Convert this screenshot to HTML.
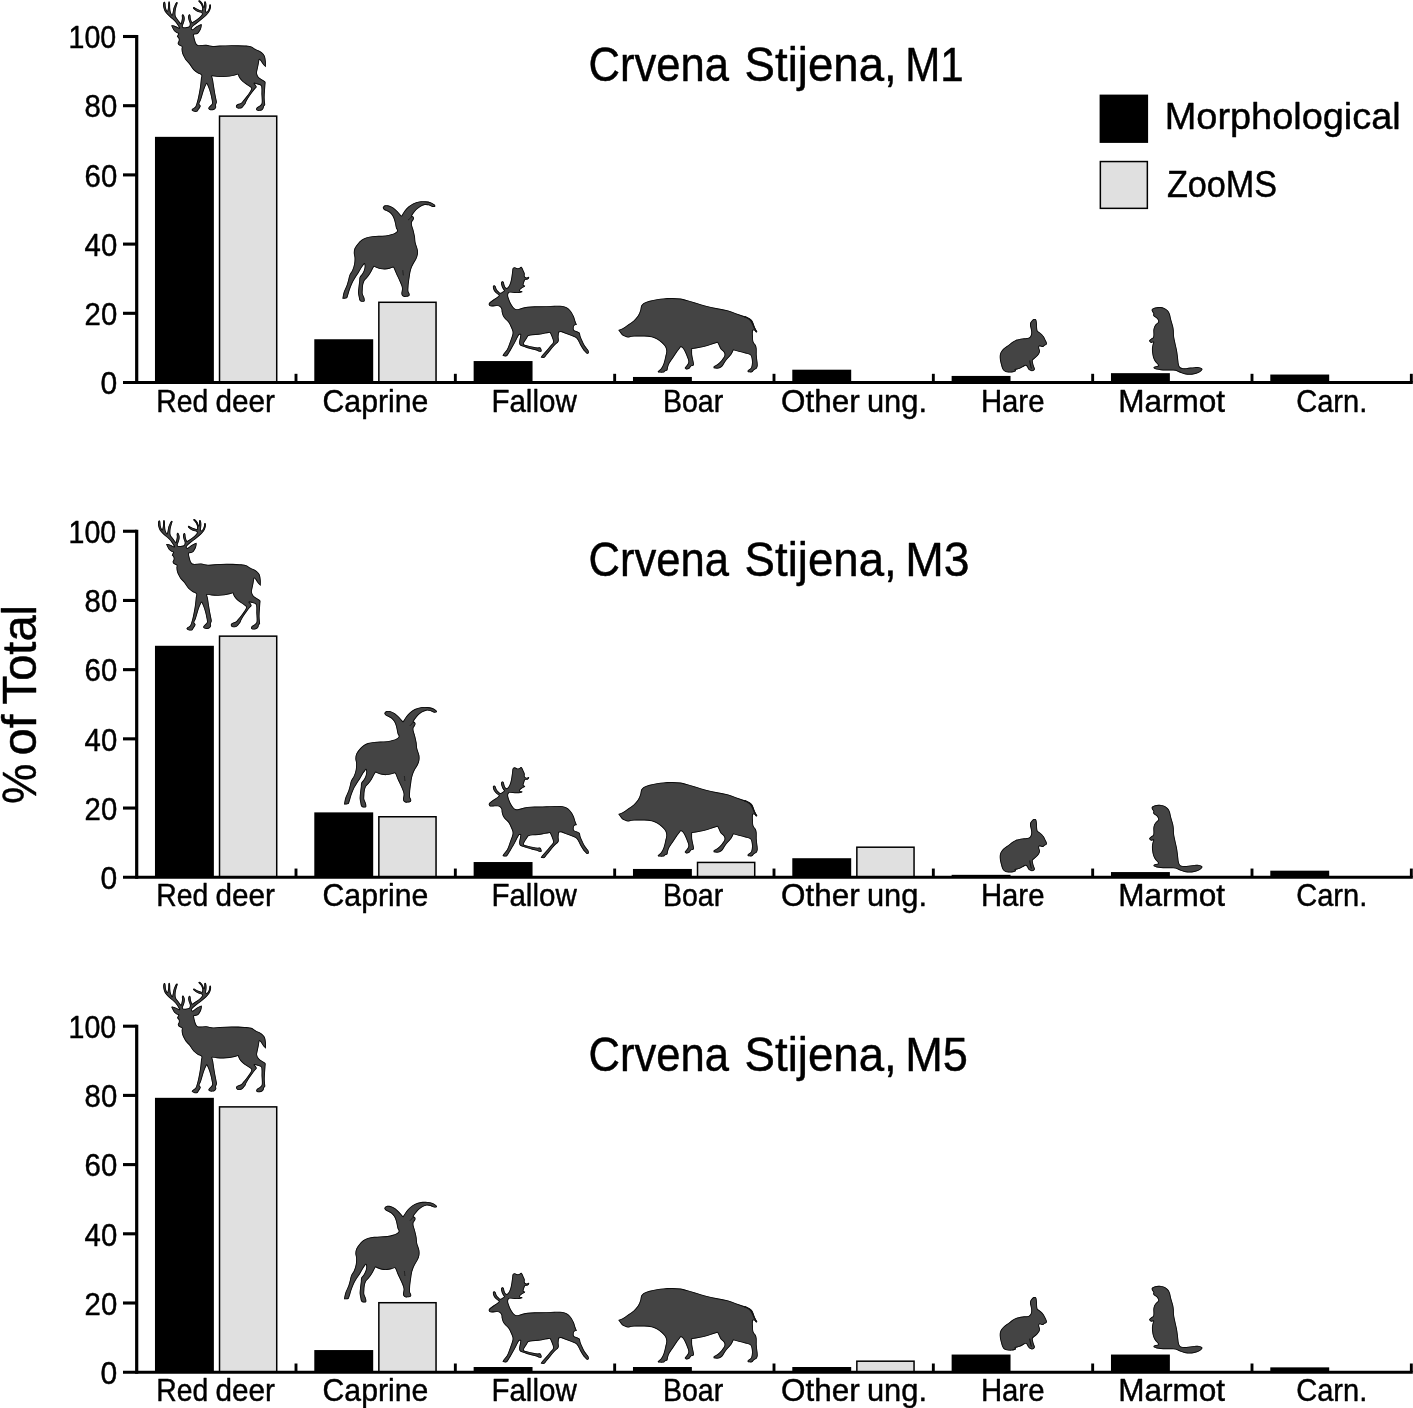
<!DOCTYPE html>
<html lang="en"><head><meta charset="utf-8"><title>Crvena Stijena fauna</title>
<style>html,body{margin:0;padding:0;background:#fff}svg{display:block}text{font-family:"Liberation Sans",sans-serif;fill:#000;stroke:#000;stroke-width:.45px;stroke-linejoin:round}</style></head><body>
<svg width="1413" height="1408" viewBox="0 0 1413 1408">
<rect width="1413" height="1408" fill="#fff"/>
<g id="panel1">
<rect x="154.97" y="136.84" width="58.9" height="245.66" fill="#000"/>
<rect x="219.52" y="116.14" width="57.20" height="266.36" fill="#e0e0e0" stroke="#000" stroke-width="1.5"/>
<rect x="314.30" y="339.25" width="58.9" height="43.25" fill="#000"/>
<rect x="378.85" y="302.29" width="57.20" height="80.21" fill="#e0e0e0" stroke="#000" stroke-width="1.5"/>
<rect x="473.64" y="361.05" width="58.9" height="21.45" fill="#000"/>
<rect x="632.97" y="376.96" width="58.9" height="5.54" fill="#000"/>
<rect x="792.30" y="369.70" width="58.9" height="12.80" fill="#000"/>
<rect x="951.63" y="375.93" width="58.9" height="6.57" fill="#000"/>
<rect x="1110.97" y="373.16" width="58.9" height="9.34" fill="#000"/>
<rect x="1270.30" y="374.54" width="58.9" height="7.96" fill="#000"/>
<path d="M136.7 35.00V384.00" stroke="#000" stroke-width="3.2" fill="none"/>
<path d="M123 382.50H1412.8" stroke="#000" stroke-width="3" fill="none"/>
<path d="M123 313.30H136.7" stroke="#000" stroke-width="3.1" fill="none"/>
<path d="M123 244.10H136.7" stroke="#000" stroke-width="3.1" fill="none"/>
<path d="M123 174.90H136.7" stroke="#000" stroke-width="3.1" fill="none"/>
<path d="M123 105.70H136.7" stroke="#000" stroke-width="3.1" fill="none"/>
<path d="M123 36.50H136.7" stroke="#000" stroke-width="3.1" fill="none"/>
<path d="M296.00 373.80V382.50" stroke="#000" stroke-width="2.9" fill="none"/>
<path d="M455.34 373.80V382.50" stroke="#000" stroke-width="2.9" fill="none"/>
<path d="M614.67 373.80V382.50" stroke="#000" stroke-width="2.9" fill="none"/>
<path d="M774.00 373.80V382.50" stroke="#000" stroke-width="2.9" fill="none"/>
<path d="M933.33 373.80V382.50" stroke="#000" stroke-width="2.9" fill="none"/>
<path d="M1092.67 373.80V382.50" stroke="#000" stroke-width="2.9" fill="none"/>
<path d="M1252.00 373.80V382.50" stroke="#000" stroke-width="2.9" fill="none"/>
<path d="M1411.33 373.80V382.50" stroke="#000" stroke-width="2.9" fill="none"/>
<text x="100.60" y="394.20" font-size="30.6" textLength="16.71" lengthAdjust="spacingAndGlyphs">0</text>
<text x="84.60" y="325.00" font-size="30.6" textLength="32.60" lengthAdjust="spacingAndGlyphs">20</text>
<text x="84.60" y="255.80" font-size="30.6" textLength="32.60" lengthAdjust="spacingAndGlyphs">40</text>
<text x="84.60" y="186.60" font-size="30.6" textLength="32.60" lengthAdjust="spacingAndGlyphs">60</text>
<text x="84.60" y="117.40" font-size="30.6" textLength="32.60" lengthAdjust="spacingAndGlyphs">80</text>
<text x="68.57" y="48.20" font-size="30.6" textLength="47.64" lengthAdjust="spacingAndGlyphs">100</text>
<text y="411.70" font-size="31.5"><tspan x="156.33" textLength="51.99" lengthAdjust="spacingAndGlyphs">Red</tspan> <tspan x="215.40" textLength="59.40" lengthAdjust="spacingAndGlyphs">deer</tspan></text>
<text y="411.70" font-size="31.5"><tspan x="322.59" textLength="105.63" lengthAdjust="spacingAndGlyphs">Caprine</tspan></text>
<text y="411.70" font-size="31.5"><tspan x="491.38" textLength="85.42" lengthAdjust="spacingAndGlyphs">Fallow</tspan></text>
<text y="411.70" font-size="31.5"><tspan x="662.94" textLength="60.24" lengthAdjust="spacingAndGlyphs">Boar</tspan></text>
<text y="411.70" font-size="31.5"><tspan x="781.08" textLength="78.62" lengthAdjust="spacingAndGlyphs">Other</tspan> <tspan x="866.94" textLength="60.07" lengthAdjust="spacingAndGlyphs">ung.</tspan></text>
<text y="411.70" font-size="31.5"><tspan x="980.91" textLength="63.53" lengthAdjust="spacingAndGlyphs">Hare</tspan></text>
<text y="411.70" font-size="31.5"><tspan x="1118.18" textLength="106.82" lengthAdjust="spacingAndGlyphs">Marmot</tspan></text>
<text y="411.70" font-size="31.5"><tspan x="1296.16" textLength="71.11" lengthAdjust="spacingAndGlyphs">Carn.</tspan></text>
<text y="80.80" font-size="47.2"><tspan x="588.60" textLength="140.50" lengthAdjust="spacingAndGlyphs">Crvena</tspan> <tspan x="744.56" textLength="152.14" lengthAdjust="spacingAndGlyphs">Stijena,</tspan> <tspan x="905.26" textLength="58.46" lengthAdjust="spacingAndGlyphs">M1</tspan></text>
</g>
<g id="panel2">
<rect x="154.97" y="645.78" width="58.9" height="231.47" fill="#000"/>
<rect x="219.52" y="636.15" width="57.20" height="241.10" fill="#e0e0e0" stroke="#000" stroke-width="1.5"/>
<rect x="314.30" y="812.38" width="58.9" height="64.88" fill="#000"/>
<rect x="378.85" y="816.76" width="57.20" height="60.49" fill="#e0e0e0" stroke="#000" stroke-width="1.5"/>
<rect x="473.64" y="862.03" width="58.9" height="15.22" fill="#000"/>
<rect x="632.97" y="868.95" width="58.9" height="8.30" fill="#000"/>
<rect x="697.52" y="862.43" width="57.20" height="14.82" fill="#e0e0e0" stroke="#000" stroke-width="1.5"/>
<rect x="792.30" y="858.22" width="58.9" height="19.03" fill="#000"/>
<rect x="856.85" y="847.21" width="57.20" height="30.04" fill="#e0e0e0" stroke="#000" stroke-width="1.5"/>
<rect x="951.63" y="874.83" width="58.9" height="2.42" fill="#000"/>
<rect x="1110.97" y="872.06" width="58.9" height="5.19" fill="#000"/>
<rect x="1270.30" y="870.68" width="58.9" height="6.57" fill="#000"/>
<path d="M136.7 529.75V878.75" stroke="#000" stroke-width="3.2" fill="none"/>
<path d="M123 877.25H1412.8" stroke="#000" stroke-width="3" fill="none"/>
<path d="M123 808.05H136.7" stroke="#000" stroke-width="3.1" fill="none"/>
<path d="M123 738.85H136.7" stroke="#000" stroke-width="3.1" fill="none"/>
<path d="M123 669.65H136.7" stroke="#000" stroke-width="3.1" fill="none"/>
<path d="M123 600.45H136.7" stroke="#000" stroke-width="3.1" fill="none"/>
<path d="M123 531.25H136.7" stroke="#000" stroke-width="3.1" fill="none"/>
<path d="M296.00 868.55V877.25" stroke="#000" stroke-width="2.9" fill="none"/>
<path d="M455.34 868.55V877.25" stroke="#000" stroke-width="2.9" fill="none"/>
<path d="M614.67 868.55V877.25" stroke="#000" stroke-width="2.9" fill="none"/>
<path d="M774.00 868.55V877.25" stroke="#000" stroke-width="2.9" fill="none"/>
<path d="M933.33 868.55V877.25" stroke="#000" stroke-width="2.9" fill="none"/>
<path d="M1092.67 868.55V877.25" stroke="#000" stroke-width="2.9" fill="none"/>
<path d="M1252.00 868.55V877.25" stroke="#000" stroke-width="2.9" fill="none"/>
<path d="M1411.33 868.55V877.25" stroke="#000" stroke-width="2.9" fill="none"/>
<text x="100.60" y="888.95" font-size="30.6" textLength="16.71" lengthAdjust="spacingAndGlyphs">0</text>
<text x="84.60" y="819.75" font-size="30.6" textLength="32.60" lengthAdjust="spacingAndGlyphs">20</text>
<text x="84.60" y="750.55" font-size="30.6" textLength="32.60" lengthAdjust="spacingAndGlyphs">40</text>
<text x="84.60" y="681.35" font-size="30.6" textLength="32.60" lengthAdjust="spacingAndGlyphs">60</text>
<text x="84.60" y="612.15" font-size="30.6" textLength="32.60" lengthAdjust="spacingAndGlyphs">80</text>
<text x="68.57" y="542.95" font-size="30.6" textLength="47.64" lengthAdjust="spacingAndGlyphs">100</text>
<text y="906.45" font-size="31.5"><tspan x="156.33" textLength="51.99" lengthAdjust="spacingAndGlyphs">Red</tspan> <tspan x="215.40" textLength="59.40" lengthAdjust="spacingAndGlyphs">deer</tspan></text>
<text y="906.45" font-size="31.5"><tspan x="322.59" textLength="105.63" lengthAdjust="spacingAndGlyphs">Caprine</tspan></text>
<text y="906.45" font-size="31.5"><tspan x="491.38" textLength="85.42" lengthAdjust="spacingAndGlyphs">Fallow</tspan></text>
<text y="906.45" font-size="31.5"><tspan x="662.94" textLength="60.24" lengthAdjust="spacingAndGlyphs">Boar</tspan></text>
<text y="906.45" font-size="31.5"><tspan x="781.08" textLength="78.62" lengthAdjust="spacingAndGlyphs">Other</tspan> <tspan x="866.94" textLength="60.07" lengthAdjust="spacingAndGlyphs">ung.</tspan></text>
<text y="906.45" font-size="31.5"><tspan x="980.91" textLength="63.53" lengthAdjust="spacingAndGlyphs">Hare</tspan></text>
<text y="906.45" font-size="31.5"><tspan x="1118.18" textLength="106.82" lengthAdjust="spacingAndGlyphs">Marmot</tspan></text>
<text y="906.45" font-size="31.5"><tspan x="1296.16" textLength="71.11" lengthAdjust="spacingAndGlyphs">Carn.</tspan></text>
<text y="575.55" font-size="47.2"><tspan x="588.60" textLength="140.50" lengthAdjust="spacingAndGlyphs">Crvena</tspan> <tspan x="744.56" textLength="152.14" lengthAdjust="spacingAndGlyphs">Stijena,</tspan> <tspan x="905.22" textLength="64.27" lengthAdjust="spacingAndGlyphs">M3</tspan></text>
</g>
<g id="panel3">
<rect x="154.97" y="1097.82" width="58.9" height="274.38" fill="#000"/>
<rect x="219.52" y="1106.88" width="57.20" height="265.32" fill="#e0e0e0" stroke="#000" stroke-width="1.5"/>
<rect x="314.30" y="1350.06" width="58.9" height="22.14" fill="#000"/>
<rect x="378.85" y="1302.71" width="57.20" height="69.49" fill="#e0e0e0" stroke="#000" stroke-width="1.5"/>
<rect x="473.64" y="1367.01" width="58.9" height="5.19" fill="#000"/>
<rect x="632.97" y="1367.01" width="58.9" height="5.19" fill="#000"/>
<rect x="792.30" y="1367.01" width="58.9" height="5.19" fill="#000"/>
<rect x="856.85" y="1361.19" width="57.20" height="11.01" fill="#e0e0e0" stroke="#000" stroke-width="1.5"/>
<rect x="951.63" y="1354.55" width="58.9" height="17.65" fill="#000"/>
<rect x="1110.97" y="1354.55" width="58.9" height="17.65" fill="#000"/>
<rect x="1270.30" y="1367.36" width="58.9" height="4.84" fill="#000"/>
<path d="M136.7 1024.70V1373.70" stroke="#000" stroke-width="3.2" fill="none"/>
<path d="M123 1372.20H1412.8" stroke="#000" stroke-width="3" fill="none"/>
<path d="M123 1303.00H136.7" stroke="#000" stroke-width="3.1" fill="none"/>
<path d="M123 1233.80H136.7" stroke="#000" stroke-width="3.1" fill="none"/>
<path d="M123 1164.60H136.7" stroke="#000" stroke-width="3.1" fill="none"/>
<path d="M123 1095.40H136.7" stroke="#000" stroke-width="3.1" fill="none"/>
<path d="M123 1026.20H136.7" stroke="#000" stroke-width="3.1" fill="none"/>
<path d="M296.00 1363.50V1372.20" stroke="#000" stroke-width="2.9" fill="none"/>
<path d="M455.34 1363.50V1372.20" stroke="#000" stroke-width="2.9" fill="none"/>
<path d="M614.67 1363.50V1372.20" stroke="#000" stroke-width="2.9" fill="none"/>
<path d="M774.00 1363.50V1372.20" stroke="#000" stroke-width="2.9" fill="none"/>
<path d="M933.33 1363.50V1372.20" stroke="#000" stroke-width="2.9" fill="none"/>
<path d="M1092.67 1363.50V1372.20" stroke="#000" stroke-width="2.9" fill="none"/>
<path d="M1252.00 1363.50V1372.20" stroke="#000" stroke-width="2.9" fill="none"/>
<path d="M1411.33 1363.50V1372.20" stroke="#000" stroke-width="2.9" fill="none"/>
<text x="100.60" y="1383.90" font-size="30.6" textLength="16.71" lengthAdjust="spacingAndGlyphs">0</text>
<text x="84.60" y="1314.70" font-size="30.6" textLength="32.60" lengthAdjust="spacingAndGlyphs">20</text>
<text x="84.60" y="1245.50" font-size="30.6" textLength="32.60" lengthAdjust="spacingAndGlyphs">40</text>
<text x="84.60" y="1176.30" font-size="30.6" textLength="32.60" lengthAdjust="spacingAndGlyphs">60</text>
<text x="84.60" y="1107.10" font-size="30.6" textLength="32.60" lengthAdjust="spacingAndGlyphs">80</text>
<text x="68.57" y="1037.90" font-size="30.6" textLength="47.64" lengthAdjust="spacingAndGlyphs">100</text>
<text y="1401.40" font-size="31.5"><tspan x="156.33" textLength="51.99" lengthAdjust="spacingAndGlyphs">Red</tspan> <tspan x="215.40" textLength="59.40" lengthAdjust="spacingAndGlyphs">deer</tspan></text>
<text y="1401.40" font-size="31.5"><tspan x="322.59" textLength="105.63" lengthAdjust="spacingAndGlyphs">Caprine</tspan></text>
<text y="1401.40" font-size="31.5"><tspan x="491.38" textLength="85.42" lengthAdjust="spacingAndGlyphs">Fallow</tspan></text>
<text y="1401.40" font-size="31.5"><tspan x="662.94" textLength="60.24" lengthAdjust="spacingAndGlyphs">Boar</tspan></text>
<text y="1401.40" font-size="31.5"><tspan x="781.08" textLength="78.62" lengthAdjust="spacingAndGlyphs">Other</tspan> <tspan x="866.94" textLength="60.07" lengthAdjust="spacingAndGlyphs">ung.</tspan></text>
<text y="1401.40" font-size="31.5"><tspan x="980.91" textLength="63.53" lengthAdjust="spacingAndGlyphs">Hare</tspan></text>
<text y="1401.40" font-size="31.5"><tspan x="1118.18" textLength="106.82" lengthAdjust="spacingAndGlyphs">Marmot</tspan></text>
<text y="1401.40" font-size="31.5"><tspan x="1296.16" textLength="71.11" lengthAdjust="spacingAndGlyphs">Carn.</tspan></text>
<text y="1070.50" font-size="47.2"><tspan x="588.60" textLength="140.50" lengthAdjust="spacingAndGlyphs">Crvena</tspan> <tspan x="744.56" textLength="152.14" lengthAdjust="spacingAndGlyphs">Stijena,</tspan> <tspan x="905.22" textLength="62.65" lengthAdjust="spacingAndGlyphs">M5</tspan></text>
</g>
<rect x="1099.6" y="94.6" width="48.5" height="48.3" fill="#000"/>
<rect x="1100.35" y="161.55" width="47.0" height="46.8" fill="#e0e0e0" stroke="#000" stroke-width="1.5"/>
<text y="128.7" font-size="36"><tspan x="1164.76" textLength="235.89" lengthAdjust="spacingAndGlyphs">Morphological</tspan></text>
<text y="197.2" font-size="36"><tspan x="1166.90" textLength="110.30" lengthAdjust="spacingAndGlyphs">ZooMS</tspan></text>
<text transform="translate(35.6 0) rotate(-90)" y="0" font-size="47.6"><tspan x="-804.06" textLength="40.32" lengthAdjust="spacingAndGlyphs">%</tspan> <tspan x="-755.46" textLength="40.93" lengthAdjust="spacingAndGlyphs">of</tspan> <tspan x="-704.42" textLength="99.51" lengthAdjust="spacingAndGlyphs">Total</tspan></text>
<g fill="#444" stroke="#0c0c0c" stroke-width="1.8" stroke-linejoin="round">
<defs>
<clipPath id="clip-deer"><path d="M171.16 25.48C171.70 25.40 172.24 25.15 172.78 25.23C173.67 25.35 174.51 25.75 175.34 26.08C176.21 26.43 177.05 26.87 177.90 27.27C178.35 27.48 178.81 27.70 179.26 27.91C178.88 27.27 178.51 26.62 178.11 25.99C177.56 25.13 177.03 24.25 176.41 23.44C175.67 22.47 174.92 21.52 174.06 20.67C173.07 19.67 171.91 18.84 170.87 17.90C169.64 16.78 168.39 15.69 167.24 14.49C166.35 13.55 165.43 12.62 164.77 11.51C164.16 10.46 163.79 9.27 163.49 8.10C163.22 6.99 163.07 5.83 163.07 4.69C163.07 3.89 163.20 3.08 163.49 2.34C163.62 2.03 163.93 1.75 164.26 1.70C164.58 1.66 164.97 1.85 165.11 2.13C165.44 2.78 165.44 3.54 165.54 4.26C165.67 5.25 165.60 6.27 165.80 7.24C165.97 8.15 166.29 9.03 166.65 9.89C166.81 10.26 167.10 10.57 167.33 10.91C167.56 9.83 167.87 8.76 168.01 7.67C168.16 6.54 168.10 5.40 168.18 4.26C168.23 3.55 168.19 2.82 168.39 2.13C168.49 1.81 168.70 1.36 169.03 1.36C169.40 1.36 169.69 1.79 169.80 2.13C170.06 2.95 170.04 3.83 170.10 4.69C170.17 5.82 170.08 6.96 170.18 8.10C170.30 9.38 170.40 10.69 170.74 11.93C171.03 12.98 171.62 13.92 172.06 14.91C172.29 13.92 172.54 12.93 172.74 11.93C173.00 10.66 173.11 9.35 173.47 8.10C173.80 6.92 174.31 5.80 174.83 4.69C175.19 3.92 175.57 3.14 176.11 2.47C176.31 2.22 176.65 1.96 176.96 2.05C177.32 2.14 177.70 2.53 177.68 2.90C177.65 3.82 177.08 4.65 176.83 5.54C176.47 6.81 176.09 8.08 175.85 9.37C175.62 10.64 175.43 11.92 175.43 13.21C175.43 14.36 175.43 15.56 175.85 16.62C176.28 17.68 177.22 18.46 177.90 19.39C178.62 20.38 179.30 21.39 180.03 22.37C180.32 22.77 180.65 23.14 180.97 23.52C181.11 22.78 181.25 22.05 181.39 21.31C181.58 20.31 181.87 19.33 181.95 18.32C182.02 17.33 181.62 16.32 181.82 15.34C181.92 14.84 182.28 14.17 182.80 14.15C183.33 14.13 183.71 14.78 183.95 15.26C184.37 16.07 184.65 16.98 184.72 17.90C184.80 19.04 184.61 20.19 184.37 21.31C184.16 22.33 183.70 23.30 183.35 24.29C183.13 24.93 182.70 25.53 182.67 26.21C182.65 26.61 183.04 26.92 183.22 27.27C184.01 27.30 184.79 27.43 185.57 27.36C186.43 27.28 187.31 27.14 188.12 26.85C188.61 26.67 188.98 26.28 189.40 25.99C189.55 25.28 189.90 24.58 189.83 23.86C189.73 22.89 189.17 22.03 188.89 21.09C188.60 20.11 188.23 19.13 188.12 18.11C188.04 17.26 188.06 16.36 188.34 15.55C188.51 15.05 188.87 14.41 189.40 14.36C189.87 14.31 190.27 14.90 190.43 15.34C190.72 16.15 190.53 17.05 190.68 17.90C190.83 18.76 191.04 19.62 191.32 20.45C191.54 21.12 191.89 21.73 192.17 22.37C193.52 21.48 194.90 20.62 196.22 19.69C197.31 18.92 198.42 18.15 199.42 17.26C200.24 16.52 201.04 15.73 201.68 14.83C201.91 14.49 202.04 14.04 201.97 13.64C201.92 13.29 201.55 13.07 201.33 12.78C200.55 12.64 199.74 12.62 198.99 12.36C197.95 12.00 196.94 11.53 196.01 10.95C195.10 10.39 194.25 9.71 193.49 8.95C193.22 8.68 192.90 8.30 192.98 7.93C193.08 7.49 193.48 6.94 193.92 6.99C194.77 7.08 195.38 7.88 196.14 8.27C197.11 8.77 198.09 9.28 199.12 9.67C200.04 10.02 201.02 10.21 201.97 10.48C202.04 9.62 202.33 8.74 202.19 7.88C201.99 6.70 201.59 5.52 200.99 4.47C200.41 3.45 199.39 2.74 198.69 1.79C198.50 1.52 198.26 1.17 198.35 0.85C198.44 0.56 198.82 0.29 199.12 0.34C199.78 0.45 200.42 0.81 200.91 1.28C201.73 2.08 202.43 3.03 202.95 4.05C203.43 4.97 203.58 6.04 203.89 7.03C203.98 6.25 204.09 5.47 204.15 4.69C204.21 3.84 204.04 2.96 204.23 2.13C204.32 1.77 204.58 1.30 204.96 1.28C205.37 1.26 205.79 1.66 205.94 2.05C206.32 3.08 206.39 4.22 206.45 5.33C206.50 6.39 206.38 7.46 206.28 8.52C206.21 9.31 205.88 10.08 205.94 10.87C205.97 11.27 206.33 11.58 206.53 11.93C206.96 11.43 207.48 11.01 207.81 10.44C208.32 9.57 208.74 8.64 209.00 7.67C209.25 6.77 209.03 5.79 209.30 4.90C209.41 4.56 209.72 4.15 210.07 4.18C210.47 4.21 210.86 4.63 210.92 5.03C211.09 6.18 210.99 7.39 210.71 8.52C210.37 9.87 209.83 11.19 209.09 12.36C208.28 13.63 207.18 14.71 206.11 15.77C205.02 16.84 203.79 17.78 202.61 18.75C201.21 19.91 199.77 21.02 198.35 22.16C196.93 23.30 195.45 24.36 194.09 25.57C193.29 26.28 192.51 27.04 191.87 27.91C191.70 28.14 191.62 28.51 191.75 28.76C191.90 29.08 192.31 29.19 192.60 29.40C193.81 28.44 194.92 27.34 196.22 26.51C197.42 25.73 198.76 25.18 200.06 24.59C200.53 24.37 201.05 24.25 201.55 24.08C201.62 24.57 201.82 25.07 201.76 25.57C201.63 26.73 201.39 27.88 200.99 28.98C200.67 29.89 200.16 30.73 199.63 31.53C199.13 32.29 198.66 33.12 197.93 33.66C197.35 34.09 196.57 34.14 195.88 34.30C195.26 34.45 194.63 34.50 194.01 34.60C194.01 34.93 193.96 35.26 194.01 35.58C194.16 36.58 194.35 37.58 194.60 38.56C194.91 39.79 195.22 41.01 195.67 42.19C195.93 42.87 196.23 43.57 196.73 44.10C197.19 44.60 197.77 45.12 198.44 45.17C201.00 45.34 203.57 44.59 206.14 44.75C208.45 44.88 210.65 45.88 212.96 46.02C215.23 46.17 217.50 45.70 219.77 45.60C223.75 45.42 227.73 45.17 231.71 45.17C235.97 45.17 240.24 45.32 244.49 45.60C246.78 45.75 249.12 45.78 251.31 46.45C252.89 46.94 254.12 48.21 255.57 49.01C257.24 49.92 259.13 50.46 260.68 51.56C262.16 52.61 263.68 53.80 264.52 55.40C265.46 57.20 265.58 59.34 265.80 61.37C266.01 63.34 265.80 65.34 265.80 67.33C264.95 66.48 263.99 65.72 263.24 64.77C262.28 63.57 261.61 62.17 260.68 60.94C260.32 60.46 259.83 60.09 259.41 59.66C259.12 61.37 258.88 63.08 258.55 64.77C258.17 66.77 257.65 68.74 257.28 70.74C257.12 71.58 256.83 72.44 256.97 73.27C257.17 74.40 257.64 75.49 258.25 76.46C258.73 77.22 259.44 77.83 260.16 78.37C261.15 79.11 262.32 79.59 263.34 80.28C264.06 80.76 265.02 81.09 265.38 81.87C265.78 82.74 265.43 83.78 265.38 84.74C265.28 86.86 265.06 88.98 264.94 91.11C264.81 93.23 264.62 95.35 264.62 97.48C264.62 99.18 264.82 100.88 264.94 102.57C264.99 103.42 265.33 104.29 265.13 105.12C264.99 105.68 264.24 105.89 263.98 106.39C263.73 106.88 263.89 107.49 263.66 107.99C263.35 108.68 263.02 109.46 262.39 109.90C261.56 110.47 260.52 110.74 259.52 110.85C258.67 110.95 257.75 110.89 256.97 110.54C256.49 110.32 256.02 109.79 256.02 109.26C256.02 108.55 256.47 107.85 256.97 107.35C257.68 106.64 258.73 106.38 259.52 105.76C260.23 105.20 261.11 104.69 261.43 103.85C261.90 102.66 261.75 101.30 261.75 100.03C261.75 98.11 261.49 96.21 261.43 94.29C261.38 92.38 261.57 90.47 261.43 88.56C261.36 87.58 261.46 86.41 260.80 85.69C260.02 84.85 258.69 84.80 257.61 84.42C256.57 84.05 255.49 83.78 254.43 83.46C254.75 83.78 255.14 84.04 255.38 84.42C255.89 85.22 256.72 86.02 256.66 86.97C256.60 87.80 255.58 88.23 255.06 88.88C253.98 90.25 252.92 91.62 251.88 93.02C250.79 94.49 249.68 95.94 248.69 97.48C247.77 98.92 246.91 100.41 246.15 101.94C245.85 102.54 245.85 103.27 245.51 103.85C245.09 104.56 244.45 105.12 243.92 105.76C243.39 106.39 243.01 107.20 242.32 107.67C241.58 108.19 240.68 108.51 239.78 108.62C238.93 108.73 237.99 108.69 237.23 108.31C236.62 108.00 236.15 107.36 235.96 106.71C235.80 106.19 235.91 105.53 236.27 105.12C236.84 104.48 237.73 104.21 238.50 103.85C239.33 103.46 240.31 103.42 241.05 102.89C241.85 102.32 242.33 101.41 242.96 100.66C244.03 99.39 245.14 98.16 246.15 96.84C247.26 95.39 248.37 93.94 249.33 92.38C250.08 91.17 251.08 89.98 251.24 88.56C251.32 87.89 250.50 87.40 249.97 86.97C248.78 86.00 247.40 85.31 246.15 84.42C244.85 83.50 243.48 82.65 242.32 81.55C241.13 80.41 240.03 79.13 239.14 77.73C238.53 76.77 238.29 75.61 237.87 74.55C236.80 74.87 235.76 75.24 234.68 75.50C233.00 75.92 231.31 76.35 229.59 76.59C227.48 76.88 225.35 77.06 223.22 77.10C221.09 77.13 218.97 76.96 216.85 76.78C215.25 76.64 213.66 76.35 212.07 76.14C212.39 77.31 212.80 78.45 213.03 79.64C213.43 81.75 213.64 83.89 213.98 86.01C214.39 88.56 214.79 91.11 215.25 93.66C215.64 95.79 216.15 97.89 216.53 100.03C216.68 100.87 216.95 101.72 216.85 102.57C216.73 103.47 216.01 104.22 215.89 105.12C215.79 105.87 216.38 106.62 216.21 107.35C216.04 108.10 215.55 108.80 214.94 109.26C214.21 109.81 213.29 110.11 212.39 110.22C211.43 110.33 210.42 110.24 209.52 109.90C208.96 109.68 208.38 109.21 208.25 108.62C208.12 108.07 208.55 107.49 208.89 107.03C209.42 106.30 210.22 105.81 210.80 105.12C211.29 104.53 211.99 103.97 212.07 103.21C212.22 101.72 211.71 100.23 211.43 98.75C211.07 96.83 210.68 94.91 210.16 93.02C209.62 91.08 208.96 89.17 208.25 87.29C207.79 86.09 207.19 84.95 206.66 83.78C206.02 85.16 205.29 86.51 204.75 87.92C204.02 89.80 203.44 91.74 202.83 93.66C202.17 95.77 201.64 97.93 200.92 100.03C200.47 101.33 199.50 102.48 199.33 103.85C199.27 104.37 200.05 104.65 200.29 105.12C200.48 105.51 200.75 105.98 200.61 106.39C200.19 107.56 199.35 108.53 198.69 109.58C198.29 110.23 198.09 111.13 197.42 111.49C196.57 111.95 195.49 112.02 194.55 111.81C193.49 111.57 192.25 111.15 191.69 110.22C191.37 109.69 192.21 109.06 192.64 108.62C193.39 107.87 194.59 107.59 195.19 106.71C196.03 105.49 196.35 103.99 196.78 102.57C197.30 100.90 197.68 99.19 198.06 97.48C198.53 95.36 198.96 93.24 199.33 91.11C199.70 88.99 200.02 86.87 200.29 84.74C200.55 82.62 200.71 80.49 200.92 78.37C201.03 77.31 201.82 76.08 201.24 75.18C200.50 74.04 198.75 74.06 197.61 73.30C196.10 72.28 194.58 71.23 193.35 69.89C191.71 68.08 190.60 65.84 189.09 63.92C188.00 62.54 186.64 61.39 185.57 60.00C184.89 59.11 184.37 58.10 183.86 57.10C183.23 55.85 182.55 54.61 182.16 53.27C181.76 51.89 181.62 50.44 181.52 49.00C181.47 48.29 181.97 47.55 181.73 46.87C181.56 46.39 180.89 46.29 180.45 46.02C179.75 45.58 178.89 45.35 178.32 44.74C177.91 44.30 177.65 43.64 177.68 43.04C177.72 42.41 178.37 41.95 178.54 41.33C178.73 40.65 178.87 39.91 178.75 39.20C178.65 38.58 178.28 38.01 177.90 37.50C177.62 37.14 177.19 36.93 176.83 36.65C177.05 36.22 177.26 35.79 177.47 35.37C177.76 34.80 178.04 34.23 178.32 33.66C177.76 33.45 177.14 33.34 176.62 33.03C175.71 32.48 174.76 31.91 174.06 31.11C173.31 30.24 172.88 29.14 172.36 28.12C171.92 27.27 171.56 26.36 171.16 25.48Z"/></clipPath>
<clipPath id="clip-caprine"><path d="M383.05 206.72C383.57 206.07 384.19 205.35 385.00 205.16C386.27 204.85 387.65 204.97 388.91 205.31C390.57 205.77 392.16 206.55 393.59 207.50C395.05 208.47 396.27 209.76 397.50 211.02C398.88 212.43 400.10 213.98 401.41 215.47C402.45 213.85 403.36 212.15 404.53 210.62C405.71 209.09 406.97 207.59 408.44 206.33C409.86 205.10 411.42 203.99 413.12 203.20C415.10 202.28 417.22 201.61 419.38 201.25C421.43 200.90 423.55 200.93 425.62 201.09C427.48 201.24 429.35 201.55 431.09 202.19C432.39 202.66 433.57 203.47 434.61 204.38C435.05 204.76 435.49 205.36 435.39 205.94C435.31 206.40 434.68 206.64 434.22 206.72C433.45 206.86 432.63 206.78 431.88 206.56C430.78 206.25 429.86 205.44 428.75 205.16C427.48 204.83 426.13 204.53 424.84 204.77C423.18 205.07 421.61 205.86 420.16 206.72C418.72 207.57 417.43 208.66 416.25 209.84C415.07 211.02 414.11 212.41 413.12 213.75C412.68 214.36 412.34 215.05 411.95 215.70C412.47 215.96 413.18 216.01 413.52 216.48C413.90 217.02 414.03 217.78 413.91 218.44C413.75 219.30 413.16 220.02 412.73 220.78C412.51 221.19 412.05 221.49 411.95 221.95C411.77 222.85 411.79 223.79 411.95 224.69C412.19 226.03 412.77 227.28 413.12 228.59C413.55 230.15 413.94 231.71 414.30 233.28C414.59 234.58 414.90 235.87 415.08 237.19C415.29 238.74 415.19 240.33 415.47 241.88C415.71 243.21 416.25 244.48 416.64 245.78C417.03 247.08 417.63 248.34 417.81 249.69C418.02 251.24 418.07 252.83 417.81 254.38C417.54 256.00 416.93 257.56 416.25 259.06C415.62 260.44 414.64 261.64 413.91 262.97C413.20 264.24 412.48 265.52 411.95 266.88C411.31 268.52 410.79 270.23 410.39 271.95C410.01 273.62 409.86 275.34 409.61 277.03C409.34 278.85 409.04 280.67 408.83 282.50C408.65 284.06 408.51 285.62 408.44 287.19C408.38 288.49 408.21 289.81 408.44 291.09C408.61 292.07 409.45 292.85 409.61 293.83C409.72 294.48 409.69 295.31 409.22 295.78C408.64 296.36 407.69 296.45 406.88 296.56C405.84 296.71 404.75 296.87 403.75 296.56C402.95 296.32 402.23 295.71 401.80 295.00C401.39 294.32 401.38 293.45 401.41 292.66C401.46 291.34 402.03 290.07 402.03 288.75C402.03 287.69 401.72 286.64 401.41 285.62C400.99 284.29 400.40 283.00 399.84 281.72C399.10 280.01 398.28 278.34 397.50 276.64C396.84 275.21 396.17 273.79 395.55 272.34C394.99 271.05 394.57 269.71 393.98 268.44C393.79 268.01 393.46 267.66 393.20 267.27C392.03 267.66 390.89 268.15 389.69 268.44C388.15 268.80 386.58 269.15 385.00 269.22C383.43 269.28 381.86 269.11 380.31 268.83C378.98 268.58 377.68 268.13 376.41 267.66C375.59 267.35 374.84 266.88 374.06 266.48C373.54 267.40 373.01 268.30 372.50 269.22C371.71 270.64 371.03 272.14 370.16 273.52C369.21 275.01 368.13 276.42 367.03 277.81C366.17 278.90 364.97 279.73 364.30 280.94C363.64 282.13 363.37 283.51 363.12 284.84C362.84 286.39 362.81 287.96 362.73 289.53C362.68 290.83 362.48 292.16 362.73 293.44C363.01 294.81 363.94 295.99 364.30 297.34C364.60 298.48 364.90 299.70 364.69 300.86C364.60 301.32 363.99 301.64 363.52 301.64C362.32 301.64 360.88 301.67 360.00 300.86C359.09 300.02 359.11 298.55 358.83 297.34C358.46 295.80 358.11 294.24 358.05 292.66C357.98 290.83 358.26 289.01 358.44 287.19C358.65 285.10 358.98 283.02 359.22 280.94C359.37 279.64 359.14 278.25 359.61 277.03C360.08 275.82 361.27 275.02 361.95 273.91C362.71 272.66 363.43 271.37 363.91 270.00C364.34 268.75 364.60 267.42 364.69 266.09C364.74 265.30 364.43 264.53 364.30 263.75C363.39 265.05 362.40 266.31 361.56 267.66C360.45 269.44 359.54 271.34 358.44 273.12C357.45 274.72 356.32 276.23 355.31 277.81C354.50 279.09 353.65 280.36 352.97 281.72C352.08 283.49 351.34 285.34 350.62 287.19C350.03 288.72 349.56 290.31 349.06 291.88C348.65 293.17 348.37 294.51 347.89 295.78C347.58 296.60 347.50 297.73 346.72 298.12C345.43 298.77 343.85 298.39 342.42 298.52C342.55 297.60 342.62 296.68 342.81 295.78C343.14 294.21 343.44 292.61 343.98 291.09C344.75 288.95 345.94 286.98 346.72 284.84C347.37 283.06 347.79 281.21 348.28 279.38C348.70 277.82 348.83 276.17 349.45 274.69C350.15 273.02 351.47 271.66 352.19 270.00C353.05 267.99 353.74 265.90 354.14 263.75C354.53 261.70 354.61 259.59 354.53 257.50C354.47 255.92 353.75 254.40 353.75 252.81C353.75 251.23 353.92 249.59 354.53 248.12C355.25 246.39 356.47 244.89 357.66 243.44C358.82 242.01 360.07 240.61 361.56 239.53C362.98 238.50 364.59 237.72 366.25 237.19C368.27 236.54 370.40 236.28 372.50 236.02C374.57 235.76 376.67 235.75 378.75 235.62C381.09 235.49 383.45 235.53 385.78 235.23C387.63 235.00 389.46 234.58 391.25 234.06C392.60 233.67 393.95 233.22 395.16 232.50C395.95 232.03 396.96 231.46 397.11 230.55C397.27 229.57 396.22 228.76 395.94 227.81C395.56 226.54 395.45 225.20 395.16 223.91C394.80 222.34 394.49 220.75 393.98 219.22C393.58 218.00 393.12 216.78 392.42 215.70C391.67 214.54 390.76 213.45 389.69 212.58C388.65 211.73 387.35 211.26 386.17 210.62C385.40 210.21 384.51 210.00 383.83 209.45C383.35 209.06 382.98 208.49 382.81 207.89C382.70 207.51 382.80 207.03 383.05 206.72Z"/></clipPath>
<clipPath id="clip-fallow"><path d="M488.73 303.74C489.10 302.72 490.12 302.05 490.95 301.35C492.20 300.32 493.62 299.52 494.93 298.57C496.01 297.79 497.08 297.01 498.11 296.18C498.41 295.95 498.64 295.65 498.91 295.39C498.01 294.70 497.01 294.12 496.20 293.32C495.24 292.36 494.27 291.35 493.66 290.14C493.12 289.07 492.78 287.83 492.86 286.64C492.90 286.07 493.42 285.43 493.98 285.36C494.59 285.29 495.21 285.81 495.57 286.32C496.16 287.15 496.16 288.30 496.68 289.18C497.21 290.07 497.94 290.84 498.67 291.57C499.17 292.06 499.64 292.80 500.34 292.84C501.13 292.89 501.82 292.24 502.49 291.81C503.08 291.43 503.55 290.91 504.08 290.46C503.55 289.71 502.91 289.04 502.49 288.23C501.97 287.22 501.55 286.15 501.30 285.05C501.09 284.14 500.86 283.15 501.14 282.26C501.31 281.72 501.92 281.23 502.49 281.23C503.06 281.23 503.58 281.76 503.84 282.26C504.28 283.11 504.12 284.16 504.48 285.05C504.87 286.04 505.21 287.19 506.07 287.83C506.51 288.16 507.27 287.82 507.66 287.43C508.54 286.55 509.14 285.39 509.65 284.25C510.21 282.99 510.54 281.62 510.84 280.27C511.20 278.70 511.40 277.10 511.64 275.50C511.88 273.91 512.02 272.31 512.27 270.73C512.42 269.79 512.28 268.71 512.83 267.94C513.24 267.36 514.11 267.11 514.82 267.15C515.68 267.20 516.35 268.03 517.21 268.18C517.86 268.30 518.57 268.18 519.19 267.94C519.88 267.69 520.30 266.75 521.02 266.75C521.63 266.75 522.05 267.44 522.38 267.94C522.92 268.79 523.17 269.80 523.57 270.73C523.97 271.66 524.55 272.52 524.76 273.51C524.96 274.42 524.42 275.43 524.76 276.30C525.01 276.91 525.69 277.42 526.35 277.49C527.19 277.57 527.91 276.58 528.74 276.69C529.16 276.75 529.30 277.50 529.14 277.89C528.84 278.58 528.22 279.14 527.55 279.48C526.83 279.84 525.81 279.39 525.16 279.88C524.59 280.30 524.58 281.18 524.37 281.86C524.04 282.91 523.36 283.97 523.57 285.05C523.69 285.63 524.94 285.29 525.16 285.84C525.34 286.29 524.75 286.75 524.37 287.04C523.65 287.57 522.67 287.67 521.98 288.23C521.18 288.88 519.86 289.59 519.99 290.61C520.09 291.45 521.75 290.86 522.38 291.41C522.64 291.64 522.29 292.22 521.98 292.36C520.99 292.80 519.87 292.91 518.80 293.00C517.48 293.12 516.14 293.07 514.82 293.00C513.49 292.93 512.17 292.60 510.84 292.60C510.17 292.60 509.33 292.52 508.85 293.00C508.26 293.59 508.06 294.55 508.06 295.39C508.06 296.48 508.51 297.53 508.85 298.57C509.30 299.92 509.81 301.27 510.44 302.55C511.14 303.93 511.86 305.32 512.83 306.52C513.60 307.47 514.48 308.46 515.61 308.91C516.60 309.30 517.75 309.10 518.80 308.91C520.70 308.57 522.47 307.70 524.37 307.32C526.46 306.90 528.60 306.67 530.73 306.52C533.38 306.35 536.03 306.43 538.68 306.37C541.34 306.30 543.99 306.23 546.64 306.13C549.29 306.02 551.94 305.76 554.59 305.73C557.25 305.70 559.92 305.62 562.55 305.97C563.94 306.15 565.28 306.67 566.53 307.32C567.70 307.93 568.77 308.77 569.71 309.71C570.64 310.64 571.40 311.76 572.09 312.89C572.87 314.15 573.53 315.49 574.08 316.87C574.60 318.15 574.82 319.54 575.28 320.84C575.75 322.19 576.34 323.49 576.87 324.82C576.07 325.09 575.07 325.02 574.48 325.62C573.89 326.21 573.76 327.17 573.68 328.00C573.62 328.68 573.60 329.51 574.08 329.99C574.80 330.71 575.96 330.73 576.87 331.18C577.82 331.66 579.01 331.92 579.65 332.78C580.31 333.65 580.09 334.93 580.45 335.96C581.02 337.58 581.72 339.16 582.44 340.73C583.18 342.35 583.91 343.98 584.82 345.50C585.50 346.64 586.41 347.62 587.21 348.68C587.61 349.22 588.17 349.65 588.40 350.28C588.72 351.16 589.10 352.17 588.80 353.06C588.61 353.62 587.78 354.03 587.21 353.86C586.22 353.56 585.52 352.63 584.82 351.87C583.92 350.89 583.17 349.79 582.44 348.68C581.58 347.40 580.79 346.06 580.05 344.71C579.20 343.15 578.65 341.41 577.66 339.93C577.04 339.00 576.24 338.13 575.28 337.55C573.81 336.65 572.11 336.18 570.50 335.56C568.66 334.85 566.78 334.26 564.93 333.57C563.60 333.07 562.36 332.26 560.96 331.98C560.29 331.85 559.63 332.24 558.97 332.38C558.84 333.84 558.63 335.29 558.57 336.75C558.50 338.34 559.23 340.08 558.57 341.53C557.79 343.23 555.85 344.12 554.59 345.50C553.20 347.04 551.94 348.68 550.62 350.28C549.29 351.87 547.97 353.46 546.64 355.05C545.85 355.98 545.39 357.38 544.25 357.83C543.14 358.28 541.87 357.57 540.67 357.44C541.07 356.77 541.38 356.05 541.87 355.45C543.11 353.92 544.55 352.56 545.84 351.07C547.20 349.51 548.51 347.90 549.82 346.30C550.90 344.98 552.51 343.95 553.00 342.32C553.39 341.03 552.60 339.64 552.21 338.34C551.80 336.98 551.18 335.68 550.62 334.37C550.38 333.82 550.09 333.31 549.82 332.78C548.23 333.04 546.64 333.29 545.05 333.57C542.92 333.95 540.83 334.50 538.68 334.76C536.57 335.03 534.43 334.92 532.32 335.16C530.98 335.32 529.67 335.69 528.34 335.96C527.68 337.02 527.02 338.08 526.35 339.14C525.69 340.20 524.89 341.19 524.37 342.32C524.08 342.93 523.49 343.83 523.97 344.31C524.86 345.20 526.33 345.19 527.55 345.50C529.38 345.98 531.25 346.34 533.12 346.70C534.70 347.00 536.29 347.31 537.89 347.49C538.68 347.58 539.58 347.11 540.27 347.49C540.95 347.87 541.25 348.74 541.47 349.48C541.66 350.12 541.84 350.92 541.47 351.47C541.16 351.92 540.41 351.96 539.88 351.87C538.88 351.69 538.06 350.98 537.09 350.67C535.53 350.18 533.90 349.91 532.32 349.48C530.46 348.98 528.60 348.46 526.75 347.89C525.15 347.40 523.51 346.98 521.98 346.30C521.10 345.91 520.07 345.53 519.59 344.71C519.05 343.78 519.14 342.59 519.19 341.53C519.27 340.18 519.75 338.88 519.99 337.55C520.15 336.62 520.26 335.69 520.39 334.76C519.99 334.76 519.59 334.76 519.19 334.76C518.53 335.96 517.84 337.13 517.21 338.34C516.38 339.92 515.67 341.55 514.82 343.12C513.94 344.74 512.96 346.30 512.04 347.89C511.11 349.48 510.27 351.13 509.25 352.66C508.41 353.92 507.85 355.63 506.47 356.24C505.24 356.79 503.82 355.87 502.49 355.69C502.89 354.94 503.20 354.15 503.68 353.46C504.66 352.07 506.00 350.94 506.86 349.48C507.74 348.00 508.23 346.32 508.85 344.71C509.56 342.87 510.20 341.00 510.84 339.14C511.39 337.55 512.10 336.01 512.43 334.37C512.64 333.33 512.66 332.22 512.43 331.18C512.12 329.79 511.43 328.51 510.84 327.21C510.11 325.59 509.48 323.89 508.46 322.43C507.60 321.21 506.26 320.38 505.27 319.25C504.40 318.25 503.48 317.26 502.89 316.07C502.27 314.83 501.99 313.44 501.69 312.09C501.46 311.05 501.72 309.89 501.30 308.91C500.89 307.96 500.26 306.94 499.31 306.52C497.97 305.94 496.40 306.15 494.93 306.13C493.60 306.10 492.28 306.46 490.95 306.37C490.39 306.32 489.73 306.16 489.36 305.73C488.91 305.20 488.49 304.39 488.73 303.74Z"/></clipPath>
<clipPath id="clip-boar"><path d="M618.24 330.02C619.75 329.41 621.34 328.99 622.76 328.19C624.66 327.11 626.34 325.68 628.14 324.42C629.93 323.17 631.88 322.11 633.51 320.66C635.13 319.22 636.64 317.63 637.82 315.82C638.89 314.18 639.56 312.30 640.18 310.44C640.71 308.87 640.56 307.09 641.26 305.60C641.78 304.50 642.68 303.52 643.73 302.91C645.55 301.86 647.63 301.32 649.65 300.76C652.12 300.07 654.65 299.57 657.18 299.14C659.32 298.78 661.47 298.55 663.64 298.39C666.50 298.19 669.37 298.03 672.24 298.07C675.11 298.10 678.00 298.20 680.85 298.61C683.04 298.92 685.16 299.64 687.30 300.22C690.18 301.00 693.04 301.85 695.91 302.69C699.50 303.75 703.04 304.98 706.66 305.92C710.22 306.84 713.83 307.53 717.42 308.29C721.00 309.04 724.64 309.50 728.18 310.44C730.76 311.12 733.20 312.23 735.71 313.13C738.22 314.02 740.73 314.92 743.24 315.82C745.03 316.46 746.91 316.90 748.62 317.75C749.81 318.35 750.97 319.11 751.85 320.12C752.63 321.03 752.98 322.24 753.46 323.35C754.06 324.76 754.46 326.25 755.07 327.65C755.64 328.94 756.36 330.16 757.01 331.42C756.72 331.77 756.58 332.65 756.15 332.49C755.19 332.15 754.90 330.79 754.00 330.34C753.64 330.16 752.99 330.48 752.92 330.88C752.60 332.64 752.83 334.47 752.92 336.26C753.01 338.06 752.92 339.92 753.46 341.64C753.84 342.87 755.07 343.69 755.61 344.86C756.16 346.05 756.54 347.33 756.69 348.63C756.90 350.59 756.59 352.57 756.69 354.54C756.77 356.34 757.04 358.13 757.22 359.92C757.40 361.72 757.87 363.50 757.76 365.30C757.69 366.43 757.38 367.63 756.69 368.53C756.04 369.35 754.82 369.50 754.00 370.14C753.20 370.76 752.80 371.95 751.85 372.29C750.67 372.72 749.34 372.29 748.08 372.29C747.90 371.76 747.24 371.16 747.54 370.68C748.28 369.49 749.99 369.16 750.77 367.99C751.49 366.90 751.67 365.52 751.85 364.23C752.03 362.80 752.09 361.34 751.85 359.92C751.55 358.25 751.43 356.28 750.23 355.08C749.03 353.88 747.03 353.94 745.39 353.47C743.26 352.86 741.08 352.44 738.94 351.85C737.13 351.36 735.35 350.78 733.56 350.24C732.84 351.68 732.31 353.22 731.41 354.54C730.33 356.11 728.84 357.37 727.64 358.85C726.51 360.24 725.46 361.69 724.41 363.15C723.66 364.20 723.22 365.51 722.26 366.38C721.19 367.35 719.91 368.21 718.50 368.53C716.92 368.88 715.27 368.38 713.66 368.31C713.66 367.74 713.27 367.01 713.66 366.59C714.84 365.33 716.63 364.79 717.96 363.69C719.33 362.56 720.62 361.31 721.72 359.92C722.78 358.60 723.95 357.25 724.41 355.62C724.71 354.57 724.43 353.33 723.88 352.39C723.11 351.08 721.56 350.38 720.65 349.17C719.93 348.20 719.57 347.01 719.04 345.94C718.50 344.86 717.96 343.79 717.42 342.71C715.27 343.43 713.13 344.20 710.97 344.86C708.47 345.63 705.98 346.41 703.44 347.01C700.95 347.60 698.42 347.98 695.91 348.41C694.66 348.63 693.40 348.77 692.14 348.95C692.14 350.81 691.96 352.69 692.14 354.54C692.32 356.36 692.88 358.13 693.22 359.92C693.49 361.35 693.97 362.77 693.97 364.23C693.97 364.82 693.69 365.49 693.22 365.84C692.62 366.28 691.67 365.95 691.07 366.38C690.34 366.90 690.21 368.05 689.45 368.53C688.51 369.12 687.33 369.51 686.23 369.39C685.52 369.31 685.15 368.46 684.61 367.99C685.33 367.09 686.15 366.27 686.76 365.30C687.41 364.29 688.29 363.27 688.38 362.07C688.48 360.60 687.77 359.17 687.30 357.77C686.69 355.94 686.01 354.12 685.15 352.39C684.39 350.88 683.52 349.41 682.46 348.09C682.06 347.58 681.38 347.37 680.85 347.01C679.77 348.45 678.65 349.85 677.62 351.32C676.14 353.44 674.77 355.63 673.32 357.77C672.08 359.58 670.61 361.24 669.55 363.15C668.81 364.49 668.39 365.99 667.94 367.45C667.67 368.33 667.93 369.40 667.40 370.14C666.93 370.79 665.92 370.78 665.25 371.22C664.65 371.61 664.33 372.48 663.64 372.62C661.88 372.97 660.05 372.62 658.26 372.62C658.08 372.26 657.50 371.88 657.72 371.54C658.53 370.31 660.10 369.73 660.95 368.53C662.10 366.89 662.95 365.03 663.64 363.15C664.39 361.07 664.76 358.86 665.25 356.70C665.65 354.91 666.32 353.15 666.32 351.32C666.32 349.84 665.97 348.30 665.25 347.01C664.31 345.35 662.88 344.01 661.48 342.71C660.17 341.49 658.75 340.35 657.18 339.48C655.49 338.55 653.68 337.77 651.80 337.33C649.34 336.76 646.79 336.62 644.27 336.47C641.77 336.33 639.25 336.41 636.74 336.47C634.95 336.52 633.15 336.57 631.36 336.79C630.27 336.93 629.24 337.60 628.14 337.55C627.00 337.49 625.96 336.89 624.91 336.47C623.99 336.10 622.99 335.81 622.22 335.18C621.33 334.45 620.77 333.40 620.07 332.49C619.44 331.68 618.85 330.84 618.24 330.02Z"/></clipPath>
<clipPath id="clip-hare"><path d="M1034.42 318.94C1035.00 318.99 1035.73 319.03 1036.06 319.50C1036.61 320.29 1036.63 321.36 1036.77 322.31C1036.94 323.55 1036.92 324.81 1037.00 326.06C1037.07 327.16 1037.08 328.26 1037.24 329.34C1037.32 329.91 1037.34 330.55 1037.70 330.98C1038.25 331.63 1039.15 331.87 1039.81 332.39C1040.64 333.04 1041.43 333.74 1042.16 334.50C1042.85 335.23 1043.49 336.01 1044.03 336.84C1044.51 337.58 1044.81 338.41 1045.20 339.19C1045.59 339.97 1046.04 340.72 1046.38 341.53C1046.62 342.14 1046.94 342.75 1046.94 343.41C1046.94 343.91 1046.74 344.46 1046.38 344.81C1045.87 345.30 1045.08 345.36 1044.50 345.75C1044.13 346.00 1043.96 346.49 1043.56 346.69C1043.14 346.90 1042.63 346.96 1042.16 346.92C1041.59 346.88 1041.07 346.60 1040.52 346.45C1040.21 346.37 1039.83 346.01 1039.58 346.22C1039.20 346.54 1039.08 347.13 1039.11 347.63C1039.16 348.44 1039.69 349.16 1039.81 349.97C1039.93 350.74 1039.98 351.55 1039.81 352.31C1039.66 353.00 1039.26 353.61 1038.88 354.19C1038.32 355.02 1037.71 355.82 1037.00 356.53C1036.14 357.39 1035.10 358.06 1034.19 358.88C1033.69 359.32 1032.98 359.65 1032.78 360.28C1032.55 361.03 1032.88 361.85 1033.02 362.63C1033.19 363.58 1033.44 364.51 1033.72 365.44C1033.99 366.31 1034.38 367.14 1034.66 368.02C1034.78 368.40 1035.00 368.80 1034.89 369.19C1034.74 369.73 1034.42 370.27 1033.95 370.59C1033.34 371.02 1032.58 371.34 1031.84 371.30C1031.00 371.25 1030.21 370.81 1029.50 370.36C1028.94 370.01 1028.48 369.49 1028.09 368.95C1027.69 368.39 1027.52 367.67 1027.16 367.08C1026.89 366.65 1026.67 366.13 1026.22 365.91C1025.80 365.70 1025.25 365.74 1024.81 365.91C1023.96 366.23 1023.27 366.88 1022.47 367.31C1021.55 367.82 1020.63 368.33 1019.66 368.72C1018.90 369.02 1018.10 369.19 1017.31 369.38C1016.66 369.53 1016.00 369.63 1015.34 369.75C1015.59 370.09 1016.24 370.38 1016.09 370.78C1015.89 371.35 1015.16 371.60 1014.59 371.81C1013.67 372.17 1012.68 372.36 1011.69 372.47C1010.60 372.59 1009.50 372.55 1008.41 372.47C1007.46 372.40 1006.48 372.34 1005.59 372.00C1004.80 371.70 1004.06 371.21 1003.48 370.59C1002.86 369.93 1002.43 369.09 1002.08 368.25C1001.64 367.20 1001.43 366.07 1001.14 364.97C1000.81 363.72 1000.44 362.49 1000.20 361.22C999.97 359.98 999.78 358.73 999.73 357.47C999.70 356.37 999.72 355.26 999.97 354.19C1000.20 353.20 1000.61 352.24 1001.14 351.38C1001.72 350.43 1002.45 349.56 1003.25 348.80C1004.26 347.84 1005.42 347.05 1006.53 346.22C1007.61 345.41 1008.73 344.67 1009.81 343.88C1010.76 343.18 1011.65 342.42 1012.63 341.77C1013.53 341.16 1014.44 340.55 1015.44 340.13C1016.49 339.68 1017.61 339.45 1018.72 339.19C1019.96 338.90 1021.21 338.65 1022.47 338.48C1023.56 338.34 1024.66 338.38 1025.75 338.25C1026.69 338.14 1027.69 338.15 1028.56 337.78C1029.23 337.50 1029.80 336.97 1030.20 336.38C1030.68 335.68 1031.00 334.86 1031.14 334.03C1031.32 332.95 1031.26 331.84 1031.14 330.75C1031.02 329.64 1030.65 328.57 1030.44 327.47C1030.26 326.54 1029.97 325.61 1029.97 324.66C1029.97 323.86 1030.11 323.04 1030.44 322.31C1030.76 321.60 1031.31 321.01 1031.84 320.44C1032.26 319.99 1032.72 319.57 1033.25 319.27C1033.60 319.06 1034.02 318.90 1034.42 318.94Z"/></clipPath>
<clipPath id="clip-marmot"><path d="M1151.64 309.66C1151.79 308.94 1152.67 308.55 1153.34 308.24C1154.41 307.74 1155.58 307.45 1156.75 307.27C1158.06 307.07 1159.41 306.98 1160.73 307.10C1161.89 307.21 1163.05 307.51 1164.14 307.95C1165.16 308.37 1166.12 308.96 1166.98 309.66C1167.75 310.30 1168.44 311.07 1168.97 311.93C1169.50 312.80 1169.82 313.79 1170.10 314.77C1170.48 316.07 1170.63 317.43 1170.95 318.75C1171.29 320.09 1171.71 321.40 1172.09 322.73C1172.47 324.05 1172.94 325.36 1173.23 326.70C1173.51 328.01 1173.69 329.35 1173.80 330.68C1173.92 332.19 1173.77 333.72 1173.91 335.23C1174.05 336.76 1174.36 338.27 1174.65 339.77C1174.98 341.49 1175.41 343.18 1175.78 344.89C1176.16 346.59 1176.60 348.28 1176.92 350.00C1177.27 351.88 1177.52 353.78 1177.77 355.68C1178.00 357.38 1178.13 359.09 1178.34 360.80C1178.51 362.12 1178.52 363.49 1178.91 364.77C1179.19 365.71 1179.59 366.70 1180.33 367.33C1181.01 367.91 1182.00 368.05 1182.89 368.18C1184.01 368.34 1185.16 368.27 1186.30 368.18C1187.63 368.08 1188.94 367.77 1190.27 367.61C1191.78 367.43 1193.30 367.24 1194.82 367.16C1196.14 367.09 1197.48 367.01 1198.80 367.16C1199.68 367.26 1200.59 367.45 1201.35 367.90C1201.88 368.20 1202.54 368.71 1202.49 369.32C1202.42 370.13 1201.68 370.77 1201.07 371.31C1200.23 372.03 1199.25 372.59 1198.23 373.01C1196.95 373.54 1195.60 373.88 1194.25 374.15C1192.75 374.45 1191.23 374.67 1189.70 374.72C1188.38 374.76 1187.04 374.67 1185.73 374.43C1184.37 374.19 1183.05 373.75 1181.75 373.30C1180.59 372.89 1179.48 372.34 1178.34 371.88C1177.40 371.49 1176.50 370.93 1175.50 370.74C1174.01 370.45 1172.47 370.50 1170.95 370.45C1169.06 370.40 1167.17 370.51 1165.27 370.45C1163.76 370.41 1162.24 370.32 1160.73 370.17C1159.39 370.04 1158.06 369.90 1156.75 369.60C1155.96 369.42 1155.17 369.17 1154.48 368.75C1154.04 368.49 1153.39 368.12 1153.45 367.61C1153.53 367.04 1154.23 366.71 1154.76 366.48C1155.56 366.12 1156.49 366.19 1157.32 365.91C1157.64 365.80 1158.30 365.66 1158.17 365.34C1157.80 364.41 1156.80 363.86 1156.18 363.07C1155.47 362.16 1154.73 361.25 1154.19 360.23C1153.63 359.15 1153.20 357.99 1152.89 356.82C1152.54 355.52 1152.37 354.18 1152.20 352.84C1152.04 351.52 1151.87 350.19 1151.92 348.86C1151.97 347.53 1152.20 346.20 1152.49 344.89C1152.68 344.01 1153.06 343.18 1153.34 342.33C1152.68 342.52 1152.03 343.04 1151.35 342.90C1150.56 342.73 1149.88 342.11 1149.36 341.48C1149.12 341.18 1149.05 340.67 1149.25 340.34C1149.68 339.63 1150.43 339.16 1151.07 338.64C1151.70 338.12 1152.68 337.94 1153.06 337.22C1153.54 336.29 1153.41 335.14 1153.45 334.09C1153.51 332.77 1153.21 331.43 1153.34 330.11C1153.46 328.95 1153.71 327.77 1154.19 326.70C1154.67 325.65 1155.45 324.76 1156.18 323.86C1156.78 323.14 1157.87 322.76 1158.17 321.88C1158.42 321.13 1157.95 320.30 1157.60 319.60C1157.27 318.94 1156.75 318.38 1156.18 317.90C1155.50 317.32 1154.57 317.08 1153.91 316.48C1153.50 316.11 1153.14 315.60 1153.06 315.06C1152.98 314.57 1153.55 314.12 1153.45 313.64C1153.34 313.07 1152.73 312.74 1152.49 312.22C1152.12 311.40 1151.45 310.54 1151.64 309.66Z"/></clipPath>
</defs>
<path id="deer1" clip-path="url(#clip-deer)" d="M171.16 25.48C171.70 25.40 172.24 25.15 172.78 25.23C173.67 25.35 174.51 25.75 175.34 26.08C176.21 26.43 177.05 26.87 177.90 27.27C178.35 27.48 178.81 27.70 179.26 27.91C178.88 27.27 178.51 26.62 178.11 25.99C177.56 25.13 177.03 24.25 176.41 23.44C175.67 22.47 174.92 21.52 174.06 20.67C173.07 19.67 171.91 18.84 170.87 17.90C169.64 16.78 168.39 15.69 167.24 14.49C166.35 13.55 165.43 12.62 164.77 11.51C164.16 10.46 163.79 9.27 163.49 8.10C163.22 6.99 163.07 5.83 163.07 4.69C163.07 3.89 163.20 3.08 163.49 2.34C163.62 2.03 163.93 1.75 164.26 1.70C164.58 1.66 164.97 1.85 165.11 2.13C165.44 2.78 165.44 3.54 165.54 4.26C165.67 5.25 165.60 6.27 165.80 7.24C165.97 8.15 166.29 9.03 166.65 9.89C166.81 10.26 167.10 10.57 167.33 10.91C167.56 9.83 167.87 8.76 168.01 7.67C168.16 6.54 168.10 5.40 168.18 4.26C168.23 3.55 168.19 2.82 168.39 2.13C168.49 1.81 168.70 1.36 169.03 1.36C169.40 1.36 169.69 1.79 169.80 2.13C170.06 2.95 170.04 3.83 170.10 4.69C170.17 5.82 170.08 6.96 170.18 8.10C170.30 9.38 170.40 10.69 170.74 11.93C171.03 12.98 171.62 13.92 172.06 14.91C172.29 13.92 172.54 12.93 172.74 11.93C173.00 10.66 173.11 9.35 173.47 8.10C173.80 6.92 174.31 5.80 174.83 4.69C175.19 3.92 175.57 3.14 176.11 2.47C176.31 2.22 176.65 1.96 176.96 2.05C177.32 2.14 177.70 2.53 177.68 2.90C177.65 3.82 177.08 4.65 176.83 5.54C176.47 6.81 176.09 8.08 175.85 9.37C175.62 10.64 175.43 11.92 175.43 13.21C175.43 14.36 175.43 15.56 175.85 16.62C176.28 17.68 177.22 18.46 177.90 19.39C178.62 20.38 179.30 21.39 180.03 22.37C180.32 22.77 180.65 23.14 180.97 23.52C181.11 22.78 181.25 22.05 181.39 21.31C181.58 20.31 181.87 19.33 181.95 18.32C182.02 17.33 181.62 16.32 181.82 15.34C181.92 14.84 182.28 14.17 182.80 14.15C183.33 14.13 183.71 14.78 183.95 15.26C184.37 16.07 184.65 16.98 184.72 17.90C184.80 19.04 184.61 20.19 184.37 21.31C184.16 22.33 183.70 23.30 183.35 24.29C183.13 24.93 182.70 25.53 182.67 26.21C182.65 26.61 183.04 26.92 183.22 27.27C184.01 27.30 184.79 27.43 185.57 27.36C186.43 27.28 187.31 27.14 188.12 26.85C188.61 26.67 188.98 26.28 189.40 25.99C189.55 25.28 189.90 24.58 189.83 23.86C189.73 22.89 189.17 22.03 188.89 21.09C188.60 20.11 188.23 19.13 188.12 18.11C188.04 17.26 188.06 16.36 188.34 15.55C188.51 15.05 188.87 14.41 189.40 14.36C189.87 14.31 190.27 14.90 190.43 15.34C190.72 16.15 190.53 17.05 190.68 17.90C190.83 18.76 191.04 19.62 191.32 20.45C191.54 21.12 191.89 21.73 192.17 22.37C193.52 21.48 194.90 20.62 196.22 19.69C197.31 18.92 198.42 18.15 199.42 17.26C200.24 16.52 201.04 15.73 201.68 14.83C201.91 14.49 202.04 14.04 201.97 13.64C201.92 13.29 201.55 13.07 201.33 12.78C200.55 12.64 199.74 12.62 198.99 12.36C197.95 12.00 196.94 11.53 196.01 10.95C195.10 10.39 194.25 9.71 193.49 8.95C193.22 8.68 192.90 8.30 192.98 7.93C193.08 7.49 193.48 6.94 193.92 6.99C194.77 7.08 195.38 7.88 196.14 8.27C197.11 8.77 198.09 9.28 199.12 9.67C200.04 10.02 201.02 10.21 201.97 10.48C202.04 9.62 202.33 8.74 202.19 7.88C201.99 6.70 201.59 5.52 200.99 4.47C200.41 3.45 199.39 2.74 198.69 1.79C198.50 1.52 198.26 1.17 198.35 0.85C198.44 0.56 198.82 0.29 199.12 0.34C199.78 0.45 200.42 0.81 200.91 1.28C201.73 2.08 202.43 3.03 202.95 4.05C203.43 4.97 203.58 6.04 203.89 7.03C203.98 6.25 204.09 5.47 204.15 4.69C204.21 3.84 204.04 2.96 204.23 2.13C204.32 1.77 204.58 1.30 204.96 1.28C205.37 1.26 205.79 1.66 205.94 2.05C206.32 3.08 206.39 4.22 206.45 5.33C206.50 6.39 206.38 7.46 206.28 8.52C206.21 9.31 205.88 10.08 205.94 10.87C205.97 11.27 206.33 11.58 206.53 11.93C206.96 11.43 207.48 11.01 207.81 10.44C208.32 9.57 208.74 8.64 209.00 7.67C209.25 6.77 209.03 5.79 209.30 4.90C209.41 4.56 209.72 4.15 210.07 4.18C210.47 4.21 210.86 4.63 210.92 5.03C211.09 6.18 210.99 7.39 210.71 8.52C210.37 9.87 209.83 11.19 209.09 12.36C208.28 13.63 207.18 14.71 206.11 15.77C205.02 16.84 203.79 17.78 202.61 18.75C201.21 19.91 199.77 21.02 198.35 22.16C196.93 23.30 195.45 24.36 194.09 25.57C193.29 26.28 192.51 27.04 191.87 27.91C191.70 28.14 191.62 28.51 191.75 28.76C191.90 29.08 192.31 29.19 192.60 29.40C193.81 28.44 194.92 27.34 196.22 26.51C197.42 25.73 198.76 25.18 200.06 24.59C200.53 24.37 201.05 24.25 201.55 24.08C201.62 24.57 201.82 25.07 201.76 25.57C201.63 26.73 201.39 27.88 200.99 28.98C200.67 29.89 200.16 30.73 199.63 31.53C199.13 32.29 198.66 33.12 197.93 33.66C197.35 34.09 196.57 34.14 195.88 34.30C195.26 34.45 194.63 34.50 194.01 34.60C194.01 34.93 193.96 35.26 194.01 35.58C194.16 36.58 194.35 37.58 194.60 38.56C194.91 39.79 195.22 41.01 195.67 42.19C195.93 42.87 196.23 43.57 196.73 44.10C197.19 44.60 197.77 45.12 198.44 45.17C201.00 45.34 203.57 44.59 206.14 44.75C208.45 44.88 210.65 45.88 212.96 46.02C215.23 46.17 217.50 45.70 219.77 45.60C223.75 45.42 227.73 45.17 231.71 45.17C235.97 45.17 240.24 45.32 244.49 45.60C246.78 45.75 249.12 45.78 251.31 46.45C252.89 46.94 254.12 48.21 255.57 49.01C257.24 49.92 259.13 50.46 260.68 51.56C262.16 52.61 263.68 53.80 264.52 55.40C265.46 57.20 265.58 59.34 265.80 61.37C266.01 63.34 265.80 65.34 265.80 67.33C264.95 66.48 263.99 65.72 263.24 64.77C262.28 63.57 261.61 62.17 260.68 60.94C260.32 60.46 259.83 60.09 259.41 59.66C259.12 61.37 258.88 63.08 258.55 64.77C258.17 66.77 257.65 68.74 257.28 70.74C257.12 71.58 256.83 72.44 256.97 73.27C257.17 74.40 257.64 75.49 258.25 76.46C258.73 77.22 259.44 77.83 260.16 78.37C261.15 79.11 262.32 79.59 263.34 80.28C264.06 80.76 265.02 81.09 265.38 81.87C265.78 82.74 265.43 83.78 265.38 84.74C265.28 86.86 265.06 88.98 264.94 91.11C264.81 93.23 264.62 95.35 264.62 97.48C264.62 99.18 264.82 100.88 264.94 102.57C264.99 103.42 265.33 104.29 265.13 105.12C264.99 105.68 264.24 105.89 263.98 106.39C263.73 106.88 263.89 107.49 263.66 107.99C263.35 108.68 263.02 109.46 262.39 109.90C261.56 110.47 260.52 110.74 259.52 110.85C258.67 110.95 257.75 110.89 256.97 110.54C256.49 110.32 256.02 109.79 256.02 109.26C256.02 108.55 256.47 107.85 256.97 107.35C257.68 106.64 258.73 106.38 259.52 105.76C260.23 105.20 261.11 104.69 261.43 103.85C261.90 102.66 261.75 101.30 261.75 100.03C261.75 98.11 261.49 96.21 261.43 94.29C261.38 92.38 261.57 90.47 261.43 88.56C261.36 87.58 261.46 86.41 260.80 85.69C260.02 84.85 258.69 84.80 257.61 84.42C256.57 84.05 255.49 83.78 254.43 83.46C254.75 83.78 255.14 84.04 255.38 84.42C255.89 85.22 256.72 86.02 256.66 86.97C256.60 87.80 255.58 88.23 255.06 88.88C253.98 90.25 252.92 91.62 251.88 93.02C250.79 94.49 249.68 95.94 248.69 97.48C247.77 98.92 246.91 100.41 246.15 101.94C245.85 102.54 245.85 103.27 245.51 103.85C245.09 104.56 244.45 105.12 243.92 105.76C243.39 106.39 243.01 107.20 242.32 107.67C241.58 108.19 240.68 108.51 239.78 108.62C238.93 108.73 237.99 108.69 237.23 108.31C236.62 108.00 236.15 107.36 235.96 106.71C235.80 106.19 235.91 105.53 236.27 105.12C236.84 104.48 237.73 104.21 238.50 103.85C239.33 103.46 240.31 103.42 241.05 102.89C241.85 102.32 242.33 101.41 242.96 100.66C244.03 99.39 245.14 98.16 246.15 96.84C247.26 95.39 248.37 93.94 249.33 92.38C250.08 91.17 251.08 89.98 251.24 88.56C251.32 87.89 250.50 87.40 249.97 86.97C248.78 86.00 247.40 85.31 246.15 84.42C244.85 83.50 243.48 82.65 242.32 81.55C241.13 80.41 240.03 79.13 239.14 77.73C238.53 76.77 238.29 75.61 237.87 74.55C236.80 74.87 235.76 75.24 234.68 75.50C233.00 75.92 231.31 76.35 229.59 76.59C227.48 76.88 225.35 77.06 223.22 77.10C221.09 77.13 218.97 76.96 216.85 76.78C215.25 76.64 213.66 76.35 212.07 76.14C212.39 77.31 212.80 78.45 213.03 79.64C213.43 81.75 213.64 83.89 213.98 86.01C214.39 88.56 214.79 91.11 215.25 93.66C215.64 95.79 216.15 97.89 216.53 100.03C216.68 100.87 216.95 101.72 216.85 102.57C216.73 103.47 216.01 104.22 215.89 105.12C215.79 105.87 216.38 106.62 216.21 107.35C216.04 108.10 215.55 108.80 214.94 109.26C214.21 109.81 213.29 110.11 212.39 110.22C211.43 110.33 210.42 110.24 209.52 109.90C208.96 109.68 208.38 109.21 208.25 108.62C208.12 108.07 208.55 107.49 208.89 107.03C209.42 106.30 210.22 105.81 210.80 105.12C211.29 104.53 211.99 103.97 212.07 103.21C212.22 101.72 211.71 100.23 211.43 98.75C211.07 96.83 210.68 94.91 210.16 93.02C209.62 91.08 208.96 89.17 208.25 87.29C207.79 86.09 207.19 84.95 206.66 83.78C206.02 85.16 205.29 86.51 204.75 87.92C204.02 89.80 203.44 91.74 202.83 93.66C202.17 95.77 201.64 97.93 200.92 100.03C200.47 101.33 199.50 102.48 199.33 103.85C199.27 104.37 200.05 104.65 200.29 105.12C200.48 105.51 200.75 105.98 200.61 106.39C200.19 107.56 199.35 108.53 198.69 109.58C198.29 110.23 198.09 111.13 197.42 111.49C196.57 111.95 195.49 112.02 194.55 111.81C193.49 111.57 192.25 111.15 191.69 110.22C191.37 109.69 192.21 109.06 192.64 108.62C193.39 107.87 194.59 107.59 195.19 106.71C196.03 105.49 196.35 103.99 196.78 102.57C197.30 100.90 197.68 99.19 198.06 97.48C198.53 95.36 198.96 93.24 199.33 91.11C199.70 88.99 200.02 86.87 200.29 84.74C200.55 82.62 200.71 80.49 200.92 78.37C201.03 77.31 201.82 76.08 201.24 75.18C200.50 74.04 198.75 74.06 197.61 73.30C196.10 72.28 194.58 71.23 193.35 69.89C191.71 68.08 190.60 65.84 189.09 63.92C188.00 62.54 186.64 61.39 185.57 60.00C184.89 59.11 184.37 58.10 183.86 57.10C183.23 55.85 182.55 54.61 182.16 53.27C181.76 51.89 181.62 50.44 181.52 49.00C181.47 48.29 181.97 47.55 181.73 46.87C181.56 46.39 180.89 46.29 180.45 46.02C179.75 45.58 178.89 45.35 178.32 44.74C177.91 44.30 177.65 43.64 177.68 43.04C177.72 42.41 178.37 41.95 178.54 41.33C178.73 40.65 178.87 39.91 178.75 39.20C178.65 38.58 178.28 38.01 177.90 37.50C177.62 37.14 177.19 36.93 176.83 36.65C177.05 36.22 177.26 35.79 177.47 35.37C177.76 34.80 178.04 34.23 178.32 33.66C177.76 33.45 177.14 33.34 176.62 33.03C175.71 32.48 174.76 31.91 174.06 31.11C173.31 30.24 172.88 29.14 172.36 28.12C171.92 27.27 171.56 26.36 171.16 25.48Z"/>
<path id="deer2" transform="translate(-5.1 518.7)" clip-path="url(#clip-deer)" d="M171.16 25.48C171.70 25.40 172.24 25.15 172.78 25.23C173.67 25.35 174.51 25.75 175.34 26.08C176.21 26.43 177.05 26.87 177.90 27.27C178.35 27.48 178.81 27.70 179.26 27.91C178.88 27.27 178.51 26.62 178.11 25.99C177.56 25.13 177.03 24.25 176.41 23.44C175.67 22.47 174.92 21.52 174.06 20.67C173.07 19.67 171.91 18.84 170.87 17.90C169.64 16.78 168.39 15.69 167.24 14.49C166.35 13.55 165.43 12.62 164.77 11.51C164.16 10.46 163.79 9.27 163.49 8.10C163.22 6.99 163.07 5.83 163.07 4.69C163.07 3.89 163.20 3.08 163.49 2.34C163.62 2.03 163.93 1.75 164.26 1.70C164.58 1.66 164.97 1.85 165.11 2.13C165.44 2.78 165.44 3.54 165.54 4.26C165.67 5.25 165.60 6.27 165.80 7.24C165.97 8.15 166.29 9.03 166.65 9.89C166.81 10.26 167.10 10.57 167.33 10.91C167.56 9.83 167.87 8.76 168.01 7.67C168.16 6.54 168.10 5.40 168.18 4.26C168.23 3.55 168.19 2.82 168.39 2.13C168.49 1.81 168.70 1.36 169.03 1.36C169.40 1.36 169.69 1.79 169.80 2.13C170.06 2.95 170.04 3.83 170.10 4.69C170.17 5.82 170.08 6.96 170.18 8.10C170.30 9.38 170.40 10.69 170.74 11.93C171.03 12.98 171.62 13.92 172.06 14.91C172.29 13.92 172.54 12.93 172.74 11.93C173.00 10.66 173.11 9.35 173.47 8.10C173.80 6.92 174.31 5.80 174.83 4.69C175.19 3.92 175.57 3.14 176.11 2.47C176.31 2.22 176.65 1.96 176.96 2.05C177.32 2.14 177.70 2.53 177.68 2.90C177.65 3.82 177.08 4.65 176.83 5.54C176.47 6.81 176.09 8.08 175.85 9.37C175.62 10.64 175.43 11.92 175.43 13.21C175.43 14.36 175.43 15.56 175.85 16.62C176.28 17.68 177.22 18.46 177.90 19.39C178.62 20.38 179.30 21.39 180.03 22.37C180.32 22.77 180.65 23.14 180.97 23.52C181.11 22.78 181.25 22.05 181.39 21.31C181.58 20.31 181.87 19.33 181.95 18.32C182.02 17.33 181.62 16.32 181.82 15.34C181.92 14.84 182.28 14.17 182.80 14.15C183.33 14.13 183.71 14.78 183.95 15.26C184.37 16.07 184.65 16.98 184.72 17.90C184.80 19.04 184.61 20.19 184.37 21.31C184.16 22.33 183.70 23.30 183.35 24.29C183.13 24.93 182.70 25.53 182.67 26.21C182.65 26.61 183.04 26.92 183.22 27.27C184.01 27.30 184.79 27.43 185.57 27.36C186.43 27.28 187.31 27.14 188.12 26.85C188.61 26.67 188.98 26.28 189.40 25.99C189.55 25.28 189.90 24.58 189.83 23.86C189.73 22.89 189.17 22.03 188.89 21.09C188.60 20.11 188.23 19.13 188.12 18.11C188.04 17.26 188.06 16.36 188.34 15.55C188.51 15.05 188.87 14.41 189.40 14.36C189.87 14.31 190.27 14.90 190.43 15.34C190.72 16.15 190.53 17.05 190.68 17.90C190.83 18.76 191.04 19.62 191.32 20.45C191.54 21.12 191.89 21.73 192.17 22.37C193.52 21.48 194.90 20.62 196.22 19.69C197.31 18.92 198.42 18.15 199.42 17.26C200.24 16.52 201.04 15.73 201.68 14.83C201.91 14.49 202.04 14.04 201.97 13.64C201.92 13.29 201.55 13.07 201.33 12.78C200.55 12.64 199.74 12.62 198.99 12.36C197.95 12.00 196.94 11.53 196.01 10.95C195.10 10.39 194.25 9.71 193.49 8.95C193.22 8.68 192.90 8.30 192.98 7.93C193.08 7.49 193.48 6.94 193.92 6.99C194.77 7.08 195.38 7.88 196.14 8.27C197.11 8.77 198.09 9.28 199.12 9.67C200.04 10.02 201.02 10.21 201.97 10.48C202.04 9.62 202.33 8.74 202.19 7.88C201.99 6.70 201.59 5.52 200.99 4.47C200.41 3.45 199.39 2.74 198.69 1.79C198.50 1.52 198.26 1.17 198.35 0.85C198.44 0.56 198.82 0.29 199.12 0.34C199.78 0.45 200.42 0.81 200.91 1.28C201.73 2.08 202.43 3.03 202.95 4.05C203.43 4.97 203.58 6.04 203.89 7.03C203.98 6.25 204.09 5.47 204.15 4.69C204.21 3.84 204.04 2.96 204.23 2.13C204.32 1.77 204.58 1.30 204.96 1.28C205.37 1.26 205.79 1.66 205.94 2.05C206.32 3.08 206.39 4.22 206.45 5.33C206.50 6.39 206.38 7.46 206.28 8.52C206.21 9.31 205.88 10.08 205.94 10.87C205.97 11.27 206.33 11.58 206.53 11.93C206.96 11.43 207.48 11.01 207.81 10.44C208.32 9.57 208.74 8.64 209.00 7.67C209.25 6.77 209.03 5.79 209.30 4.90C209.41 4.56 209.72 4.15 210.07 4.18C210.47 4.21 210.86 4.63 210.92 5.03C211.09 6.18 210.99 7.39 210.71 8.52C210.37 9.87 209.83 11.19 209.09 12.36C208.28 13.63 207.18 14.71 206.11 15.77C205.02 16.84 203.79 17.78 202.61 18.75C201.21 19.91 199.77 21.02 198.35 22.16C196.93 23.30 195.45 24.36 194.09 25.57C193.29 26.28 192.51 27.04 191.87 27.91C191.70 28.14 191.62 28.51 191.75 28.76C191.90 29.08 192.31 29.19 192.60 29.40C193.81 28.44 194.92 27.34 196.22 26.51C197.42 25.73 198.76 25.18 200.06 24.59C200.53 24.37 201.05 24.25 201.55 24.08C201.62 24.57 201.82 25.07 201.76 25.57C201.63 26.73 201.39 27.88 200.99 28.98C200.67 29.89 200.16 30.73 199.63 31.53C199.13 32.29 198.66 33.12 197.93 33.66C197.35 34.09 196.57 34.14 195.88 34.30C195.26 34.45 194.63 34.50 194.01 34.60C194.01 34.93 193.96 35.26 194.01 35.58C194.16 36.58 194.35 37.58 194.60 38.56C194.91 39.79 195.22 41.01 195.67 42.19C195.93 42.87 196.23 43.57 196.73 44.10C197.19 44.60 197.77 45.12 198.44 45.17C201.00 45.34 203.57 44.59 206.14 44.75C208.45 44.88 210.65 45.88 212.96 46.02C215.23 46.17 217.50 45.70 219.77 45.60C223.75 45.42 227.73 45.17 231.71 45.17C235.97 45.17 240.24 45.32 244.49 45.60C246.78 45.75 249.12 45.78 251.31 46.45C252.89 46.94 254.12 48.21 255.57 49.01C257.24 49.92 259.13 50.46 260.68 51.56C262.16 52.61 263.68 53.80 264.52 55.40C265.46 57.20 265.58 59.34 265.80 61.37C266.01 63.34 265.80 65.34 265.80 67.33C264.95 66.48 263.99 65.72 263.24 64.77C262.28 63.57 261.61 62.17 260.68 60.94C260.32 60.46 259.83 60.09 259.41 59.66C259.12 61.37 258.88 63.08 258.55 64.77C258.17 66.77 257.65 68.74 257.28 70.74C257.12 71.58 256.83 72.44 256.97 73.27C257.17 74.40 257.64 75.49 258.25 76.46C258.73 77.22 259.44 77.83 260.16 78.37C261.15 79.11 262.32 79.59 263.34 80.28C264.06 80.76 265.02 81.09 265.38 81.87C265.78 82.74 265.43 83.78 265.38 84.74C265.28 86.86 265.06 88.98 264.94 91.11C264.81 93.23 264.62 95.35 264.62 97.48C264.62 99.18 264.82 100.88 264.94 102.57C264.99 103.42 265.33 104.29 265.13 105.12C264.99 105.68 264.24 105.89 263.98 106.39C263.73 106.88 263.89 107.49 263.66 107.99C263.35 108.68 263.02 109.46 262.39 109.90C261.56 110.47 260.52 110.74 259.52 110.85C258.67 110.95 257.75 110.89 256.97 110.54C256.49 110.32 256.02 109.79 256.02 109.26C256.02 108.55 256.47 107.85 256.97 107.35C257.68 106.64 258.73 106.38 259.52 105.76C260.23 105.20 261.11 104.69 261.43 103.85C261.90 102.66 261.75 101.30 261.75 100.03C261.75 98.11 261.49 96.21 261.43 94.29C261.38 92.38 261.57 90.47 261.43 88.56C261.36 87.58 261.46 86.41 260.80 85.69C260.02 84.85 258.69 84.80 257.61 84.42C256.57 84.05 255.49 83.78 254.43 83.46C254.75 83.78 255.14 84.04 255.38 84.42C255.89 85.22 256.72 86.02 256.66 86.97C256.60 87.80 255.58 88.23 255.06 88.88C253.98 90.25 252.92 91.62 251.88 93.02C250.79 94.49 249.68 95.94 248.69 97.48C247.77 98.92 246.91 100.41 246.15 101.94C245.85 102.54 245.85 103.27 245.51 103.85C245.09 104.56 244.45 105.12 243.92 105.76C243.39 106.39 243.01 107.20 242.32 107.67C241.58 108.19 240.68 108.51 239.78 108.62C238.93 108.73 237.99 108.69 237.23 108.31C236.62 108.00 236.15 107.36 235.96 106.71C235.80 106.19 235.91 105.53 236.27 105.12C236.84 104.48 237.73 104.21 238.50 103.85C239.33 103.46 240.31 103.42 241.05 102.89C241.85 102.32 242.33 101.41 242.96 100.66C244.03 99.39 245.14 98.16 246.15 96.84C247.26 95.39 248.37 93.94 249.33 92.38C250.08 91.17 251.08 89.98 251.24 88.56C251.32 87.89 250.50 87.40 249.97 86.97C248.78 86.00 247.40 85.31 246.15 84.42C244.85 83.50 243.48 82.65 242.32 81.55C241.13 80.41 240.03 79.13 239.14 77.73C238.53 76.77 238.29 75.61 237.87 74.55C236.80 74.87 235.76 75.24 234.68 75.50C233.00 75.92 231.31 76.35 229.59 76.59C227.48 76.88 225.35 77.06 223.22 77.10C221.09 77.13 218.97 76.96 216.85 76.78C215.25 76.64 213.66 76.35 212.07 76.14C212.39 77.31 212.80 78.45 213.03 79.64C213.43 81.75 213.64 83.89 213.98 86.01C214.39 88.56 214.79 91.11 215.25 93.66C215.64 95.79 216.15 97.89 216.53 100.03C216.68 100.87 216.95 101.72 216.85 102.57C216.73 103.47 216.01 104.22 215.89 105.12C215.79 105.87 216.38 106.62 216.21 107.35C216.04 108.10 215.55 108.80 214.94 109.26C214.21 109.81 213.29 110.11 212.39 110.22C211.43 110.33 210.42 110.24 209.52 109.90C208.96 109.68 208.38 109.21 208.25 108.62C208.12 108.07 208.55 107.49 208.89 107.03C209.42 106.30 210.22 105.81 210.80 105.12C211.29 104.53 211.99 103.97 212.07 103.21C212.22 101.72 211.71 100.23 211.43 98.75C211.07 96.83 210.68 94.91 210.16 93.02C209.62 91.08 208.96 89.17 208.25 87.29C207.79 86.09 207.19 84.95 206.66 83.78C206.02 85.16 205.29 86.51 204.75 87.92C204.02 89.80 203.44 91.74 202.83 93.66C202.17 95.77 201.64 97.93 200.92 100.03C200.47 101.33 199.50 102.48 199.33 103.85C199.27 104.37 200.05 104.65 200.29 105.12C200.48 105.51 200.75 105.98 200.61 106.39C200.19 107.56 199.35 108.53 198.69 109.58C198.29 110.23 198.09 111.13 197.42 111.49C196.57 111.95 195.49 112.02 194.55 111.81C193.49 111.57 192.25 111.15 191.69 110.22C191.37 109.69 192.21 109.06 192.64 108.62C193.39 107.87 194.59 107.59 195.19 106.71C196.03 105.49 196.35 103.99 196.78 102.57C197.30 100.90 197.68 99.19 198.06 97.48C198.53 95.36 198.96 93.24 199.33 91.11C199.70 88.99 200.02 86.87 200.29 84.74C200.55 82.62 200.71 80.49 200.92 78.37C201.03 77.31 201.82 76.08 201.24 75.18C200.50 74.04 198.75 74.06 197.61 73.30C196.10 72.28 194.58 71.23 193.35 69.89C191.71 68.08 190.60 65.84 189.09 63.92C188.00 62.54 186.64 61.39 185.57 60.00C184.89 59.11 184.37 58.10 183.86 57.10C183.23 55.85 182.55 54.61 182.16 53.27C181.76 51.89 181.62 50.44 181.52 49.00C181.47 48.29 181.97 47.55 181.73 46.87C181.56 46.39 180.89 46.29 180.45 46.02C179.75 45.58 178.89 45.35 178.32 44.74C177.91 44.30 177.65 43.64 177.68 43.04C177.72 42.41 178.37 41.95 178.54 41.33C178.73 40.65 178.87 39.91 178.75 39.20C178.65 38.58 178.28 38.01 177.90 37.50C177.62 37.14 177.19 36.93 176.83 36.65C177.05 36.22 177.26 35.79 177.47 35.37C177.76 34.80 178.04 34.23 178.32 33.66C177.76 33.45 177.14 33.34 176.62 33.03C175.71 32.48 174.76 31.91 174.06 31.11C173.31 30.24 172.88 29.14 172.36 28.12C171.92 27.27 171.56 26.36 171.16 25.48Z"/>
<path id="deer3" transform="translate(0.1 981.4)" clip-path="url(#clip-deer)" d="M171.16 25.48C171.70 25.40 172.24 25.15 172.78 25.23C173.67 25.35 174.51 25.75 175.34 26.08C176.21 26.43 177.05 26.87 177.90 27.27C178.35 27.48 178.81 27.70 179.26 27.91C178.88 27.27 178.51 26.62 178.11 25.99C177.56 25.13 177.03 24.25 176.41 23.44C175.67 22.47 174.92 21.52 174.06 20.67C173.07 19.67 171.91 18.84 170.87 17.90C169.64 16.78 168.39 15.69 167.24 14.49C166.35 13.55 165.43 12.62 164.77 11.51C164.16 10.46 163.79 9.27 163.49 8.10C163.22 6.99 163.07 5.83 163.07 4.69C163.07 3.89 163.20 3.08 163.49 2.34C163.62 2.03 163.93 1.75 164.26 1.70C164.58 1.66 164.97 1.85 165.11 2.13C165.44 2.78 165.44 3.54 165.54 4.26C165.67 5.25 165.60 6.27 165.80 7.24C165.97 8.15 166.29 9.03 166.65 9.89C166.81 10.26 167.10 10.57 167.33 10.91C167.56 9.83 167.87 8.76 168.01 7.67C168.16 6.54 168.10 5.40 168.18 4.26C168.23 3.55 168.19 2.82 168.39 2.13C168.49 1.81 168.70 1.36 169.03 1.36C169.40 1.36 169.69 1.79 169.80 2.13C170.06 2.95 170.04 3.83 170.10 4.69C170.17 5.82 170.08 6.96 170.18 8.10C170.30 9.38 170.40 10.69 170.74 11.93C171.03 12.98 171.62 13.92 172.06 14.91C172.29 13.92 172.54 12.93 172.74 11.93C173.00 10.66 173.11 9.35 173.47 8.10C173.80 6.92 174.31 5.80 174.83 4.69C175.19 3.92 175.57 3.14 176.11 2.47C176.31 2.22 176.65 1.96 176.96 2.05C177.32 2.14 177.70 2.53 177.68 2.90C177.65 3.82 177.08 4.65 176.83 5.54C176.47 6.81 176.09 8.08 175.85 9.37C175.62 10.64 175.43 11.92 175.43 13.21C175.43 14.36 175.43 15.56 175.85 16.62C176.28 17.68 177.22 18.46 177.90 19.39C178.62 20.38 179.30 21.39 180.03 22.37C180.32 22.77 180.65 23.14 180.97 23.52C181.11 22.78 181.25 22.05 181.39 21.31C181.58 20.31 181.87 19.33 181.95 18.32C182.02 17.33 181.62 16.32 181.82 15.34C181.92 14.84 182.28 14.17 182.80 14.15C183.33 14.13 183.71 14.78 183.95 15.26C184.37 16.07 184.65 16.98 184.72 17.90C184.80 19.04 184.61 20.19 184.37 21.31C184.16 22.33 183.70 23.30 183.35 24.29C183.13 24.93 182.70 25.53 182.67 26.21C182.65 26.61 183.04 26.92 183.22 27.27C184.01 27.30 184.79 27.43 185.57 27.36C186.43 27.28 187.31 27.14 188.12 26.85C188.61 26.67 188.98 26.28 189.40 25.99C189.55 25.28 189.90 24.58 189.83 23.86C189.73 22.89 189.17 22.03 188.89 21.09C188.60 20.11 188.23 19.13 188.12 18.11C188.04 17.26 188.06 16.36 188.34 15.55C188.51 15.05 188.87 14.41 189.40 14.36C189.87 14.31 190.27 14.90 190.43 15.34C190.72 16.15 190.53 17.05 190.68 17.90C190.83 18.76 191.04 19.62 191.32 20.45C191.54 21.12 191.89 21.73 192.17 22.37C193.52 21.48 194.90 20.62 196.22 19.69C197.31 18.92 198.42 18.15 199.42 17.26C200.24 16.52 201.04 15.73 201.68 14.83C201.91 14.49 202.04 14.04 201.97 13.64C201.92 13.29 201.55 13.07 201.33 12.78C200.55 12.64 199.74 12.62 198.99 12.36C197.95 12.00 196.94 11.53 196.01 10.95C195.10 10.39 194.25 9.71 193.49 8.95C193.22 8.68 192.90 8.30 192.98 7.93C193.08 7.49 193.48 6.94 193.92 6.99C194.77 7.08 195.38 7.88 196.14 8.27C197.11 8.77 198.09 9.28 199.12 9.67C200.04 10.02 201.02 10.21 201.97 10.48C202.04 9.62 202.33 8.74 202.19 7.88C201.99 6.70 201.59 5.52 200.99 4.47C200.41 3.45 199.39 2.74 198.69 1.79C198.50 1.52 198.26 1.17 198.35 0.85C198.44 0.56 198.82 0.29 199.12 0.34C199.78 0.45 200.42 0.81 200.91 1.28C201.73 2.08 202.43 3.03 202.95 4.05C203.43 4.97 203.58 6.04 203.89 7.03C203.98 6.25 204.09 5.47 204.15 4.69C204.21 3.84 204.04 2.96 204.23 2.13C204.32 1.77 204.58 1.30 204.96 1.28C205.37 1.26 205.79 1.66 205.94 2.05C206.32 3.08 206.39 4.22 206.45 5.33C206.50 6.39 206.38 7.46 206.28 8.52C206.21 9.31 205.88 10.08 205.94 10.87C205.97 11.27 206.33 11.58 206.53 11.93C206.96 11.43 207.48 11.01 207.81 10.44C208.32 9.57 208.74 8.64 209.00 7.67C209.25 6.77 209.03 5.79 209.30 4.90C209.41 4.56 209.72 4.15 210.07 4.18C210.47 4.21 210.86 4.63 210.92 5.03C211.09 6.18 210.99 7.39 210.71 8.52C210.37 9.87 209.83 11.19 209.09 12.36C208.28 13.63 207.18 14.71 206.11 15.77C205.02 16.84 203.79 17.78 202.61 18.75C201.21 19.91 199.77 21.02 198.35 22.16C196.93 23.30 195.45 24.36 194.09 25.57C193.29 26.28 192.51 27.04 191.87 27.91C191.70 28.14 191.62 28.51 191.75 28.76C191.90 29.08 192.31 29.19 192.60 29.40C193.81 28.44 194.92 27.34 196.22 26.51C197.42 25.73 198.76 25.18 200.06 24.59C200.53 24.37 201.05 24.25 201.55 24.08C201.62 24.57 201.82 25.07 201.76 25.57C201.63 26.73 201.39 27.88 200.99 28.98C200.67 29.89 200.16 30.73 199.63 31.53C199.13 32.29 198.66 33.12 197.93 33.66C197.35 34.09 196.57 34.14 195.88 34.30C195.26 34.45 194.63 34.50 194.01 34.60C194.01 34.93 193.96 35.26 194.01 35.58C194.16 36.58 194.35 37.58 194.60 38.56C194.91 39.79 195.22 41.01 195.67 42.19C195.93 42.87 196.23 43.57 196.73 44.10C197.19 44.60 197.77 45.12 198.44 45.17C201.00 45.34 203.57 44.59 206.14 44.75C208.45 44.88 210.65 45.88 212.96 46.02C215.23 46.17 217.50 45.70 219.77 45.60C223.75 45.42 227.73 45.17 231.71 45.17C235.97 45.17 240.24 45.32 244.49 45.60C246.78 45.75 249.12 45.78 251.31 46.45C252.89 46.94 254.12 48.21 255.57 49.01C257.24 49.92 259.13 50.46 260.68 51.56C262.16 52.61 263.68 53.80 264.52 55.40C265.46 57.20 265.58 59.34 265.80 61.37C266.01 63.34 265.80 65.34 265.80 67.33C264.95 66.48 263.99 65.72 263.24 64.77C262.28 63.57 261.61 62.17 260.68 60.94C260.32 60.46 259.83 60.09 259.41 59.66C259.12 61.37 258.88 63.08 258.55 64.77C258.17 66.77 257.65 68.74 257.28 70.74C257.12 71.58 256.83 72.44 256.97 73.27C257.17 74.40 257.64 75.49 258.25 76.46C258.73 77.22 259.44 77.83 260.16 78.37C261.15 79.11 262.32 79.59 263.34 80.28C264.06 80.76 265.02 81.09 265.38 81.87C265.78 82.74 265.43 83.78 265.38 84.74C265.28 86.86 265.06 88.98 264.94 91.11C264.81 93.23 264.62 95.35 264.62 97.48C264.62 99.18 264.82 100.88 264.94 102.57C264.99 103.42 265.33 104.29 265.13 105.12C264.99 105.68 264.24 105.89 263.98 106.39C263.73 106.88 263.89 107.49 263.66 107.99C263.35 108.68 263.02 109.46 262.39 109.90C261.56 110.47 260.52 110.74 259.52 110.85C258.67 110.95 257.75 110.89 256.97 110.54C256.49 110.32 256.02 109.79 256.02 109.26C256.02 108.55 256.47 107.85 256.97 107.35C257.68 106.64 258.73 106.38 259.52 105.76C260.23 105.20 261.11 104.69 261.43 103.85C261.90 102.66 261.75 101.30 261.75 100.03C261.75 98.11 261.49 96.21 261.43 94.29C261.38 92.38 261.57 90.47 261.43 88.56C261.36 87.58 261.46 86.41 260.80 85.69C260.02 84.85 258.69 84.80 257.61 84.42C256.57 84.05 255.49 83.78 254.43 83.46C254.75 83.78 255.14 84.04 255.38 84.42C255.89 85.22 256.72 86.02 256.66 86.97C256.60 87.80 255.58 88.23 255.06 88.88C253.98 90.25 252.92 91.62 251.88 93.02C250.79 94.49 249.68 95.94 248.69 97.48C247.77 98.92 246.91 100.41 246.15 101.94C245.85 102.54 245.85 103.27 245.51 103.85C245.09 104.56 244.45 105.12 243.92 105.76C243.39 106.39 243.01 107.20 242.32 107.67C241.58 108.19 240.68 108.51 239.78 108.62C238.93 108.73 237.99 108.69 237.23 108.31C236.62 108.00 236.15 107.36 235.96 106.71C235.80 106.19 235.91 105.53 236.27 105.12C236.84 104.48 237.73 104.21 238.50 103.85C239.33 103.46 240.31 103.42 241.05 102.89C241.85 102.32 242.33 101.41 242.96 100.66C244.03 99.39 245.14 98.16 246.15 96.84C247.26 95.39 248.37 93.94 249.33 92.38C250.08 91.17 251.08 89.98 251.24 88.56C251.32 87.89 250.50 87.40 249.97 86.97C248.78 86.00 247.40 85.31 246.15 84.42C244.85 83.50 243.48 82.65 242.32 81.55C241.13 80.41 240.03 79.13 239.14 77.73C238.53 76.77 238.29 75.61 237.87 74.55C236.80 74.87 235.76 75.24 234.68 75.50C233.00 75.92 231.31 76.35 229.59 76.59C227.48 76.88 225.35 77.06 223.22 77.10C221.09 77.13 218.97 76.96 216.85 76.78C215.25 76.64 213.66 76.35 212.07 76.14C212.39 77.31 212.80 78.45 213.03 79.64C213.43 81.75 213.64 83.89 213.98 86.01C214.39 88.56 214.79 91.11 215.25 93.66C215.64 95.79 216.15 97.89 216.53 100.03C216.68 100.87 216.95 101.72 216.85 102.57C216.73 103.47 216.01 104.22 215.89 105.12C215.79 105.87 216.38 106.62 216.21 107.35C216.04 108.10 215.55 108.80 214.94 109.26C214.21 109.81 213.29 110.11 212.39 110.22C211.43 110.33 210.42 110.24 209.52 109.90C208.96 109.68 208.38 109.21 208.25 108.62C208.12 108.07 208.55 107.49 208.89 107.03C209.42 106.30 210.22 105.81 210.80 105.12C211.29 104.53 211.99 103.97 212.07 103.21C212.22 101.72 211.71 100.23 211.43 98.75C211.07 96.83 210.68 94.91 210.16 93.02C209.62 91.08 208.96 89.17 208.25 87.29C207.79 86.09 207.19 84.95 206.66 83.78C206.02 85.16 205.29 86.51 204.75 87.92C204.02 89.80 203.44 91.74 202.83 93.66C202.17 95.77 201.64 97.93 200.92 100.03C200.47 101.33 199.50 102.48 199.33 103.85C199.27 104.37 200.05 104.65 200.29 105.12C200.48 105.51 200.75 105.98 200.61 106.39C200.19 107.56 199.35 108.53 198.69 109.58C198.29 110.23 198.09 111.13 197.42 111.49C196.57 111.95 195.49 112.02 194.55 111.81C193.49 111.57 192.25 111.15 191.69 110.22C191.37 109.69 192.21 109.06 192.64 108.62C193.39 107.87 194.59 107.59 195.19 106.71C196.03 105.49 196.35 103.99 196.78 102.57C197.30 100.90 197.68 99.19 198.06 97.48C198.53 95.36 198.96 93.24 199.33 91.11C199.70 88.99 200.02 86.87 200.29 84.74C200.55 82.62 200.71 80.49 200.92 78.37C201.03 77.31 201.82 76.08 201.24 75.18C200.50 74.04 198.75 74.06 197.61 73.30C196.10 72.28 194.58 71.23 193.35 69.89C191.71 68.08 190.60 65.84 189.09 63.92C188.00 62.54 186.64 61.39 185.57 60.00C184.89 59.11 184.37 58.10 183.86 57.10C183.23 55.85 182.55 54.61 182.16 53.27C181.76 51.89 181.62 50.44 181.52 49.00C181.47 48.29 181.97 47.55 181.73 46.87C181.56 46.39 180.89 46.29 180.45 46.02C179.75 45.58 178.89 45.35 178.32 44.74C177.91 44.30 177.65 43.64 177.68 43.04C177.72 42.41 178.37 41.95 178.54 41.33C178.73 40.65 178.87 39.91 178.75 39.20C178.65 38.58 178.28 38.01 177.90 37.50C177.62 37.14 177.19 36.93 176.83 36.65C177.05 36.22 177.26 35.79 177.47 35.37C177.76 34.80 178.04 34.23 178.32 33.66C177.76 33.45 177.14 33.34 176.62 33.03C175.71 32.48 174.76 31.91 174.06 31.11C173.31 30.24 172.88 29.14 172.36 28.12C171.92 27.27 171.56 26.36 171.16 25.48Z"/>
<path id="caprine1" transform="translate(0 0.2)" clip-path="url(#clip-caprine)" d="M383.05 206.72C383.57 206.07 384.19 205.35 385.00 205.16C386.27 204.85 387.65 204.97 388.91 205.31C390.57 205.77 392.16 206.55 393.59 207.50C395.05 208.47 396.27 209.76 397.50 211.02C398.88 212.43 400.10 213.98 401.41 215.47C402.45 213.85 403.36 212.15 404.53 210.62C405.71 209.09 406.97 207.59 408.44 206.33C409.86 205.10 411.42 203.99 413.12 203.20C415.10 202.28 417.22 201.61 419.38 201.25C421.43 200.90 423.55 200.93 425.62 201.09C427.48 201.24 429.35 201.55 431.09 202.19C432.39 202.66 433.57 203.47 434.61 204.38C435.05 204.76 435.49 205.36 435.39 205.94C435.31 206.40 434.68 206.64 434.22 206.72C433.45 206.86 432.63 206.78 431.88 206.56C430.78 206.25 429.86 205.44 428.75 205.16C427.48 204.83 426.13 204.53 424.84 204.77C423.18 205.07 421.61 205.86 420.16 206.72C418.72 207.57 417.43 208.66 416.25 209.84C415.07 211.02 414.11 212.41 413.12 213.75C412.68 214.36 412.34 215.05 411.95 215.70C412.47 215.96 413.18 216.01 413.52 216.48C413.90 217.02 414.03 217.78 413.91 218.44C413.75 219.30 413.16 220.02 412.73 220.78C412.51 221.19 412.05 221.49 411.95 221.95C411.77 222.85 411.79 223.79 411.95 224.69C412.19 226.03 412.77 227.28 413.12 228.59C413.55 230.15 413.94 231.71 414.30 233.28C414.59 234.58 414.90 235.87 415.08 237.19C415.29 238.74 415.19 240.33 415.47 241.88C415.71 243.21 416.25 244.48 416.64 245.78C417.03 247.08 417.63 248.34 417.81 249.69C418.02 251.24 418.07 252.83 417.81 254.38C417.54 256.00 416.93 257.56 416.25 259.06C415.62 260.44 414.64 261.64 413.91 262.97C413.20 264.24 412.48 265.52 411.95 266.88C411.31 268.52 410.79 270.23 410.39 271.95C410.01 273.62 409.86 275.34 409.61 277.03C409.34 278.85 409.04 280.67 408.83 282.50C408.65 284.06 408.51 285.62 408.44 287.19C408.38 288.49 408.21 289.81 408.44 291.09C408.61 292.07 409.45 292.85 409.61 293.83C409.72 294.48 409.69 295.31 409.22 295.78C408.64 296.36 407.69 296.45 406.88 296.56C405.84 296.71 404.75 296.87 403.75 296.56C402.95 296.32 402.23 295.71 401.80 295.00C401.39 294.32 401.38 293.45 401.41 292.66C401.46 291.34 402.03 290.07 402.03 288.75C402.03 287.69 401.72 286.64 401.41 285.62C400.99 284.29 400.40 283.00 399.84 281.72C399.10 280.01 398.28 278.34 397.50 276.64C396.84 275.21 396.17 273.79 395.55 272.34C394.99 271.05 394.57 269.71 393.98 268.44C393.79 268.01 393.46 267.66 393.20 267.27C392.03 267.66 390.89 268.15 389.69 268.44C388.15 268.80 386.58 269.15 385.00 269.22C383.43 269.28 381.86 269.11 380.31 268.83C378.98 268.58 377.68 268.13 376.41 267.66C375.59 267.35 374.84 266.88 374.06 266.48C373.54 267.40 373.01 268.30 372.50 269.22C371.71 270.64 371.03 272.14 370.16 273.52C369.21 275.01 368.13 276.42 367.03 277.81C366.17 278.90 364.97 279.73 364.30 280.94C363.64 282.13 363.37 283.51 363.12 284.84C362.84 286.39 362.81 287.96 362.73 289.53C362.68 290.83 362.48 292.16 362.73 293.44C363.01 294.81 363.94 295.99 364.30 297.34C364.60 298.48 364.90 299.70 364.69 300.86C364.60 301.32 363.99 301.64 363.52 301.64C362.32 301.64 360.88 301.67 360.00 300.86C359.09 300.02 359.11 298.55 358.83 297.34C358.46 295.80 358.11 294.24 358.05 292.66C357.98 290.83 358.26 289.01 358.44 287.19C358.65 285.10 358.98 283.02 359.22 280.94C359.37 279.64 359.14 278.25 359.61 277.03C360.08 275.82 361.27 275.02 361.95 273.91C362.71 272.66 363.43 271.37 363.91 270.00C364.34 268.75 364.60 267.42 364.69 266.09C364.74 265.30 364.43 264.53 364.30 263.75C363.39 265.05 362.40 266.31 361.56 267.66C360.45 269.44 359.54 271.34 358.44 273.12C357.45 274.72 356.32 276.23 355.31 277.81C354.50 279.09 353.65 280.36 352.97 281.72C352.08 283.49 351.34 285.34 350.62 287.19C350.03 288.72 349.56 290.31 349.06 291.88C348.65 293.17 348.37 294.51 347.89 295.78C347.58 296.60 347.50 297.73 346.72 298.12C345.43 298.77 343.85 298.39 342.42 298.52C342.55 297.60 342.62 296.68 342.81 295.78C343.14 294.21 343.44 292.61 343.98 291.09C344.75 288.95 345.94 286.98 346.72 284.84C347.37 283.06 347.79 281.21 348.28 279.38C348.70 277.82 348.83 276.17 349.45 274.69C350.15 273.02 351.47 271.66 352.19 270.00C353.05 267.99 353.74 265.90 354.14 263.75C354.53 261.70 354.61 259.59 354.53 257.50C354.47 255.92 353.75 254.40 353.75 252.81C353.75 251.23 353.92 249.59 354.53 248.12C355.25 246.39 356.47 244.89 357.66 243.44C358.82 242.01 360.07 240.61 361.56 239.53C362.98 238.50 364.59 237.72 366.25 237.19C368.27 236.54 370.40 236.28 372.50 236.02C374.57 235.76 376.67 235.75 378.75 235.62C381.09 235.49 383.45 235.53 385.78 235.23C387.63 235.00 389.46 234.58 391.25 234.06C392.60 233.67 393.95 233.22 395.16 232.50C395.95 232.03 396.96 231.46 397.11 230.55C397.27 229.57 396.22 228.76 395.94 227.81C395.56 226.54 395.45 225.20 395.16 223.91C394.80 222.34 394.49 220.75 393.98 219.22C393.58 218.00 393.12 216.78 392.42 215.70C391.67 214.54 390.76 213.45 389.69 212.58C388.65 211.73 387.35 211.26 386.17 210.62C385.40 210.21 384.51 210.00 383.83 209.45C383.35 209.06 382.98 208.49 382.81 207.89C382.70 207.51 382.80 207.03 383.05 206.72Z"/>
<path transform="translate(0 0.2)" d="M402.81 270.16C402.70 269.30 402.95 271.88 403.05 272.73C403.13 273.52 403.43 275.86 403.36 275.08" fill="none" stroke="#111" stroke-width="0.7" stroke-linecap="round"/>
<path transform="translate(0 0.2)" d="M408.44 219.84C407.64 220.41 409.67 218.32 410.39 217.66C410.98 217.11 412.88 215.65 412.34 216.25" fill="none" stroke="#111" stroke-width="0.8" stroke-linecap="round"/>
<path id="caprine2" transform="translate(1.6 505.9)" clip-path="url(#clip-caprine)" d="M383.05 206.72C383.57 206.07 384.19 205.35 385.00 205.16C386.27 204.85 387.65 204.97 388.91 205.31C390.57 205.77 392.16 206.55 393.59 207.50C395.05 208.47 396.27 209.76 397.50 211.02C398.88 212.43 400.10 213.98 401.41 215.47C402.45 213.85 403.36 212.15 404.53 210.62C405.71 209.09 406.97 207.59 408.44 206.33C409.86 205.10 411.42 203.99 413.12 203.20C415.10 202.28 417.22 201.61 419.38 201.25C421.43 200.90 423.55 200.93 425.62 201.09C427.48 201.24 429.35 201.55 431.09 202.19C432.39 202.66 433.57 203.47 434.61 204.38C435.05 204.76 435.49 205.36 435.39 205.94C435.31 206.40 434.68 206.64 434.22 206.72C433.45 206.86 432.63 206.78 431.88 206.56C430.78 206.25 429.86 205.44 428.75 205.16C427.48 204.83 426.13 204.53 424.84 204.77C423.18 205.07 421.61 205.86 420.16 206.72C418.72 207.57 417.43 208.66 416.25 209.84C415.07 211.02 414.11 212.41 413.12 213.75C412.68 214.36 412.34 215.05 411.95 215.70C412.47 215.96 413.18 216.01 413.52 216.48C413.90 217.02 414.03 217.78 413.91 218.44C413.75 219.30 413.16 220.02 412.73 220.78C412.51 221.19 412.05 221.49 411.95 221.95C411.77 222.85 411.79 223.79 411.95 224.69C412.19 226.03 412.77 227.28 413.12 228.59C413.55 230.15 413.94 231.71 414.30 233.28C414.59 234.58 414.90 235.87 415.08 237.19C415.29 238.74 415.19 240.33 415.47 241.88C415.71 243.21 416.25 244.48 416.64 245.78C417.03 247.08 417.63 248.34 417.81 249.69C418.02 251.24 418.07 252.83 417.81 254.38C417.54 256.00 416.93 257.56 416.25 259.06C415.62 260.44 414.64 261.64 413.91 262.97C413.20 264.24 412.48 265.52 411.95 266.88C411.31 268.52 410.79 270.23 410.39 271.95C410.01 273.62 409.86 275.34 409.61 277.03C409.34 278.85 409.04 280.67 408.83 282.50C408.65 284.06 408.51 285.62 408.44 287.19C408.38 288.49 408.21 289.81 408.44 291.09C408.61 292.07 409.45 292.85 409.61 293.83C409.72 294.48 409.69 295.31 409.22 295.78C408.64 296.36 407.69 296.45 406.88 296.56C405.84 296.71 404.75 296.87 403.75 296.56C402.95 296.32 402.23 295.71 401.80 295.00C401.39 294.32 401.38 293.45 401.41 292.66C401.46 291.34 402.03 290.07 402.03 288.75C402.03 287.69 401.72 286.64 401.41 285.62C400.99 284.29 400.40 283.00 399.84 281.72C399.10 280.01 398.28 278.34 397.50 276.64C396.84 275.21 396.17 273.79 395.55 272.34C394.99 271.05 394.57 269.71 393.98 268.44C393.79 268.01 393.46 267.66 393.20 267.27C392.03 267.66 390.89 268.15 389.69 268.44C388.15 268.80 386.58 269.15 385.00 269.22C383.43 269.28 381.86 269.11 380.31 268.83C378.98 268.58 377.68 268.13 376.41 267.66C375.59 267.35 374.84 266.88 374.06 266.48C373.54 267.40 373.01 268.30 372.50 269.22C371.71 270.64 371.03 272.14 370.16 273.52C369.21 275.01 368.13 276.42 367.03 277.81C366.17 278.90 364.97 279.73 364.30 280.94C363.64 282.13 363.37 283.51 363.12 284.84C362.84 286.39 362.81 287.96 362.73 289.53C362.68 290.83 362.48 292.16 362.73 293.44C363.01 294.81 363.94 295.99 364.30 297.34C364.60 298.48 364.90 299.70 364.69 300.86C364.60 301.32 363.99 301.64 363.52 301.64C362.32 301.64 360.88 301.67 360.00 300.86C359.09 300.02 359.11 298.55 358.83 297.34C358.46 295.80 358.11 294.24 358.05 292.66C357.98 290.83 358.26 289.01 358.44 287.19C358.65 285.10 358.98 283.02 359.22 280.94C359.37 279.64 359.14 278.25 359.61 277.03C360.08 275.82 361.27 275.02 361.95 273.91C362.71 272.66 363.43 271.37 363.91 270.00C364.34 268.75 364.60 267.42 364.69 266.09C364.74 265.30 364.43 264.53 364.30 263.75C363.39 265.05 362.40 266.31 361.56 267.66C360.45 269.44 359.54 271.34 358.44 273.12C357.45 274.72 356.32 276.23 355.31 277.81C354.50 279.09 353.65 280.36 352.97 281.72C352.08 283.49 351.34 285.34 350.62 287.19C350.03 288.72 349.56 290.31 349.06 291.88C348.65 293.17 348.37 294.51 347.89 295.78C347.58 296.60 347.50 297.73 346.72 298.12C345.43 298.77 343.85 298.39 342.42 298.52C342.55 297.60 342.62 296.68 342.81 295.78C343.14 294.21 343.44 292.61 343.98 291.09C344.75 288.95 345.94 286.98 346.72 284.84C347.37 283.06 347.79 281.21 348.28 279.38C348.70 277.82 348.83 276.17 349.45 274.69C350.15 273.02 351.47 271.66 352.19 270.00C353.05 267.99 353.74 265.90 354.14 263.75C354.53 261.70 354.61 259.59 354.53 257.50C354.47 255.92 353.75 254.40 353.75 252.81C353.75 251.23 353.92 249.59 354.53 248.12C355.25 246.39 356.47 244.89 357.66 243.44C358.82 242.01 360.07 240.61 361.56 239.53C362.98 238.50 364.59 237.72 366.25 237.19C368.27 236.54 370.40 236.28 372.50 236.02C374.57 235.76 376.67 235.75 378.75 235.62C381.09 235.49 383.45 235.53 385.78 235.23C387.63 235.00 389.46 234.58 391.25 234.06C392.60 233.67 393.95 233.22 395.16 232.50C395.95 232.03 396.96 231.46 397.11 230.55C397.27 229.57 396.22 228.76 395.94 227.81C395.56 226.54 395.45 225.20 395.16 223.91C394.80 222.34 394.49 220.75 393.98 219.22C393.58 218.00 393.12 216.78 392.42 215.70C391.67 214.54 390.76 213.45 389.69 212.58C388.65 211.73 387.35 211.26 386.17 210.62C385.40 210.21 384.51 210.00 383.83 209.45C383.35 209.06 382.98 208.49 382.81 207.89C382.70 207.51 382.80 207.03 383.05 206.72Z"/>
<path transform="translate(1.6 505.9)" d="M402.81 270.16C402.70 269.30 402.95 271.88 403.05 272.73C403.13 273.52 403.43 275.86 403.36 275.08" fill="none" stroke="#111" stroke-width="0.7" stroke-linecap="round"/>
<path transform="translate(1.6 505.9)" d="M408.44 219.84C407.64 220.41 409.67 218.32 410.39 217.66C410.98 217.11 412.88 215.65 412.34 216.25" fill="none" stroke="#111" stroke-width="0.8" stroke-linecap="round"/>
<path id="caprine3" transform="translate(1.6 1000.8)" clip-path="url(#clip-caprine)" d="M383.05 206.72C383.57 206.07 384.19 205.35 385.00 205.16C386.27 204.85 387.65 204.97 388.91 205.31C390.57 205.77 392.16 206.55 393.59 207.50C395.05 208.47 396.27 209.76 397.50 211.02C398.88 212.43 400.10 213.98 401.41 215.47C402.45 213.85 403.36 212.15 404.53 210.62C405.71 209.09 406.97 207.59 408.44 206.33C409.86 205.10 411.42 203.99 413.12 203.20C415.10 202.28 417.22 201.61 419.38 201.25C421.43 200.90 423.55 200.93 425.62 201.09C427.48 201.24 429.35 201.55 431.09 202.19C432.39 202.66 433.57 203.47 434.61 204.38C435.05 204.76 435.49 205.36 435.39 205.94C435.31 206.40 434.68 206.64 434.22 206.72C433.45 206.86 432.63 206.78 431.88 206.56C430.78 206.25 429.86 205.44 428.75 205.16C427.48 204.83 426.13 204.53 424.84 204.77C423.18 205.07 421.61 205.86 420.16 206.72C418.72 207.57 417.43 208.66 416.25 209.84C415.07 211.02 414.11 212.41 413.12 213.75C412.68 214.36 412.34 215.05 411.95 215.70C412.47 215.96 413.18 216.01 413.52 216.48C413.90 217.02 414.03 217.78 413.91 218.44C413.75 219.30 413.16 220.02 412.73 220.78C412.51 221.19 412.05 221.49 411.95 221.95C411.77 222.85 411.79 223.79 411.95 224.69C412.19 226.03 412.77 227.28 413.12 228.59C413.55 230.15 413.94 231.71 414.30 233.28C414.59 234.58 414.90 235.87 415.08 237.19C415.29 238.74 415.19 240.33 415.47 241.88C415.71 243.21 416.25 244.48 416.64 245.78C417.03 247.08 417.63 248.34 417.81 249.69C418.02 251.24 418.07 252.83 417.81 254.38C417.54 256.00 416.93 257.56 416.25 259.06C415.62 260.44 414.64 261.64 413.91 262.97C413.20 264.24 412.48 265.52 411.95 266.88C411.31 268.52 410.79 270.23 410.39 271.95C410.01 273.62 409.86 275.34 409.61 277.03C409.34 278.85 409.04 280.67 408.83 282.50C408.65 284.06 408.51 285.62 408.44 287.19C408.38 288.49 408.21 289.81 408.44 291.09C408.61 292.07 409.45 292.85 409.61 293.83C409.72 294.48 409.69 295.31 409.22 295.78C408.64 296.36 407.69 296.45 406.88 296.56C405.84 296.71 404.75 296.87 403.75 296.56C402.95 296.32 402.23 295.71 401.80 295.00C401.39 294.32 401.38 293.45 401.41 292.66C401.46 291.34 402.03 290.07 402.03 288.75C402.03 287.69 401.72 286.64 401.41 285.62C400.99 284.29 400.40 283.00 399.84 281.72C399.10 280.01 398.28 278.34 397.50 276.64C396.84 275.21 396.17 273.79 395.55 272.34C394.99 271.05 394.57 269.71 393.98 268.44C393.79 268.01 393.46 267.66 393.20 267.27C392.03 267.66 390.89 268.15 389.69 268.44C388.15 268.80 386.58 269.15 385.00 269.22C383.43 269.28 381.86 269.11 380.31 268.83C378.98 268.58 377.68 268.13 376.41 267.66C375.59 267.35 374.84 266.88 374.06 266.48C373.54 267.40 373.01 268.30 372.50 269.22C371.71 270.64 371.03 272.14 370.16 273.52C369.21 275.01 368.13 276.42 367.03 277.81C366.17 278.90 364.97 279.73 364.30 280.94C363.64 282.13 363.37 283.51 363.12 284.84C362.84 286.39 362.81 287.96 362.73 289.53C362.68 290.83 362.48 292.16 362.73 293.44C363.01 294.81 363.94 295.99 364.30 297.34C364.60 298.48 364.90 299.70 364.69 300.86C364.60 301.32 363.99 301.64 363.52 301.64C362.32 301.64 360.88 301.67 360.00 300.86C359.09 300.02 359.11 298.55 358.83 297.34C358.46 295.80 358.11 294.24 358.05 292.66C357.98 290.83 358.26 289.01 358.44 287.19C358.65 285.10 358.98 283.02 359.22 280.94C359.37 279.64 359.14 278.25 359.61 277.03C360.08 275.82 361.27 275.02 361.95 273.91C362.71 272.66 363.43 271.37 363.91 270.00C364.34 268.75 364.60 267.42 364.69 266.09C364.74 265.30 364.43 264.53 364.30 263.75C363.39 265.05 362.40 266.31 361.56 267.66C360.45 269.44 359.54 271.34 358.44 273.12C357.45 274.72 356.32 276.23 355.31 277.81C354.50 279.09 353.65 280.36 352.97 281.72C352.08 283.49 351.34 285.34 350.62 287.19C350.03 288.72 349.56 290.31 349.06 291.88C348.65 293.17 348.37 294.51 347.89 295.78C347.58 296.60 347.50 297.73 346.72 298.12C345.43 298.77 343.85 298.39 342.42 298.52C342.55 297.60 342.62 296.68 342.81 295.78C343.14 294.21 343.44 292.61 343.98 291.09C344.75 288.95 345.94 286.98 346.72 284.84C347.37 283.06 347.79 281.21 348.28 279.38C348.70 277.82 348.83 276.17 349.45 274.69C350.15 273.02 351.47 271.66 352.19 270.00C353.05 267.99 353.74 265.90 354.14 263.75C354.53 261.70 354.61 259.59 354.53 257.50C354.47 255.92 353.75 254.40 353.75 252.81C353.75 251.23 353.92 249.59 354.53 248.12C355.25 246.39 356.47 244.89 357.66 243.44C358.82 242.01 360.07 240.61 361.56 239.53C362.98 238.50 364.59 237.72 366.25 237.19C368.27 236.54 370.40 236.28 372.50 236.02C374.57 235.76 376.67 235.75 378.75 235.62C381.09 235.49 383.45 235.53 385.78 235.23C387.63 235.00 389.46 234.58 391.25 234.06C392.60 233.67 393.95 233.22 395.16 232.50C395.95 232.03 396.96 231.46 397.11 230.55C397.27 229.57 396.22 228.76 395.94 227.81C395.56 226.54 395.45 225.20 395.16 223.91C394.80 222.34 394.49 220.75 393.98 219.22C393.58 218.00 393.12 216.78 392.42 215.70C391.67 214.54 390.76 213.45 389.69 212.58C388.65 211.73 387.35 211.26 386.17 210.62C385.40 210.21 384.51 210.00 383.83 209.45C383.35 209.06 382.98 208.49 382.81 207.89C382.70 207.51 382.80 207.03 383.05 206.72Z"/>
<path transform="translate(1.6 1000.8)" d="M402.81 270.16C402.70 269.30 402.95 271.88 403.05 272.73C403.13 273.52 403.43 275.86 403.36 275.08" fill="none" stroke="#111" stroke-width="0.7" stroke-linecap="round"/>
<path transform="translate(1.6 1000.8)" d="M408.44 219.84C407.64 220.41 409.67 218.32 410.39 217.66C410.98 217.11 412.88 215.65 412.34 216.25" fill="none" stroke="#111" stroke-width="0.8" stroke-linecap="round"/>
<path id="fallow1" clip-path="url(#clip-fallow)" d="M488.73 303.74C489.10 302.72 490.12 302.05 490.95 301.35C492.20 300.32 493.62 299.52 494.93 298.57C496.01 297.79 497.08 297.01 498.11 296.18C498.41 295.95 498.64 295.65 498.91 295.39C498.01 294.70 497.01 294.12 496.20 293.32C495.24 292.36 494.27 291.35 493.66 290.14C493.12 289.07 492.78 287.83 492.86 286.64C492.90 286.07 493.42 285.43 493.98 285.36C494.59 285.29 495.21 285.81 495.57 286.32C496.16 287.15 496.16 288.30 496.68 289.18C497.21 290.07 497.94 290.84 498.67 291.57C499.17 292.06 499.64 292.80 500.34 292.84C501.13 292.89 501.82 292.24 502.49 291.81C503.08 291.43 503.55 290.91 504.08 290.46C503.55 289.71 502.91 289.04 502.49 288.23C501.97 287.22 501.55 286.15 501.30 285.05C501.09 284.14 500.86 283.15 501.14 282.26C501.31 281.72 501.92 281.23 502.49 281.23C503.06 281.23 503.58 281.76 503.84 282.26C504.28 283.11 504.12 284.16 504.48 285.05C504.87 286.04 505.21 287.19 506.07 287.83C506.51 288.16 507.27 287.82 507.66 287.43C508.54 286.55 509.14 285.39 509.65 284.25C510.21 282.99 510.54 281.62 510.84 280.27C511.20 278.70 511.40 277.10 511.64 275.50C511.88 273.91 512.02 272.31 512.27 270.73C512.42 269.79 512.28 268.71 512.83 267.94C513.24 267.36 514.11 267.11 514.82 267.15C515.68 267.20 516.35 268.03 517.21 268.18C517.86 268.30 518.57 268.18 519.19 267.94C519.88 267.69 520.30 266.75 521.02 266.75C521.63 266.75 522.05 267.44 522.38 267.94C522.92 268.79 523.17 269.80 523.57 270.73C523.97 271.66 524.55 272.52 524.76 273.51C524.96 274.42 524.42 275.43 524.76 276.30C525.01 276.91 525.69 277.42 526.35 277.49C527.19 277.57 527.91 276.58 528.74 276.69C529.16 276.75 529.30 277.50 529.14 277.89C528.84 278.58 528.22 279.14 527.55 279.48C526.83 279.84 525.81 279.39 525.16 279.88C524.59 280.30 524.58 281.18 524.37 281.86C524.04 282.91 523.36 283.97 523.57 285.05C523.69 285.63 524.94 285.29 525.16 285.84C525.34 286.29 524.75 286.75 524.37 287.04C523.65 287.57 522.67 287.67 521.98 288.23C521.18 288.88 519.86 289.59 519.99 290.61C520.09 291.45 521.75 290.86 522.38 291.41C522.64 291.64 522.29 292.22 521.98 292.36C520.99 292.80 519.87 292.91 518.80 293.00C517.48 293.12 516.14 293.07 514.82 293.00C513.49 292.93 512.17 292.60 510.84 292.60C510.17 292.60 509.33 292.52 508.85 293.00C508.26 293.59 508.06 294.55 508.06 295.39C508.06 296.48 508.51 297.53 508.85 298.57C509.30 299.92 509.81 301.27 510.44 302.55C511.14 303.93 511.86 305.32 512.83 306.52C513.60 307.47 514.48 308.46 515.61 308.91C516.60 309.30 517.75 309.10 518.80 308.91C520.70 308.57 522.47 307.70 524.37 307.32C526.46 306.90 528.60 306.67 530.73 306.52C533.38 306.35 536.03 306.43 538.68 306.37C541.34 306.30 543.99 306.23 546.64 306.13C549.29 306.02 551.94 305.76 554.59 305.73C557.25 305.70 559.92 305.62 562.55 305.97C563.94 306.15 565.28 306.67 566.53 307.32C567.70 307.93 568.77 308.77 569.71 309.71C570.64 310.64 571.40 311.76 572.09 312.89C572.87 314.15 573.53 315.49 574.08 316.87C574.60 318.15 574.82 319.54 575.28 320.84C575.75 322.19 576.34 323.49 576.87 324.82C576.07 325.09 575.07 325.02 574.48 325.62C573.89 326.21 573.76 327.17 573.68 328.00C573.62 328.68 573.60 329.51 574.08 329.99C574.80 330.71 575.96 330.73 576.87 331.18C577.82 331.66 579.01 331.92 579.65 332.78C580.31 333.65 580.09 334.93 580.45 335.96C581.02 337.58 581.72 339.16 582.44 340.73C583.18 342.35 583.91 343.98 584.82 345.50C585.50 346.64 586.41 347.62 587.21 348.68C587.61 349.22 588.17 349.65 588.40 350.28C588.72 351.16 589.10 352.17 588.80 353.06C588.61 353.62 587.78 354.03 587.21 353.86C586.22 353.56 585.52 352.63 584.82 351.87C583.92 350.89 583.17 349.79 582.44 348.68C581.58 347.40 580.79 346.06 580.05 344.71C579.20 343.15 578.65 341.41 577.66 339.93C577.04 339.00 576.24 338.13 575.28 337.55C573.81 336.65 572.11 336.18 570.50 335.56C568.66 334.85 566.78 334.26 564.93 333.57C563.60 333.07 562.36 332.26 560.96 331.98C560.29 331.85 559.63 332.24 558.97 332.38C558.84 333.84 558.63 335.29 558.57 336.75C558.50 338.34 559.23 340.08 558.57 341.53C557.79 343.23 555.85 344.12 554.59 345.50C553.20 347.04 551.94 348.68 550.62 350.28C549.29 351.87 547.97 353.46 546.64 355.05C545.85 355.98 545.39 357.38 544.25 357.83C543.14 358.28 541.87 357.57 540.67 357.44C541.07 356.77 541.38 356.05 541.87 355.45C543.11 353.92 544.55 352.56 545.84 351.07C547.20 349.51 548.51 347.90 549.82 346.30C550.90 344.98 552.51 343.95 553.00 342.32C553.39 341.03 552.60 339.64 552.21 338.34C551.80 336.98 551.18 335.68 550.62 334.37C550.38 333.82 550.09 333.31 549.82 332.78C548.23 333.04 546.64 333.29 545.05 333.57C542.92 333.95 540.83 334.50 538.68 334.76C536.57 335.03 534.43 334.92 532.32 335.16C530.98 335.32 529.67 335.69 528.34 335.96C527.68 337.02 527.02 338.08 526.35 339.14C525.69 340.20 524.89 341.19 524.37 342.32C524.08 342.93 523.49 343.83 523.97 344.31C524.86 345.20 526.33 345.19 527.55 345.50C529.38 345.98 531.25 346.34 533.12 346.70C534.70 347.00 536.29 347.31 537.89 347.49C538.68 347.58 539.58 347.11 540.27 347.49C540.95 347.87 541.25 348.74 541.47 349.48C541.66 350.12 541.84 350.92 541.47 351.47C541.16 351.92 540.41 351.96 539.88 351.87C538.88 351.69 538.06 350.98 537.09 350.67C535.53 350.18 533.90 349.91 532.32 349.48C530.46 348.98 528.60 348.46 526.75 347.89C525.15 347.40 523.51 346.98 521.98 346.30C521.10 345.91 520.07 345.53 519.59 344.71C519.05 343.78 519.14 342.59 519.19 341.53C519.27 340.18 519.75 338.88 519.99 337.55C520.15 336.62 520.26 335.69 520.39 334.76C519.99 334.76 519.59 334.76 519.19 334.76C518.53 335.96 517.84 337.13 517.21 338.34C516.38 339.92 515.67 341.55 514.82 343.12C513.94 344.74 512.96 346.30 512.04 347.89C511.11 349.48 510.27 351.13 509.25 352.66C508.41 353.92 507.85 355.63 506.47 356.24C505.24 356.79 503.82 355.87 502.49 355.69C502.89 354.94 503.20 354.15 503.68 353.46C504.66 352.07 506.00 350.94 506.86 349.48C507.74 348.00 508.23 346.32 508.85 344.71C509.56 342.87 510.20 341.00 510.84 339.14C511.39 337.55 512.10 336.01 512.43 334.37C512.64 333.33 512.66 332.22 512.43 331.18C512.12 329.79 511.43 328.51 510.84 327.21C510.11 325.59 509.48 323.89 508.46 322.43C507.60 321.21 506.26 320.38 505.27 319.25C504.40 318.25 503.48 317.26 502.89 316.07C502.27 314.83 501.99 313.44 501.69 312.09C501.46 311.05 501.72 309.89 501.30 308.91C500.89 307.96 500.26 306.94 499.31 306.52C497.97 305.94 496.40 306.15 494.93 306.13C493.60 306.10 492.28 306.46 490.95 306.37C490.39 306.32 489.73 306.16 489.36 305.73C488.91 305.20 488.49 304.39 488.73 303.74Z"/>
<path id="fallow2" transform="translate(0 500.2)" clip-path="url(#clip-fallow)" d="M488.73 303.74C489.10 302.72 490.12 302.05 490.95 301.35C492.20 300.32 493.62 299.52 494.93 298.57C496.01 297.79 497.08 297.01 498.11 296.18C498.41 295.95 498.64 295.65 498.91 295.39C498.01 294.70 497.01 294.12 496.20 293.32C495.24 292.36 494.27 291.35 493.66 290.14C493.12 289.07 492.78 287.83 492.86 286.64C492.90 286.07 493.42 285.43 493.98 285.36C494.59 285.29 495.21 285.81 495.57 286.32C496.16 287.15 496.16 288.30 496.68 289.18C497.21 290.07 497.94 290.84 498.67 291.57C499.17 292.06 499.64 292.80 500.34 292.84C501.13 292.89 501.82 292.24 502.49 291.81C503.08 291.43 503.55 290.91 504.08 290.46C503.55 289.71 502.91 289.04 502.49 288.23C501.97 287.22 501.55 286.15 501.30 285.05C501.09 284.14 500.86 283.15 501.14 282.26C501.31 281.72 501.92 281.23 502.49 281.23C503.06 281.23 503.58 281.76 503.84 282.26C504.28 283.11 504.12 284.16 504.48 285.05C504.87 286.04 505.21 287.19 506.07 287.83C506.51 288.16 507.27 287.82 507.66 287.43C508.54 286.55 509.14 285.39 509.65 284.25C510.21 282.99 510.54 281.62 510.84 280.27C511.20 278.70 511.40 277.10 511.64 275.50C511.88 273.91 512.02 272.31 512.27 270.73C512.42 269.79 512.28 268.71 512.83 267.94C513.24 267.36 514.11 267.11 514.82 267.15C515.68 267.20 516.35 268.03 517.21 268.18C517.86 268.30 518.57 268.18 519.19 267.94C519.88 267.69 520.30 266.75 521.02 266.75C521.63 266.75 522.05 267.44 522.38 267.94C522.92 268.79 523.17 269.80 523.57 270.73C523.97 271.66 524.55 272.52 524.76 273.51C524.96 274.42 524.42 275.43 524.76 276.30C525.01 276.91 525.69 277.42 526.35 277.49C527.19 277.57 527.91 276.58 528.74 276.69C529.16 276.75 529.30 277.50 529.14 277.89C528.84 278.58 528.22 279.14 527.55 279.48C526.83 279.84 525.81 279.39 525.16 279.88C524.59 280.30 524.58 281.18 524.37 281.86C524.04 282.91 523.36 283.97 523.57 285.05C523.69 285.63 524.94 285.29 525.16 285.84C525.34 286.29 524.75 286.75 524.37 287.04C523.65 287.57 522.67 287.67 521.98 288.23C521.18 288.88 519.86 289.59 519.99 290.61C520.09 291.45 521.75 290.86 522.38 291.41C522.64 291.64 522.29 292.22 521.98 292.36C520.99 292.80 519.87 292.91 518.80 293.00C517.48 293.12 516.14 293.07 514.82 293.00C513.49 292.93 512.17 292.60 510.84 292.60C510.17 292.60 509.33 292.52 508.85 293.00C508.26 293.59 508.06 294.55 508.06 295.39C508.06 296.48 508.51 297.53 508.85 298.57C509.30 299.92 509.81 301.27 510.44 302.55C511.14 303.93 511.86 305.32 512.83 306.52C513.60 307.47 514.48 308.46 515.61 308.91C516.60 309.30 517.75 309.10 518.80 308.91C520.70 308.57 522.47 307.70 524.37 307.32C526.46 306.90 528.60 306.67 530.73 306.52C533.38 306.35 536.03 306.43 538.68 306.37C541.34 306.30 543.99 306.23 546.64 306.13C549.29 306.02 551.94 305.76 554.59 305.73C557.25 305.70 559.92 305.62 562.55 305.97C563.94 306.15 565.28 306.67 566.53 307.32C567.70 307.93 568.77 308.77 569.71 309.71C570.64 310.64 571.40 311.76 572.09 312.89C572.87 314.15 573.53 315.49 574.08 316.87C574.60 318.15 574.82 319.54 575.28 320.84C575.75 322.19 576.34 323.49 576.87 324.82C576.07 325.09 575.07 325.02 574.48 325.62C573.89 326.21 573.76 327.17 573.68 328.00C573.62 328.68 573.60 329.51 574.08 329.99C574.80 330.71 575.96 330.73 576.87 331.18C577.82 331.66 579.01 331.92 579.65 332.78C580.31 333.65 580.09 334.93 580.45 335.96C581.02 337.58 581.72 339.16 582.44 340.73C583.18 342.35 583.91 343.98 584.82 345.50C585.50 346.64 586.41 347.62 587.21 348.68C587.61 349.22 588.17 349.65 588.40 350.28C588.72 351.16 589.10 352.17 588.80 353.06C588.61 353.62 587.78 354.03 587.21 353.86C586.22 353.56 585.52 352.63 584.82 351.87C583.92 350.89 583.17 349.79 582.44 348.68C581.58 347.40 580.79 346.06 580.05 344.71C579.20 343.15 578.65 341.41 577.66 339.93C577.04 339.00 576.24 338.13 575.28 337.55C573.81 336.65 572.11 336.18 570.50 335.56C568.66 334.85 566.78 334.26 564.93 333.57C563.60 333.07 562.36 332.26 560.96 331.98C560.29 331.85 559.63 332.24 558.97 332.38C558.84 333.84 558.63 335.29 558.57 336.75C558.50 338.34 559.23 340.08 558.57 341.53C557.79 343.23 555.85 344.12 554.59 345.50C553.20 347.04 551.94 348.68 550.62 350.28C549.29 351.87 547.97 353.46 546.64 355.05C545.85 355.98 545.39 357.38 544.25 357.83C543.14 358.28 541.87 357.57 540.67 357.44C541.07 356.77 541.38 356.05 541.87 355.45C543.11 353.92 544.55 352.56 545.84 351.07C547.20 349.51 548.51 347.90 549.82 346.30C550.90 344.98 552.51 343.95 553.00 342.32C553.39 341.03 552.60 339.64 552.21 338.34C551.80 336.98 551.18 335.68 550.62 334.37C550.38 333.82 550.09 333.31 549.82 332.78C548.23 333.04 546.64 333.29 545.05 333.57C542.92 333.95 540.83 334.50 538.68 334.76C536.57 335.03 534.43 334.92 532.32 335.16C530.98 335.32 529.67 335.69 528.34 335.96C527.68 337.02 527.02 338.08 526.35 339.14C525.69 340.20 524.89 341.19 524.37 342.32C524.08 342.93 523.49 343.83 523.97 344.31C524.86 345.20 526.33 345.19 527.55 345.50C529.38 345.98 531.25 346.34 533.12 346.70C534.70 347.00 536.29 347.31 537.89 347.49C538.68 347.58 539.58 347.11 540.27 347.49C540.95 347.87 541.25 348.74 541.47 349.48C541.66 350.12 541.84 350.92 541.47 351.47C541.16 351.92 540.41 351.96 539.88 351.87C538.88 351.69 538.06 350.98 537.09 350.67C535.53 350.18 533.90 349.91 532.32 349.48C530.46 348.98 528.60 348.46 526.75 347.89C525.15 347.40 523.51 346.98 521.98 346.30C521.10 345.91 520.07 345.53 519.59 344.71C519.05 343.78 519.14 342.59 519.19 341.53C519.27 340.18 519.75 338.88 519.99 337.55C520.15 336.62 520.26 335.69 520.39 334.76C519.99 334.76 519.59 334.76 519.19 334.76C518.53 335.96 517.84 337.13 517.21 338.34C516.38 339.92 515.67 341.55 514.82 343.12C513.94 344.74 512.96 346.30 512.04 347.89C511.11 349.48 510.27 351.13 509.25 352.66C508.41 353.92 507.85 355.63 506.47 356.24C505.24 356.79 503.82 355.87 502.49 355.69C502.89 354.94 503.20 354.15 503.68 353.46C504.66 352.07 506.00 350.94 506.86 349.48C507.74 348.00 508.23 346.32 508.85 344.71C509.56 342.87 510.20 341.00 510.84 339.14C511.39 337.55 512.10 336.01 512.43 334.37C512.64 333.33 512.66 332.22 512.43 331.18C512.12 329.79 511.43 328.51 510.84 327.21C510.11 325.59 509.48 323.89 508.46 322.43C507.60 321.21 506.26 320.38 505.27 319.25C504.40 318.25 503.48 317.26 502.89 316.07C502.27 314.83 501.99 313.44 501.69 312.09C501.46 311.05 501.72 309.89 501.30 308.91C500.89 307.96 500.26 306.94 499.31 306.52C497.97 305.94 496.40 306.15 494.93 306.13C493.60 306.10 492.28 306.46 490.95 306.37C490.39 306.32 489.73 306.16 489.36 305.73C488.91 305.20 488.49 304.39 488.73 303.74Z"/>
<path id="fallow3" transform="translate(0 1006)" clip-path="url(#clip-fallow)" d="M488.73 303.74C489.10 302.72 490.12 302.05 490.95 301.35C492.20 300.32 493.62 299.52 494.93 298.57C496.01 297.79 497.08 297.01 498.11 296.18C498.41 295.95 498.64 295.65 498.91 295.39C498.01 294.70 497.01 294.12 496.20 293.32C495.24 292.36 494.27 291.35 493.66 290.14C493.12 289.07 492.78 287.83 492.86 286.64C492.90 286.07 493.42 285.43 493.98 285.36C494.59 285.29 495.21 285.81 495.57 286.32C496.16 287.15 496.16 288.30 496.68 289.18C497.21 290.07 497.94 290.84 498.67 291.57C499.17 292.06 499.64 292.80 500.34 292.84C501.13 292.89 501.82 292.24 502.49 291.81C503.08 291.43 503.55 290.91 504.08 290.46C503.55 289.71 502.91 289.04 502.49 288.23C501.97 287.22 501.55 286.15 501.30 285.05C501.09 284.14 500.86 283.15 501.14 282.26C501.31 281.72 501.92 281.23 502.49 281.23C503.06 281.23 503.58 281.76 503.84 282.26C504.28 283.11 504.12 284.16 504.48 285.05C504.87 286.04 505.21 287.19 506.07 287.83C506.51 288.16 507.27 287.82 507.66 287.43C508.54 286.55 509.14 285.39 509.65 284.25C510.21 282.99 510.54 281.62 510.84 280.27C511.20 278.70 511.40 277.10 511.64 275.50C511.88 273.91 512.02 272.31 512.27 270.73C512.42 269.79 512.28 268.71 512.83 267.94C513.24 267.36 514.11 267.11 514.82 267.15C515.68 267.20 516.35 268.03 517.21 268.18C517.86 268.30 518.57 268.18 519.19 267.94C519.88 267.69 520.30 266.75 521.02 266.75C521.63 266.75 522.05 267.44 522.38 267.94C522.92 268.79 523.17 269.80 523.57 270.73C523.97 271.66 524.55 272.52 524.76 273.51C524.96 274.42 524.42 275.43 524.76 276.30C525.01 276.91 525.69 277.42 526.35 277.49C527.19 277.57 527.91 276.58 528.74 276.69C529.16 276.75 529.30 277.50 529.14 277.89C528.84 278.58 528.22 279.14 527.55 279.48C526.83 279.84 525.81 279.39 525.16 279.88C524.59 280.30 524.58 281.18 524.37 281.86C524.04 282.91 523.36 283.97 523.57 285.05C523.69 285.63 524.94 285.29 525.16 285.84C525.34 286.29 524.75 286.75 524.37 287.04C523.65 287.57 522.67 287.67 521.98 288.23C521.18 288.88 519.86 289.59 519.99 290.61C520.09 291.45 521.75 290.86 522.38 291.41C522.64 291.64 522.29 292.22 521.98 292.36C520.99 292.80 519.87 292.91 518.80 293.00C517.48 293.12 516.14 293.07 514.82 293.00C513.49 292.93 512.17 292.60 510.84 292.60C510.17 292.60 509.33 292.52 508.85 293.00C508.26 293.59 508.06 294.55 508.06 295.39C508.06 296.48 508.51 297.53 508.85 298.57C509.30 299.92 509.81 301.27 510.44 302.55C511.14 303.93 511.86 305.32 512.83 306.52C513.60 307.47 514.48 308.46 515.61 308.91C516.60 309.30 517.75 309.10 518.80 308.91C520.70 308.57 522.47 307.70 524.37 307.32C526.46 306.90 528.60 306.67 530.73 306.52C533.38 306.35 536.03 306.43 538.68 306.37C541.34 306.30 543.99 306.23 546.64 306.13C549.29 306.02 551.94 305.76 554.59 305.73C557.25 305.70 559.92 305.62 562.55 305.97C563.94 306.15 565.28 306.67 566.53 307.32C567.70 307.93 568.77 308.77 569.71 309.71C570.64 310.64 571.40 311.76 572.09 312.89C572.87 314.15 573.53 315.49 574.08 316.87C574.60 318.15 574.82 319.54 575.28 320.84C575.75 322.19 576.34 323.49 576.87 324.82C576.07 325.09 575.07 325.02 574.48 325.62C573.89 326.21 573.76 327.17 573.68 328.00C573.62 328.68 573.60 329.51 574.08 329.99C574.80 330.71 575.96 330.73 576.87 331.18C577.82 331.66 579.01 331.92 579.65 332.78C580.31 333.65 580.09 334.93 580.45 335.96C581.02 337.58 581.72 339.16 582.44 340.73C583.18 342.35 583.91 343.98 584.82 345.50C585.50 346.64 586.41 347.62 587.21 348.68C587.61 349.22 588.17 349.65 588.40 350.28C588.72 351.16 589.10 352.17 588.80 353.06C588.61 353.62 587.78 354.03 587.21 353.86C586.22 353.56 585.52 352.63 584.82 351.87C583.92 350.89 583.17 349.79 582.44 348.68C581.58 347.40 580.79 346.06 580.05 344.71C579.20 343.15 578.65 341.41 577.66 339.93C577.04 339.00 576.24 338.13 575.28 337.55C573.81 336.65 572.11 336.18 570.50 335.56C568.66 334.85 566.78 334.26 564.93 333.57C563.60 333.07 562.36 332.26 560.96 331.98C560.29 331.85 559.63 332.24 558.97 332.38C558.84 333.84 558.63 335.29 558.57 336.75C558.50 338.34 559.23 340.08 558.57 341.53C557.79 343.23 555.85 344.12 554.59 345.50C553.20 347.04 551.94 348.68 550.62 350.28C549.29 351.87 547.97 353.46 546.64 355.05C545.85 355.98 545.39 357.38 544.25 357.83C543.14 358.28 541.87 357.57 540.67 357.44C541.07 356.77 541.38 356.05 541.87 355.45C543.11 353.92 544.55 352.56 545.84 351.07C547.20 349.51 548.51 347.90 549.82 346.30C550.90 344.98 552.51 343.95 553.00 342.32C553.39 341.03 552.60 339.64 552.21 338.34C551.80 336.98 551.18 335.68 550.62 334.37C550.38 333.82 550.09 333.31 549.82 332.78C548.23 333.04 546.64 333.29 545.05 333.57C542.92 333.95 540.83 334.50 538.68 334.76C536.57 335.03 534.43 334.92 532.32 335.16C530.98 335.32 529.67 335.69 528.34 335.96C527.68 337.02 527.02 338.08 526.35 339.14C525.69 340.20 524.89 341.19 524.37 342.32C524.08 342.93 523.49 343.83 523.97 344.31C524.86 345.20 526.33 345.19 527.55 345.50C529.38 345.98 531.25 346.34 533.12 346.70C534.70 347.00 536.29 347.31 537.89 347.49C538.68 347.58 539.58 347.11 540.27 347.49C540.95 347.87 541.25 348.74 541.47 349.48C541.66 350.12 541.84 350.92 541.47 351.47C541.16 351.92 540.41 351.96 539.88 351.87C538.88 351.69 538.06 350.98 537.09 350.67C535.53 350.18 533.90 349.91 532.32 349.48C530.46 348.98 528.60 348.46 526.75 347.89C525.15 347.40 523.51 346.98 521.98 346.30C521.10 345.91 520.07 345.53 519.59 344.71C519.05 343.78 519.14 342.59 519.19 341.53C519.27 340.18 519.75 338.88 519.99 337.55C520.15 336.62 520.26 335.69 520.39 334.76C519.99 334.76 519.59 334.76 519.19 334.76C518.53 335.96 517.84 337.13 517.21 338.34C516.38 339.92 515.67 341.55 514.82 343.12C513.94 344.74 512.96 346.30 512.04 347.89C511.11 349.48 510.27 351.13 509.25 352.66C508.41 353.92 507.85 355.63 506.47 356.24C505.24 356.79 503.82 355.87 502.49 355.69C502.89 354.94 503.20 354.15 503.68 353.46C504.66 352.07 506.00 350.94 506.86 349.48C507.74 348.00 508.23 346.32 508.85 344.71C509.56 342.87 510.20 341.00 510.84 339.14C511.39 337.55 512.10 336.01 512.43 334.37C512.64 333.33 512.66 332.22 512.43 331.18C512.12 329.79 511.43 328.51 510.84 327.21C510.11 325.59 509.48 323.89 508.46 322.43C507.60 321.21 506.26 320.38 505.27 319.25C504.40 318.25 503.48 317.26 502.89 316.07C502.27 314.83 501.99 313.44 501.69 312.09C501.46 311.05 501.72 309.89 501.30 308.91C500.89 307.96 500.26 306.94 499.31 306.52C497.97 305.94 496.40 306.15 494.93 306.13C493.60 306.10 492.28 306.46 490.95 306.37C490.39 306.32 489.73 306.16 489.36 305.73C488.91 305.20 488.49 304.39 488.73 303.74Z"/>
<path id="boar1" clip-path="url(#clip-boar)" d="M618.24 330.02C619.75 329.41 621.34 328.99 622.76 328.19C624.66 327.11 626.34 325.68 628.14 324.42C629.93 323.17 631.88 322.11 633.51 320.66C635.13 319.22 636.64 317.63 637.82 315.82C638.89 314.18 639.56 312.30 640.18 310.44C640.71 308.87 640.56 307.09 641.26 305.60C641.78 304.50 642.68 303.52 643.73 302.91C645.55 301.86 647.63 301.32 649.65 300.76C652.12 300.07 654.65 299.57 657.18 299.14C659.32 298.78 661.47 298.55 663.64 298.39C666.50 298.19 669.37 298.03 672.24 298.07C675.11 298.10 678.00 298.20 680.85 298.61C683.04 298.92 685.16 299.64 687.30 300.22C690.18 301.00 693.04 301.85 695.91 302.69C699.50 303.75 703.04 304.98 706.66 305.92C710.22 306.84 713.83 307.53 717.42 308.29C721.00 309.04 724.64 309.50 728.18 310.44C730.76 311.12 733.20 312.23 735.71 313.13C738.22 314.02 740.73 314.92 743.24 315.82C745.03 316.46 746.91 316.90 748.62 317.75C749.81 318.35 750.97 319.11 751.85 320.12C752.63 321.03 752.98 322.24 753.46 323.35C754.06 324.76 754.46 326.25 755.07 327.65C755.64 328.94 756.36 330.16 757.01 331.42C756.72 331.77 756.58 332.65 756.15 332.49C755.19 332.15 754.90 330.79 754.00 330.34C753.64 330.16 752.99 330.48 752.92 330.88C752.60 332.64 752.83 334.47 752.92 336.26C753.01 338.06 752.92 339.92 753.46 341.64C753.84 342.87 755.07 343.69 755.61 344.86C756.16 346.05 756.54 347.33 756.69 348.63C756.90 350.59 756.59 352.57 756.69 354.54C756.77 356.34 757.04 358.13 757.22 359.92C757.40 361.72 757.87 363.50 757.76 365.30C757.69 366.43 757.38 367.63 756.69 368.53C756.04 369.35 754.82 369.50 754.00 370.14C753.20 370.76 752.80 371.95 751.85 372.29C750.67 372.72 749.34 372.29 748.08 372.29C747.90 371.76 747.24 371.16 747.54 370.68C748.28 369.49 749.99 369.16 750.77 367.99C751.49 366.90 751.67 365.52 751.85 364.23C752.03 362.80 752.09 361.34 751.85 359.92C751.55 358.25 751.43 356.28 750.23 355.08C749.03 353.88 747.03 353.94 745.39 353.47C743.26 352.86 741.08 352.44 738.94 351.85C737.13 351.36 735.35 350.78 733.56 350.24C732.84 351.68 732.31 353.22 731.41 354.54C730.33 356.11 728.84 357.37 727.64 358.85C726.51 360.24 725.46 361.69 724.41 363.15C723.66 364.20 723.22 365.51 722.26 366.38C721.19 367.35 719.91 368.21 718.50 368.53C716.92 368.88 715.27 368.38 713.66 368.31C713.66 367.74 713.27 367.01 713.66 366.59C714.84 365.33 716.63 364.79 717.96 363.69C719.33 362.56 720.62 361.31 721.72 359.92C722.78 358.60 723.95 357.25 724.41 355.62C724.71 354.57 724.43 353.33 723.88 352.39C723.11 351.08 721.56 350.38 720.65 349.17C719.93 348.20 719.57 347.01 719.04 345.94C718.50 344.86 717.96 343.79 717.42 342.71C715.27 343.43 713.13 344.20 710.97 344.86C708.47 345.63 705.98 346.41 703.44 347.01C700.95 347.60 698.42 347.98 695.91 348.41C694.66 348.63 693.40 348.77 692.14 348.95C692.14 350.81 691.96 352.69 692.14 354.54C692.32 356.36 692.88 358.13 693.22 359.92C693.49 361.35 693.97 362.77 693.97 364.23C693.97 364.82 693.69 365.49 693.22 365.84C692.62 366.28 691.67 365.95 691.07 366.38C690.34 366.90 690.21 368.05 689.45 368.53C688.51 369.12 687.33 369.51 686.23 369.39C685.52 369.31 685.15 368.46 684.61 367.99C685.33 367.09 686.15 366.27 686.76 365.30C687.41 364.29 688.29 363.27 688.38 362.07C688.48 360.60 687.77 359.17 687.30 357.77C686.69 355.94 686.01 354.12 685.15 352.39C684.39 350.88 683.52 349.41 682.46 348.09C682.06 347.58 681.38 347.37 680.85 347.01C679.77 348.45 678.65 349.85 677.62 351.32C676.14 353.44 674.77 355.63 673.32 357.77C672.08 359.58 670.61 361.24 669.55 363.15C668.81 364.49 668.39 365.99 667.94 367.45C667.67 368.33 667.93 369.40 667.40 370.14C666.93 370.79 665.92 370.78 665.25 371.22C664.65 371.61 664.33 372.48 663.64 372.62C661.88 372.97 660.05 372.62 658.26 372.62C658.08 372.26 657.50 371.88 657.72 371.54C658.53 370.31 660.10 369.73 660.95 368.53C662.10 366.89 662.95 365.03 663.64 363.15C664.39 361.07 664.76 358.86 665.25 356.70C665.65 354.91 666.32 353.15 666.32 351.32C666.32 349.84 665.97 348.30 665.25 347.01C664.31 345.35 662.88 344.01 661.48 342.71C660.17 341.49 658.75 340.35 657.18 339.48C655.49 338.55 653.68 337.77 651.80 337.33C649.34 336.76 646.79 336.62 644.27 336.47C641.77 336.33 639.25 336.41 636.74 336.47C634.95 336.52 633.15 336.57 631.36 336.79C630.27 336.93 629.24 337.60 628.14 337.55C627.00 337.49 625.96 336.89 624.91 336.47C623.99 336.10 622.99 335.81 622.22 335.18C621.33 334.45 620.77 333.40 620.07 332.49C619.44 331.68 618.85 330.84 618.24 330.02Z"/>
<path d="M744.85 317.11C743.96 315.53 748.30 318.43 749.69 319.58C750.88 320.57 751.63 322.00 752.38 323.35C753.14 324.71 753.51 326.26 754.21 327.65C754.88 328.99 757.46 332.64 756.47 331.52" fill="none" stroke="#111" stroke-width="1.3" stroke-linecap="round"/>
<path id="boar2" transform="translate(0 484)" clip-path="url(#clip-boar)" d="M618.24 330.02C619.75 329.41 621.34 328.99 622.76 328.19C624.66 327.11 626.34 325.68 628.14 324.42C629.93 323.17 631.88 322.11 633.51 320.66C635.13 319.22 636.64 317.63 637.82 315.82C638.89 314.18 639.56 312.30 640.18 310.44C640.71 308.87 640.56 307.09 641.26 305.60C641.78 304.50 642.68 303.52 643.73 302.91C645.55 301.86 647.63 301.32 649.65 300.76C652.12 300.07 654.65 299.57 657.18 299.14C659.32 298.78 661.47 298.55 663.64 298.39C666.50 298.19 669.37 298.03 672.24 298.07C675.11 298.10 678.00 298.20 680.85 298.61C683.04 298.92 685.16 299.64 687.30 300.22C690.18 301.00 693.04 301.85 695.91 302.69C699.50 303.75 703.04 304.98 706.66 305.92C710.22 306.84 713.83 307.53 717.42 308.29C721.00 309.04 724.64 309.50 728.18 310.44C730.76 311.12 733.20 312.23 735.71 313.13C738.22 314.02 740.73 314.92 743.24 315.82C745.03 316.46 746.91 316.90 748.62 317.75C749.81 318.35 750.97 319.11 751.85 320.12C752.63 321.03 752.98 322.24 753.46 323.35C754.06 324.76 754.46 326.25 755.07 327.65C755.64 328.94 756.36 330.16 757.01 331.42C756.72 331.77 756.58 332.65 756.15 332.49C755.19 332.15 754.90 330.79 754.00 330.34C753.64 330.16 752.99 330.48 752.92 330.88C752.60 332.64 752.83 334.47 752.92 336.26C753.01 338.06 752.92 339.92 753.46 341.64C753.84 342.87 755.07 343.69 755.61 344.86C756.16 346.05 756.54 347.33 756.69 348.63C756.90 350.59 756.59 352.57 756.69 354.54C756.77 356.34 757.04 358.13 757.22 359.92C757.40 361.72 757.87 363.50 757.76 365.30C757.69 366.43 757.38 367.63 756.69 368.53C756.04 369.35 754.82 369.50 754.00 370.14C753.20 370.76 752.80 371.95 751.85 372.29C750.67 372.72 749.34 372.29 748.08 372.29C747.90 371.76 747.24 371.16 747.54 370.68C748.28 369.49 749.99 369.16 750.77 367.99C751.49 366.90 751.67 365.52 751.85 364.23C752.03 362.80 752.09 361.34 751.85 359.92C751.55 358.25 751.43 356.28 750.23 355.08C749.03 353.88 747.03 353.94 745.39 353.47C743.26 352.86 741.08 352.44 738.94 351.85C737.13 351.36 735.35 350.78 733.56 350.24C732.84 351.68 732.31 353.22 731.41 354.54C730.33 356.11 728.84 357.37 727.64 358.85C726.51 360.24 725.46 361.69 724.41 363.15C723.66 364.20 723.22 365.51 722.26 366.38C721.19 367.35 719.91 368.21 718.50 368.53C716.92 368.88 715.27 368.38 713.66 368.31C713.66 367.74 713.27 367.01 713.66 366.59C714.84 365.33 716.63 364.79 717.96 363.69C719.33 362.56 720.62 361.31 721.72 359.92C722.78 358.60 723.95 357.25 724.41 355.62C724.71 354.57 724.43 353.33 723.88 352.39C723.11 351.08 721.56 350.38 720.65 349.17C719.93 348.20 719.57 347.01 719.04 345.94C718.50 344.86 717.96 343.79 717.42 342.71C715.27 343.43 713.13 344.20 710.97 344.86C708.47 345.63 705.98 346.41 703.44 347.01C700.95 347.60 698.42 347.98 695.91 348.41C694.66 348.63 693.40 348.77 692.14 348.95C692.14 350.81 691.96 352.69 692.14 354.54C692.32 356.36 692.88 358.13 693.22 359.92C693.49 361.35 693.97 362.77 693.97 364.23C693.97 364.82 693.69 365.49 693.22 365.84C692.62 366.28 691.67 365.95 691.07 366.38C690.34 366.90 690.21 368.05 689.45 368.53C688.51 369.12 687.33 369.51 686.23 369.39C685.52 369.31 685.15 368.46 684.61 367.99C685.33 367.09 686.15 366.27 686.76 365.30C687.41 364.29 688.29 363.27 688.38 362.07C688.48 360.60 687.77 359.17 687.30 357.77C686.69 355.94 686.01 354.12 685.15 352.39C684.39 350.88 683.52 349.41 682.46 348.09C682.06 347.58 681.38 347.37 680.85 347.01C679.77 348.45 678.65 349.85 677.62 351.32C676.14 353.44 674.77 355.63 673.32 357.77C672.08 359.58 670.61 361.24 669.55 363.15C668.81 364.49 668.39 365.99 667.94 367.45C667.67 368.33 667.93 369.40 667.40 370.14C666.93 370.79 665.92 370.78 665.25 371.22C664.65 371.61 664.33 372.48 663.64 372.62C661.88 372.97 660.05 372.62 658.26 372.62C658.08 372.26 657.50 371.88 657.72 371.54C658.53 370.31 660.10 369.73 660.95 368.53C662.10 366.89 662.95 365.03 663.64 363.15C664.39 361.07 664.76 358.86 665.25 356.70C665.65 354.91 666.32 353.15 666.32 351.32C666.32 349.84 665.97 348.30 665.25 347.01C664.31 345.35 662.88 344.01 661.48 342.71C660.17 341.49 658.75 340.35 657.18 339.48C655.49 338.55 653.68 337.77 651.80 337.33C649.34 336.76 646.79 336.62 644.27 336.47C641.77 336.33 639.25 336.41 636.74 336.47C634.95 336.52 633.15 336.57 631.36 336.79C630.27 336.93 629.24 337.60 628.14 337.55C627.00 337.49 625.96 336.89 624.91 336.47C623.99 336.10 622.99 335.81 622.22 335.18C621.33 334.45 620.77 333.40 620.07 332.49C619.44 331.68 618.85 330.84 618.24 330.02Z"/>
<path transform="translate(0 484)" d="M744.85 317.11C743.96 315.53 748.30 318.43 749.69 319.58C750.88 320.57 751.63 322.00 752.38 323.35C753.14 324.71 753.51 326.26 754.21 327.65C754.88 328.99 757.46 332.64 756.47 331.52" fill="none" stroke="#111" stroke-width="1.3" stroke-linecap="round"/>
<path id="boar3" transform="translate(0 990)" clip-path="url(#clip-boar)" d="M618.24 330.02C619.75 329.41 621.34 328.99 622.76 328.19C624.66 327.11 626.34 325.68 628.14 324.42C629.93 323.17 631.88 322.11 633.51 320.66C635.13 319.22 636.64 317.63 637.82 315.82C638.89 314.18 639.56 312.30 640.18 310.44C640.71 308.87 640.56 307.09 641.26 305.60C641.78 304.50 642.68 303.52 643.73 302.91C645.55 301.86 647.63 301.32 649.65 300.76C652.12 300.07 654.65 299.57 657.18 299.14C659.32 298.78 661.47 298.55 663.64 298.39C666.50 298.19 669.37 298.03 672.24 298.07C675.11 298.10 678.00 298.20 680.85 298.61C683.04 298.92 685.16 299.64 687.30 300.22C690.18 301.00 693.04 301.85 695.91 302.69C699.50 303.75 703.04 304.98 706.66 305.92C710.22 306.84 713.83 307.53 717.42 308.29C721.00 309.04 724.64 309.50 728.18 310.44C730.76 311.12 733.20 312.23 735.71 313.13C738.22 314.02 740.73 314.92 743.24 315.82C745.03 316.46 746.91 316.90 748.62 317.75C749.81 318.35 750.97 319.11 751.85 320.12C752.63 321.03 752.98 322.24 753.46 323.35C754.06 324.76 754.46 326.25 755.07 327.65C755.64 328.94 756.36 330.16 757.01 331.42C756.72 331.77 756.58 332.65 756.15 332.49C755.19 332.15 754.90 330.79 754.00 330.34C753.64 330.16 752.99 330.48 752.92 330.88C752.60 332.64 752.83 334.47 752.92 336.26C753.01 338.06 752.92 339.92 753.46 341.64C753.84 342.87 755.07 343.69 755.61 344.86C756.16 346.05 756.54 347.33 756.69 348.63C756.90 350.59 756.59 352.57 756.69 354.54C756.77 356.34 757.04 358.13 757.22 359.92C757.40 361.72 757.87 363.50 757.76 365.30C757.69 366.43 757.38 367.63 756.69 368.53C756.04 369.35 754.82 369.50 754.00 370.14C753.20 370.76 752.80 371.95 751.85 372.29C750.67 372.72 749.34 372.29 748.08 372.29C747.90 371.76 747.24 371.16 747.54 370.68C748.28 369.49 749.99 369.16 750.77 367.99C751.49 366.90 751.67 365.52 751.85 364.23C752.03 362.80 752.09 361.34 751.85 359.92C751.55 358.25 751.43 356.28 750.23 355.08C749.03 353.88 747.03 353.94 745.39 353.47C743.26 352.86 741.08 352.44 738.94 351.85C737.13 351.36 735.35 350.78 733.56 350.24C732.84 351.68 732.31 353.22 731.41 354.54C730.33 356.11 728.84 357.37 727.64 358.85C726.51 360.24 725.46 361.69 724.41 363.15C723.66 364.20 723.22 365.51 722.26 366.38C721.19 367.35 719.91 368.21 718.50 368.53C716.92 368.88 715.27 368.38 713.66 368.31C713.66 367.74 713.27 367.01 713.66 366.59C714.84 365.33 716.63 364.79 717.96 363.69C719.33 362.56 720.62 361.31 721.72 359.92C722.78 358.60 723.95 357.25 724.41 355.62C724.71 354.57 724.43 353.33 723.88 352.39C723.11 351.08 721.56 350.38 720.65 349.17C719.93 348.20 719.57 347.01 719.04 345.94C718.50 344.86 717.96 343.79 717.42 342.71C715.27 343.43 713.13 344.20 710.97 344.86C708.47 345.63 705.98 346.41 703.44 347.01C700.95 347.60 698.42 347.98 695.91 348.41C694.66 348.63 693.40 348.77 692.14 348.95C692.14 350.81 691.96 352.69 692.14 354.54C692.32 356.36 692.88 358.13 693.22 359.92C693.49 361.35 693.97 362.77 693.97 364.23C693.97 364.82 693.69 365.49 693.22 365.84C692.62 366.28 691.67 365.95 691.07 366.38C690.34 366.90 690.21 368.05 689.45 368.53C688.51 369.12 687.33 369.51 686.23 369.39C685.52 369.31 685.15 368.46 684.61 367.99C685.33 367.09 686.15 366.27 686.76 365.30C687.41 364.29 688.29 363.27 688.38 362.07C688.48 360.60 687.77 359.17 687.30 357.77C686.69 355.94 686.01 354.12 685.15 352.39C684.39 350.88 683.52 349.41 682.46 348.09C682.06 347.58 681.38 347.37 680.85 347.01C679.77 348.45 678.65 349.85 677.62 351.32C676.14 353.44 674.77 355.63 673.32 357.77C672.08 359.58 670.61 361.24 669.55 363.15C668.81 364.49 668.39 365.99 667.94 367.45C667.67 368.33 667.93 369.40 667.40 370.14C666.93 370.79 665.92 370.78 665.25 371.22C664.65 371.61 664.33 372.48 663.64 372.62C661.88 372.97 660.05 372.62 658.26 372.62C658.08 372.26 657.50 371.88 657.72 371.54C658.53 370.31 660.10 369.73 660.95 368.53C662.10 366.89 662.95 365.03 663.64 363.15C664.39 361.07 664.76 358.86 665.25 356.70C665.65 354.91 666.32 353.15 666.32 351.32C666.32 349.84 665.97 348.30 665.25 347.01C664.31 345.35 662.88 344.01 661.48 342.71C660.17 341.49 658.75 340.35 657.18 339.48C655.49 338.55 653.68 337.77 651.80 337.33C649.34 336.76 646.79 336.62 644.27 336.47C641.77 336.33 639.25 336.41 636.74 336.47C634.95 336.52 633.15 336.57 631.36 336.79C630.27 336.93 629.24 337.60 628.14 337.55C627.00 337.49 625.96 336.89 624.91 336.47C623.99 336.10 622.99 335.81 622.22 335.18C621.33 334.45 620.77 333.40 620.07 332.49C619.44 331.68 618.85 330.84 618.24 330.02Z"/>
<path transform="translate(0 990)" d="M744.85 317.11C743.96 315.53 748.30 318.43 749.69 319.58C750.88 320.57 751.63 322.00 752.38 323.35C753.14 324.71 753.51 326.26 754.21 327.65C754.88 328.99 757.46 332.64 756.47 331.52" fill="none" stroke="#111" stroke-width="1.3" stroke-linecap="round"/>
<path id="hare1" clip-path="url(#clip-hare)" d="M1034.42 318.94C1035.00 318.99 1035.73 319.03 1036.06 319.50C1036.61 320.29 1036.63 321.36 1036.77 322.31C1036.94 323.55 1036.92 324.81 1037.00 326.06C1037.07 327.16 1037.08 328.26 1037.24 329.34C1037.32 329.91 1037.34 330.55 1037.70 330.98C1038.25 331.63 1039.15 331.87 1039.81 332.39C1040.64 333.04 1041.43 333.74 1042.16 334.50C1042.85 335.23 1043.49 336.01 1044.03 336.84C1044.51 337.58 1044.81 338.41 1045.20 339.19C1045.59 339.97 1046.04 340.72 1046.38 341.53C1046.62 342.14 1046.94 342.75 1046.94 343.41C1046.94 343.91 1046.74 344.46 1046.38 344.81C1045.87 345.30 1045.08 345.36 1044.50 345.75C1044.13 346.00 1043.96 346.49 1043.56 346.69C1043.14 346.90 1042.63 346.96 1042.16 346.92C1041.59 346.88 1041.07 346.60 1040.52 346.45C1040.21 346.37 1039.83 346.01 1039.58 346.22C1039.20 346.54 1039.08 347.13 1039.11 347.63C1039.16 348.44 1039.69 349.16 1039.81 349.97C1039.93 350.74 1039.98 351.55 1039.81 352.31C1039.66 353.00 1039.26 353.61 1038.88 354.19C1038.32 355.02 1037.71 355.82 1037.00 356.53C1036.14 357.39 1035.10 358.06 1034.19 358.88C1033.69 359.32 1032.98 359.65 1032.78 360.28C1032.55 361.03 1032.88 361.85 1033.02 362.63C1033.19 363.58 1033.44 364.51 1033.72 365.44C1033.99 366.31 1034.38 367.14 1034.66 368.02C1034.78 368.40 1035.00 368.80 1034.89 369.19C1034.74 369.73 1034.42 370.27 1033.95 370.59C1033.34 371.02 1032.58 371.34 1031.84 371.30C1031.00 371.25 1030.21 370.81 1029.50 370.36C1028.94 370.01 1028.48 369.49 1028.09 368.95C1027.69 368.39 1027.52 367.67 1027.16 367.08C1026.89 366.65 1026.67 366.13 1026.22 365.91C1025.80 365.70 1025.25 365.74 1024.81 365.91C1023.96 366.23 1023.27 366.88 1022.47 367.31C1021.55 367.82 1020.63 368.33 1019.66 368.72C1018.90 369.02 1018.10 369.19 1017.31 369.38C1016.66 369.53 1016.00 369.63 1015.34 369.75C1015.59 370.09 1016.24 370.38 1016.09 370.78C1015.89 371.35 1015.16 371.60 1014.59 371.81C1013.67 372.17 1012.68 372.36 1011.69 372.47C1010.60 372.59 1009.50 372.55 1008.41 372.47C1007.46 372.40 1006.48 372.34 1005.59 372.00C1004.80 371.70 1004.06 371.21 1003.48 370.59C1002.86 369.93 1002.43 369.09 1002.08 368.25C1001.64 367.20 1001.43 366.07 1001.14 364.97C1000.81 363.72 1000.44 362.49 1000.20 361.22C999.97 359.98 999.78 358.73 999.73 357.47C999.70 356.37 999.72 355.26 999.97 354.19C1000.20 353.20 1000.61 352.24 1001.14 351.38C1001.72 350.43 1002.45 349.56 1003.25 348.80C1004.26 347.84 1005.42 347.05 1006.53 346.22C1007.61 345.41 1008.73 344.67 1009.81 343.88C1010.76 343.18 1011.65 342.42 1012.63 341.77C1013.53 341.16 1014.44 340.55 1015.44 340.13C1016.49 339.68 1017.61 339.45 1018.72 339.19C1019.96 338.90 1021.21 338.65 1022.47 338.48C1023.56 338.34 1024.66 338.38 1025.75 338.25C1026.69 338.14 1027.69 338.15 1028.56 337.78C1029.23 337.50 1029.80 336.97 1030.20 336.38C1030.68 335.68 1031.00 334.86 1031.14 334.03C1031.32 332.95 1031.26 331.84 1031.14 330.75C1031.02 329.64 1030.65 328.57 1030.44 327.47C1030.26 326.54 1029.97 325.61 1029.97 324.66C1029.97 323.86 1030.11 323.04 1030.44 322.31C1030.76 321.60 1031.31 321.01 1031.84 320.44C1032.26 319.99 1032.72 319.57 1033.25 319.27C1033.60 319.06 1034.02 318.90 1034.42 318.94Z"/>
<path d="M1029.88 361.13C1029.60 360.02 1030.21 363.38 1030.44 364.50C1030.67 365.64 1031.47 369.02 1031.28 367.88" fill="none" stroke="#111" stroke-width="1.1" stroke-linecap="round"/>
<path id="hare2" transform="translate(0 500)" clip-path="url(#clip-hare)" d="M1034.42 318.94C1035.00 318.99 1035.73 319.03 1036.06 319.50C1036.61 320.29 1036.63 321.36 1036.77 322.31C1036.94 323.55 1036.92 324.81 1037.00 326.06C1037.07 327.16 1037.08 328.26 1037.24 329.34C1037.32 329.91 1037.34 330.55 1037.70 330.98C1038.25 331.63 1039.15 331.87 1039.81 332.39C1040.64 333.04 1041.43 333.74 1042.16 334.50C1042.85 335.23 1043.49 336.01 1044.03 336.84C1044.51 337.58 1044.81 338.41 1045.20 339.19C1045.59 339.97 1046.04 340.72 1046.38 341.53C1046.62 342.14 1046.94 342.75 1046.94 343.41C1046.94 343.91 1046.74 344.46 1046.38 344.81C1045.87 345.30 1045.08 345.36 1044.50 345.75C1044.13 346.00 1043.96 346.49 1043.56 346.69C1043.14 346.90 1042.63 346.96 1042.16 346.92C1041.59 346.88 1041.07 346.60 1040.52 346.45C1040.21 346.37 1039.83 346.01 1039.58 346.22C1039.20 346.54 1039.08 347.13 1039.11 347.63C1039.16 348.44 1039.69 349.16 1039.81 349.97C1039.93 350.74 1039.98 351.55 1039.81 352.31C1039.66 353.00 1039.26 353.61 1038.88 354.19C1038.32 355.02 1037.71 355.82 1037.00 356.53C1036.14 357.39 1035.10 358.06 1034.19 358.88C1033.69 359.32 1032.98 359.65 1032.78 360.28C1032.55 361.03 1032.88 361.85 1033.02 362.63C1033.19 363.58 1033.44 364.51 1033.72 365.44C1033.99 366.31 1034.38 367.14 1034.66 368.02C1034.78 368.40 1035.00 368.80 1034.89 369.19C1034.74 369.73 1034.42 370.27 1033.95 370.59C1033.34 371.02 1032.58 371.34 1031.84 371.30C1031.00 371.25 1030.21 370.81 1029.50 370.36C1028.94 370.01 1028.48 369.49 1028.09 368.95C1027.69 368.39 1027.52 367.67 1027.16 367.08C1026.89 366.65 1026.67 366.13 1026.22 365.91C1025.80 365.70 1025.25 365.74 1024.81 365.91C1023.96 366.23 1023.27 366.88 1022.47 367.31C1021.55 367.82 1020.63 368.33 1019.66 368.72C1018.90 369.02 1018.10 369.19 1017.31 369.38C1016.66 369.53 1016.00 369.63 1015.34 369.75C1015.59 370.09 1016.24 370.38 1016.09 370.78C1015.89 371.35 1015.16 371.60 1014.59 371.81C1013.67 372.17 1012.68 372.36 1011.69 372.47C1010.60 372.59 1009.50 372.55 1008.41 372.47C1007.46 372.40 1006.48 372.34 1005.59 372.00C1004.80 371.70 1004.06 371.21 1003.48 370.59C1002.86 369.93 1002.43 369.09 1002.08 368.25C1001.64 367.20 1001.43 366.07 1001.14 364.97C1000.81 363.72 1000.44 362.49 1000.20 361.22C999.97 359.98 999.78 358.73 999.73 357.47C999.70 356.37 999.72 355.26 999.97 354.19C1000.20 353.20 1000.61 352.24 1001.14 351.38C1001.72 350.43 1002.45 349.56 1003.25 348.80C1004.26 347.84 1005.42 347.05 1006.53 346.22C1007.61 345.41 1008.73 344.67 1009.81 343.88C1010.76 343.18 1011.65 342.42 1012.63 341.77C1013.53 341.16 1014.44 340.55 1015.44 340.13C1016.49 339.68 1017.61 339.45 1018.72 339.19C1019.96 338.90 1021.21 338.65 1022.47 338.48C1023.56 338.34 1024.66 338.38 1025.75 338.25C1026.69 338.14 1027.69 338.15 1028.56 337.78C1029.23 337.50 1029.80 336.97 1030.20 336.38C1030.68 335.68 1031.00 334.86 1031.14 334.03C1031.32 332.95 1031.26 331.84 1031.14 330.75C1031.02 329.64 1030.65 328.57 1030.44 327.47C1030.26 326.54 1029.97 325.61 1029.97 324.66C1029.97 323.86 1030.11 323.04 1030.44 322.31C1030.76 321.60 1031.31 321.01 1031.84 320.44C1032.26 319.99 1032.72 319.57 1033.25 319.27C1033.60 319.06 1034.02 318.90 1034.42 318.94Z"/>
<path transform="translate(0 500)" d="M1029.88 361.13C1029.60 360.02 1030.21 363.38 1030.44 364.50C1030.67 365.64 1031.47 369.02 1031.28 367.88" fill="none" stroke="#111" stroke-width="1.1" stroke-linecap="round"/>
<path id="hare3" transform="translate(0 978.1)" clip-path="url(#clip-hare)" d="M1034.42 318.94C1035.00 318.99 1035.73 319.03 1036.06 319.50C1036.61 320.29 1036.63 321.36 1036.77 322.31C1036.94 323.55 1036.92 324.81 1037.00 326.06C1037.07 327.16 1037.08 328.26 1037.24 329.34C1037.32 329.91 1037.34 330.55 1037.70 330.98C1038.25 331.63 1039.15 331.87 1039.81 332.39C1040.64 333.04 1041.43 333.74 1042.16 334.50C1042.85 335.23 1043.49 336.01 1044.03 336.84C1044.51 337.58 1044.81 338.41 1045.20 339.19C1045.59 339.97 1046.04 340.72 1046.38 341.53C1046.62 342.14 1046.94 342.75 1046.94 343.41C1046.94 343.91 1046.74 344.46 1046.38 344.81C1045.87 345.30 1045.08 345.36 1044.50 345.75C1044.13 346.00 1043.96 346.49 1043.56 346.69C1043.14 346.90 1042.63 346.96 1042.16 346.92C1041.59 346.88 1041.07 346.60 1040.52 346.45C1040.21 346.37 1039.83 346.01 1039.58 346.22C1039.20 346.54 1039.08 347.13 1039.11 347.63C1039.16 348.44 1039.69 349.16 1039.81 349.97C1039.93 350.74 1039.98 351.55 1039.81 352.31C1039.66 353.00 1039.26 353.61 1038.88 354.19C1038.32 355.02 1037.71 355.82 1037.00 356.53C1036.14 357.39 1035.10 358.06 1034.19 358.88C1033.69 359.32 1032.98 359.65 1032.78 360.28C1032.55 361.03 1032.88 361.85 1033.02 362.63C1033.19 363.58 1033.44 364.51 1033.72 365.44C1033.99 366.31 1034.38 367.14 1034.66 368.02C1034.78 368.40 1035.00 368.80 1034.89 369.19C1034.74 369.73 1034.42 370.27 1033.95 370.59C1033.34 371.02 1032.58 371.34 1031.84 371.30C1031.00 371.25 1030.21 370.81 1029.50 370.36C1028.94 370.01 1028.48 369.49 1028.09 368.95C1027.69 368.39 1027.52 367.67 1027.16 367.08C1026.89 366.65 1026.67 366.13 1026.22 365.91C1025.80 365.70 1025.25 365.74 1024.81 365.91C1023.96 366.23 1023.27 366.88 1022.47 367.31C1021.55 367.82 1020.63 368.33 1019.66 368.72C1018.90 369.02 1018.10 369.19 1017.31 369.38C1016.66 369.53 1016.00 369.63 1015.34 369.75C1015.59 370.09 1016.24 370.38 1016.09 370.78C1015.89 371.35 1015.16 371.60 1014.59 371.81C1013.67 372.17 1012.68 372.36 1011.69 372.47C1010.60 372.59 1009.50 372.55 1008.41 372.47C1007.46 372.40 1006.48 372.34 1005.59 372.00C1004.80 371.70 1004.06 371.21 1003.48 370.59C1002.86 369.93 1002.43 369.09 1002.08 368.25C1001.64 367.20 1001.43 366.07 1001.14 364.97C1000.81 363.72 1000.44 362.49 1000.20 361.22C999.97 359.98 999.78 358.73 999.73 357.47C999.70 356.37 999.72 355.26 999.97 354.19C1000.20 353.20 1000.61 352.24 1001.14 351.38C1001.72 350.43 1002.45 349.56 1003.25 348.80C1004.26 347.84 1005.42 347.05 1006.53 346.22C1007.61 345.41 1008.73 344.67 1009.81 343.88C1010.76 343.18 1011.65 342.42 1012.63 341.77C1013.53 341.16 1014.44 340.55 1015.44 340.13C1016.49 339.68 1017.61 339.45 1018.72 339.19C1019.96 338.90 1021.21 338.65 1022.47 338.48C1023.56 338.34 1024.66 338.38 1025.75 338.25C1026.69 338.14 1027.69 338.15 1028.56 337.78C1029.23 337.50 1029.80 336.97 1030.20 336.38C1030.68 335.68 1031.00 334.86 1031.14 334.03C1031.32 332.95 1031.26 331.84 1031.14 330.75C1031.02 329.64 1030.65 328.57 1030.44 327.47C1030.26 326.54 1029.97 325.61 1029.97 324.66C1029.97 323.86 1030.11 323.04 1030.44 322.31C1030.76 321.60 1031.31 321.01 1031.84 320.44C1032.26 319.99 1032.72 319.57 1033.25 319.27C1033.60 319.06 1034.02 318.90 1034.42 318.94Z"/>
<path transform="translate(0 978.1)" d="M1029.88 361.13C1029.60 360.02 1030.21 363.38 1030.44 364.50C1030.67 365.64 1031.47 369.02 1031.28 367.88" fill="none" stroke="#111" stroke-width="1.1" stroke-linecap="round"/>
<path id="marmot1" clip-path="url(#clip-marmot)" d="M1151.64 309.66C1151.79 308.94 1152.67 308.55 1153.34 308.24C1154.41 307.74 1155.58 307.45 1156.75 307.27C1158.06 307.07 1159.41 306.98 1160.73 307.10C1161.89 307.21 1163.05 307.51 1164.14 307.95C1165.16 308.37 1166.12 308.96 1166.98 309.66C1167.75 310.30 1168.44 311.07 1168.97 311.93C1169.50 312.80 1169.82 313.79 1170.10 314.77C1170.48 316.07 1170.63 317.43 1170.95 318.75C1171.29 320.09 1171.71 321.40 1172.09 322.73C1172.47 324.05 1172.94 325.36 1173.23 326.70C1173.51 328.01 1173.69 329.35 1173.80 330.68C1173.92 332.19 1173.77 333.72 1173.91 335.23C1174.05 336.76 1174.36 338.27 1174.65 339.77C1174.98 341.49 1175.41 343.18 1175.78 344.89C1176.16 346.59 1176.60 348.28 1176.92 350.00C1177.27 351.88 1177.52 353.78 1177.77 355.68C1178.00 357.38 1178.13 359.09 1178.34 360.80C1178.51 362.12 1178.52 363.49 1178.91 364.77C1179.19 365.71 1179.59 366.70 1180.33 367.33C1181.01 367.91 1182.00 368.05 1182.89 368.18C1184.01 368.34 1185.16 368.27 1186.30 368.18C1187.63 368.08 1188.94 367.77 1190.27 367.61C1191.78 367.43 1193.30 367.24 1194.82 367.16C1196.14 367.09 1197.48 367.01 1198.80 367.16C1199.68 367.26 1200.59 367.45 1201.35 367.90C1201.88 368.20 1202.54 368.71 1202.49 369.32C1202.42 370.13 1201.68 370.77 1201.07 371.31C1200.23 372.03 1199.25 372.59 1198.23 373.01C1196.95 373.54 1195.60 373.88 1194.25 374.15C1192.75 374.45 1191.23 374.67 1189.70 374.72C1188.38 374.76 1187.04 374.67 1185.73 374.43C1184.37 374.19 1183.05 373.75 1181.75 373.30C1180.59 372.89 1179.48 372.34 1178.34 371.88C1177.40 371.49 1176.50 370.93 1175.50 370.74C1174.01 370.45 1172.47 370.50 1170.95 370.45C1169.06 370.40 1167.17 370.51 1165.27 370.45C1163.76 370.41 1162.24 370.32 1160.73 370.17C1159.39 370.04 1158.06 369.90 1156.75 369.60C1155.96 369.42 1155.17 369.17 1154.48 368.75C1154.04 368.49 1153.39 368.12 1153.45 367.61C1153.53 367.04 1154.23 366.71 1154.76 366.48C1155.56 366.12 1156.49 366.19 1157.32 365.91C1157.64 365.80 1158.30 365.66 1158.17 365.34C1157.80 364.41 1156.80 363.86 1156.18 363.07C1155.47 362.16 1154.73 361.25 1154.19 360.23C1153.63 359.15 1153.20 357.99 1152.89 356.82C1152.54 355.52 1152.37 354.18 1152.20 352.84C1152.04 351.52 1151.87 350.19 1151.92 348.86C1151.97 347.53 1152.20 346.20 1152.49 344.89C1152.68 344.01 1153.06 343.18 1153.34 342.33C1152.68 342.52 1152.03 343.04 1151.35 342.90C1150.56 342.73 1149.88 342.11 1149.36 341.48C1149.12 341.18 1149.05 340.67 1149.25 340.34C1149.68 339.63 1150.43 339.16 1151.07 338.64C1151.70 338.12 1152.68 337.94 1153.06 337.22C1153.54 336.29 1153.41 335.14 1153.45 334.09C1153.51 332.77 1153.21 331.43 1153.34 330.11C1153.46 328.95 1153.71 327.77 1154.19 326.70C1154.67 325.65 1155.45 324.76 1156.18 323.86C1156.78 323.14 1157.87 322.76 1158.17 321.88C1158.42 321.13 1157.95 320.30 1157.60 319.60C1157.27 318.94 1156.75 318.38 1156.18 317.90C1155.50 317.32 1154.57 317.08 1153.91 316.48C1153.50 316.11 1153.14 315.60 1153.06 315.06C1152.98 314.57 1153.55 314.12 1153.45 313.64C1153.34 313.07 1152.73 312.74 1152.49 312.22C1152.12 311.40 1151.45 310.54 1151.64 309.66Z"/>
<path id="marmot2" transform="translate(0 497.8)" clip-path="url(#clip-marmot)" d="M1151.64 309.66C1151.79 308.94 1152.67 308.55 1153.34 308.24C1154.41 307.74 1155.58 307.45 1156.75 307.27C1158.06 307.07 1159.41 306.98 1160.73 307.10C1161.89 307.21 1163.05 307.51 1164.14 307.95C1165.16 308.37 1166.12 308.96 1166.98 309.66C1167.75 310.30 1168.44 311.07 1168.97 311.93C1169.50 312.80 1169.82 313.79 1170.10 314.77C1170.48 316.07 1170.63 317.43 1170.95 318.75C1171.29 320.09 1171.71 321.40 1172.09 322.73C1172.47 324.05 1172.94 325.36 1173.23 326.70C1173.51 328.01 1173.69 329.35 1173.80 330.68C1173.92 332.19 1173.77 333.72 1173.91 335.23C1174.05 336.76 1174.36 338.27 1174.65 339.77C1174.98 341.49 1175.41 343.18 1175.78 344.89C1176.16 346.59 1176.60 348.28 1176.92 350.00C1177.27 351.88 1177.52 353.78 1177.77 355.68C1178.00 357.38 1178.13 359.09 1178.34 360.80C1178.51 362.12 1178.52 363.49 1178.91 364.77C1179.19 365.71 1179.59 366.70 1180.33 367.33C1181.01 367.91 1182.00 368.05 1182.89 368.18C1184.01 368.34 1185.16 368.27 1186.30 368.18C1187.63 368.08 1188.94 367.77 1190.27 367.61C1191.78 367.43 1193.30 367.24 1194.82 367.16C1196.14 367.09 1197.48 367.01 1198.80 367.16C1199.68 367.26 1200.59 367.45 1201.35 367.90C1201.88 368.20 1202.54 368.71 1202.49 369.32C1202.42 370.13 1201.68 370.77 1201.07 371.31C1200.23 372.03 1199.25 372.59 1198.23 373.01C1196.95 373.54 1195.60 373.88 1194.25 374.15C1192.75 374.45 1191.23 374.67 1189.70 374.72C1188.38 374.76 1187.04 374.67 1185.73 374.43C1184.37 374.19 1183.05 373.75 1181.75 373.30C1180.59 372.89 1179.48 372.34 1178.34 371.88C1177.40 371.49 1176.50 370.93 1175.50 370.74C1174.01 370.45 1172.47 370.50 1170.95 370.45C1169.06 370.40 1167.17 370.51 1165.27 370.45C1163.76 370.41 1162.24 370.32 1160.73 370.17C1159.39 370.04 1158.06 369.90 1156.75 369.60C1155.96 369.42 1155.17 369.17 1154.48 368.75C1154.04 368.49 1153.39 368.12 1153.45 367.61C1153.53 367.04 1154.23 366.71 1154.76 366.48C1155.56 366.12 1156.49 366.19 1157.32 365.91C1157.64 365.80 1158.30 365.66 1158.17 365.34C1157.80 364.41 1156.80 363.86 1156.18 363.07C1155.47 362.16 1154.73 361.25 1154.19 360.23C1153.63 359.15 1153.20 357.99 1152.89 356.82C1152.54 355.52 1152.37 354.18 1152.20 352.84C1152.04 351.52 1151.87 350.19 1151.92 348.86C1151.97 347.53 1152.20 346.20 1152.49 344.89C1152.68 344.01 1153.06 343.18 1153.34 342.33C1152.68 342.52 1152.03 343.04 1151.35 342.90C1150.56 342.73 1149.88 342.11 1149.36 341.48C1149.12 341.18 1149.05 340.67 1149.25 340.34C1149.68 339.63 1150.43 339.16 1151.07 338.64C1151.70 338.12 1152.68 337.94 1153.06 337.22C1153.54 336.29 1153.41 335.14 1153.45 334.09C1153.51 332.77 1153.21 331.43 1153.34 330.11C1153.46 328.95 1153.71 327.77 1154.19 326.70C1154.67 325.65 1155.45 324.76 1156.18 323.86C1156.78 323.14 1157.87 322.76 1158.17 321.88C1158.42 321.13 1157.95 320.30 1157.60 319.60C1157.27 318.94 1156.75 318.38 1156.18 317.90C1155.50 317.32 1154.57 317.08 1153.91 316.48C1153.50 316.11 1153.14 315.60 1153.06 315.06C1152.98 314.57 1153.55 314.12 1153.45 313.64C1153.34 313.07 1152.73 312.74 1152.49 312.22C1152.12 311.40 1151.45 310.54 1151.64 309.66Z"/>
<path id="marmot3" transform="translate(0 978.8)" clip-path="url(#clip-marmot)" d="M1151.64 309.66C1151.79 308.94 1152.67 308.55 1153.34 308.24C1154.41 307.74 1155.58 307.45 1156.75 307.27C1158.06 307.07 1159.41 306.98 1160.73 307.10C1161.89 307.21 1163.05 307.51 1164.14 307.95C1165.16 308.37 1166.12 308.96 1166.98 309.66C1167.75 310.30 1168.44 311.07 1168.97 311.93C1169.50 312.80 1169.82 313.79 1170.10 314.77C1170.48 316.07 1170.63 317.43 1170.95 318.75C1171.29 320.09 1171.71 321.40 1172.09 322.73C1172.47 324.05 1172.94 325.36 1173.23 326.70C1173.51 328.01 1173.69 329.35 1173.80 330.68C1173.92 332.19 1173.77 333.72 1173.91 335.23C1174.05 336.76 1174.36 338.27 1174.65 339.77C1174.98 341.49 1175.41 343.18 1175.78 344.89C1176.16 346.59 1176.60 348.28 1176.92 350.00C1177.27 351.88 1177.52 353.78 1177.77 355.68C1178.00 357.38 1178.13 359.09 1178.34 360.80C1178.51 362.12 1178.52 363.49 1178.91 364.77C1179.19 365.71 1179.59 366.70 1180.33 367.33C1181.01 367.91 1182.00 368.05 1182.89 368.18C1184.01 368.34 1185.16 368.27 1186.30 368.18C1187.63 368.08 1188.94 367.77 1190.27 367.61C1191.78 367.43 1193.30 367.24 1194.82 367.16C1196.14 367.09 1197.48 367.01 1198.80 367.16C1199.68 367.26 1200.59 367.45 1201.35 367.90C1201.88 368.20 1202.54 368.71 1202.49 369.32C1202.42 370.13 1201.68 370.77 1201.07 371.31C1200.23 372.03 1199.25 372.59 1198.23 373.01C1196.95 373.54 1195.60 373.88 1194.25 374.15C1192.75 374.45 1191.23 374.67 1189.70 374.72C1188.38 374.76 1187.04 374.67 1185.73 374.43C1184.37 374.19 1183.05 373.75 1181.75 373.30C1180.59 372.89 1179.48 372.34 1178.34 371.88C1177.40 371.49 1176.50 370.93 1175.50 370.74C1174.01 370.45 1172.47 370.50 1170.95 370.45C1169.06 370.40 1167.17 370.51 1165.27 370.45C1163.76 370.41 1162.24 370.32 1160.73 370.17C1159.39 370.04 1158.06 369.90 1156.75 369.60C1155.96 369.42 1155.17 369.17 1154.48 368.75C1154.04 368.49 1153.39 368.12 1153.45 367.61C1153.53 367.04 1154.23 366.71 1154.76 366.48C1155.56 366.12 1156.49 366.19 1157.32 365.91C1157.64 365.80 1158.30 365.66 1158.17 365.34C1157.80 364.41 1156.80 363.86 1156.18 363.07C1155.47 362.16 1154.73 361.25 1154.19 360.23C1153.63 359.15 1153.20 357.99 1152.89 356.82C1152.54 355.52 1152.37 354.18 1152.20 352.84C1152.04 351.52 1151.87 350.19 1151.92 348.86C1151.97 347.53 1152.20 346.20 1152.49 344.89C1152.68 344.01 1153.06 343.18 1153.34 342.33C1152.68 342.52 1152.03 343.04 1151.35 342.90C1150.56 342.73 1149.88 342.11 1149.36 341.48C1149.12 341.18 1149.05 340.67 1149.25 340.34C1149.68 339.63 1150.43 339.16 1151.07 338.64C1151.70 338.12 1152.68 337.94 1153.06 337.22C1153.54 336.29 1153.41 335.14 1153.45 334.09C1153.51 332.77 1153.21 331.43 1153.34 330.11C1153.46 328.95 1153.71 327.77 1154.19 326.70C1154.67 325.65 1155.45 324.76 1156.18 323.86C1156.78 323.14 1157.87 322.76 1158.17 321.88C1158.42 321.13 1157.95 320.30 1157.60 319.60C1157.27 318.94 1156.75 318.38 1156.18 317.90C1155.50 317.32 1154.57 317.08 1153.91 316.48C1153.50 316.11 1153.14 315.60 1153.06 315.06C1152.98 314.57 1153.55 314.12 1153.45 313.64C1153.34 313.07 1152.73 312.74 1152.49 312.22C1152.12 311.40 1151.45 310.54 1151.64 309.66Z"/>
</g>
</svg></body></html>
